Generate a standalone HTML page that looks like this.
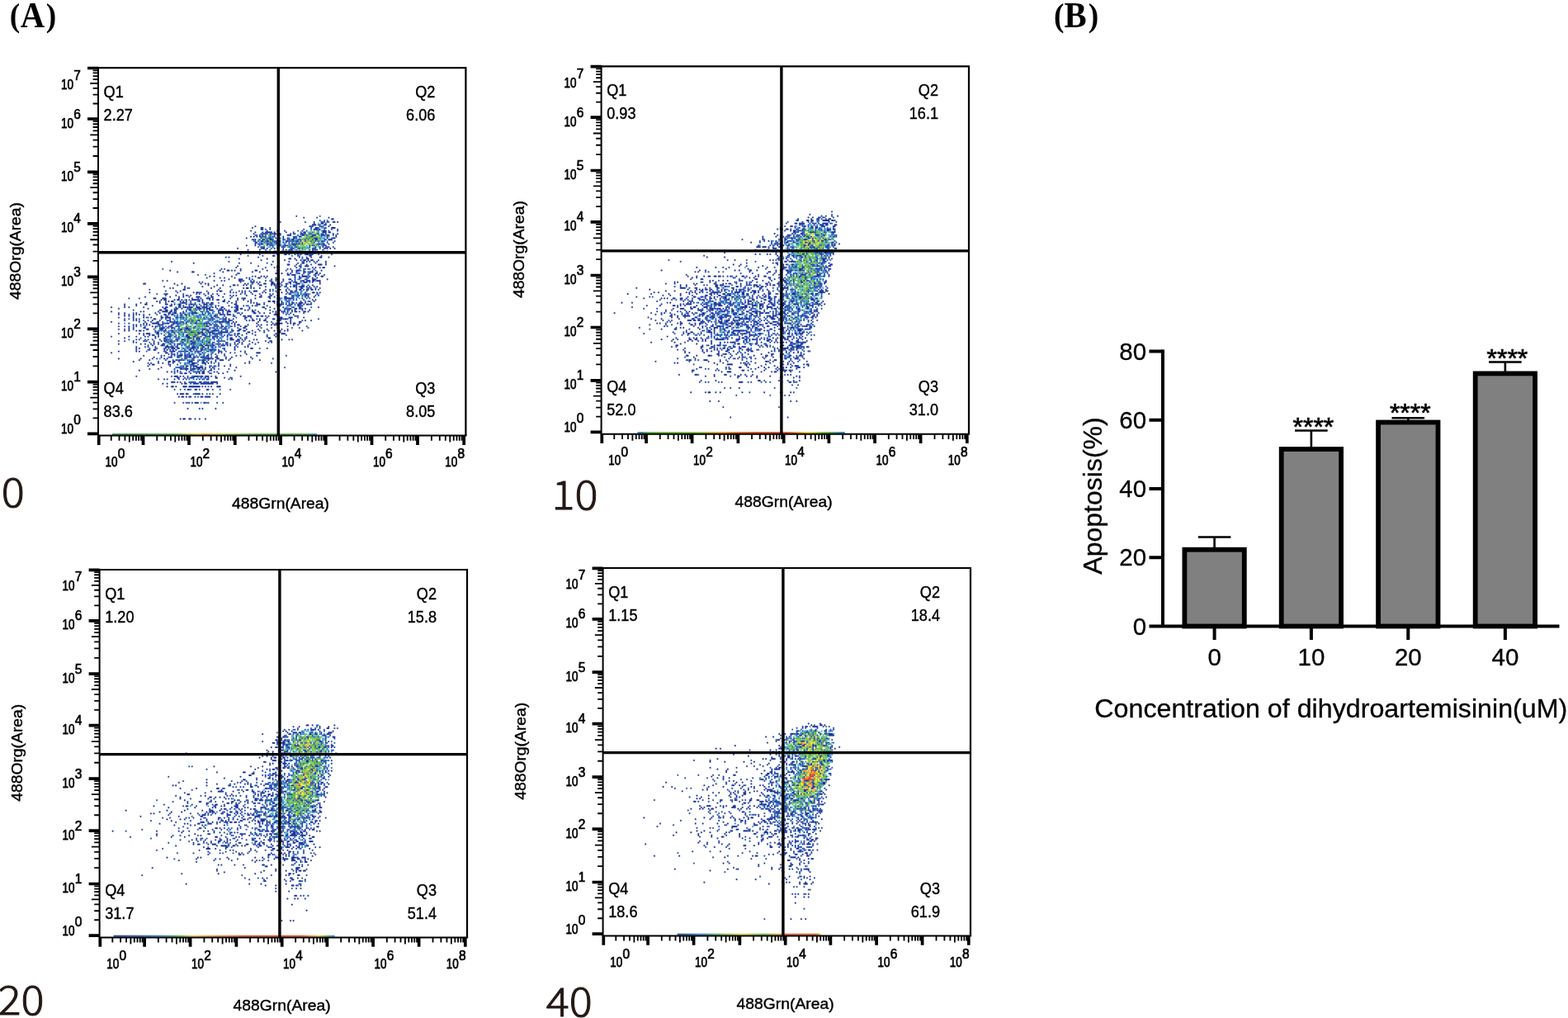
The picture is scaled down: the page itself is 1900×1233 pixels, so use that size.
<!DOCTYPE html>
<html lang="en"><head><meta charset="utf-8"><title>Figure: apoptosis flow cytometry and quantification</title>
<style>html,body{margin:0;padding:0;background:#fff}body{width:1900px;height:1233px;overflow:hidden}svg{display:block}text{white-space:pre}</style>
</head><body>
<svg width="1900" height="1233" viewBox="0 0 1900 1233">
<rect width="1900" height="1233" fill="#fff"/>
<text transform="translate(11.65 0) scale(0.925 1)" font-family='"Liberation Serif", "Times New Roman", serif' font-weight="bold" font-size="44" fill="#000"><tspan x="0" y="32" font-size="40.5">(</tspan><tspan x="14.11" y="32.9">A</tspan><tspan x="47.57" y="32" font-size="40.5">)</tspan></text>
<text transform="translate(1276.9 0) scale(0.925 1)" font-family='"Liberation Serif", "Times New Roman", serif' font-weight="bold" font-size="44" fill="#000"><tspan x="0" y="32" font-size="40.5">(</tspan><tspan x="13.73" y="32.9">B</tspan><tspan x="45.19" y="32" font-size="40.5">)</tspan></text>
<g transform="translate(0 0)">
<defs><g id="sc1"><path stroke="#1c349c" d="M0 0m135 101h0m5 1h0m9 0h0m8 0h0m2 1h1m-9 1h0m-27 1h0m17 0h0m6 0h0m5 0h0m2 0h0m2 0h0m4 0h1m2 0h0m-16 1h0m5 0h1m-7 1h2m2 0h0m4 0h1m3 0h0m-51 1h0m39 0h0m5 0h0m2 0h0m4 0h0m-52 1h0m6 0h1m33 0h0m3 0h1m6 0h0m4 0h2m-50 1h1m2 0h0m3 0h0m23 0h0m7 0h2m10 0h0m4 0h0m-59 1h0m11 0h0m7 0h0m5 0h0m12 0h0m3 0h0m11 0h2m8 0h0m-56 1h0m5 0h0m2 0h4m2 0h0m8 0h0m5 0h0m7 0h1m12 0h2m2 0h1m-52 1h0m9 0h0m3 0h0m2 0h1m3 0h0m7 0h0m2 0h0m5 0h1m2 0h0m3 0h0m6 0h0m3 0h0m2 0h0m5 0h0m3 0h0m-55 1h0m2 0h0m2 0h0m8 0h0m9 0h2m5 0h0m3 0h1m2 0h0m4 0h2m4 0h2m2 0h1m5 0h0m-58 1h0m2 0h0m2 0h0m4 0h0m2 0h0m5 0h0m7 0h0m8 0h0m3 0h1m7 0h1m10 0h0m6 0h0m-61 1h0m10 0h0m5 0h1m4 0h0m5 0h0m3 0h0m4 0h1m8 0h0m2 0h0m3 0h2m7 0h0m4 0h1m-56 1h0m2 0h0m5 0h1m2 0h0m2 0h2m7 0h0m4 0h0m2 0h1m4 0h0m4 0h0m5 0h0m2 0h1m5 0h0m3 0h2m-52 1h0m2 0h0m2 0h1m3 0h1m3 0h0m2 0h0m3 0h0m4 0h1m2 0h0m2 0h0m2 0h1m2 0h0m3 0h0m4 0h0m3 0h0m2 0h0m4 0h0m7 0h0m-54 1h1m10 0h0m2 0h0m2 0h0m4 0h0m4 0h0m9 0h0m8 0h0m6 0h0m3 0h0m4 0h0m-53 1h0m4 0h1m3 0h1m2 0h0m5 0h0m9 0h3m2 0h0m2 0h0m11 0h1m2 0h1m3 0h0m-56 1h0m6 0h0m10 0h0m6 0h1m3 0h1m6 0h0m10 0h0m2 0h0m9 0h0m-44 1h0m2 0h0m13 0h0m4 0h0m5 0h0m9 0h0m4 0h0m3 0h0m2 0h0m2 0h0m2 0h0m-62 1h0m17 0h1m2 0h0m5 0h0m3 0h0m3 0h0m11 0h0m14 0h0m3 0h0m2 0h0m2 0h0m3 0h0m-59 1h0m8 0h0m16 0h0m2 0h0m3 0h1m14 0h0m2 0h0m5 0h0m-38 1h0m5 0h0m3 0h0m2 0h0m2 0h0m9 0h3m7 0h0m8 0h0m2 0h0m-53 1h0m17 0h0m9 0h0m2 0h1m3 0h1m3 0h1m2 0h0m2 0h0m3 0h1m4 0h0m3 0h0m-58 1h0m13 0h0m12 0h0m5 0h1m2 0h0m4 0h0m2 0h0m2 0h0m3 0h2m16 0h0m-47 1h0m7 0h1m16 0h0m8 0h1m7 0h0m-65 1h0m2 0h0m20 0h0m28 0h0m5 0h0m3 0h0m6 0h1m5 0h0m-42 1h0m15 0h1m3 0h0m8 0h1m-32 1h0m16 0h0m8 0h0m3 0h0m2 0h1m2 0h0m2 0h1m-96 1h0m69 0h0m11 0h0m10 0h0m2 0h0m2 0h0m3 0h0m2 0h0m6 0h0m-90 1h0m31 0h0m8 0h0m32 0h0m3 0h1m8 0h0m-30 1h0m11 0h1m12 0h0m8 0h2m3 0h0m-60 1h0m14 0h0m13 0h0m12 0h0m3 0h1m3 0h2m18 0h0m-67 1h0m20 0h0m6 0h0m2 0h0m13 0h0m3 0h0m8 0h0m2 0h0m3 0h0m2 0h1m-70 1h0m2 0h0m11 0h0m15 0h0m17 0h0m2 0h0m10 0h0m2 0h0m4 0h0m-98 1h0m34 0h0m5 0h1m2 0h0m2 0h0m4 0h0m10 0h1m7 0h0m7 0h0m10 0h0m3 0h2m3 0h0m12 0h0m-98 1h0m10 0h1m20 0h0m20 0h0m5 0h0m22 0h0m3 0h0m5 0h1m3 0h2m3 0h0m-70 1h0m16 0h0m26 0h1m3 0h0m4 0h0m2 0h0m6 0h0m3 0h0m4 0h0m4 0h1m2 0h0m-83 1h0m26 0h0m35 0h1m2 0h2m5 0h0m4 0h0m5 0h0m2 0h0m4 0h0m-78 1h0m3 0h0m12 0h0m16 0h0m4 0h0m2 0h0m2 0h0m19 0h0m3 0h0m2 0h3m2 0h0m4 0h0m4 0h1m-79 1h0m9 0h0m3 0h0m7 0h0m8 0h0m2 0h0m6 0h1m4 0h0m7 0h0m13 0h0m3 0h1m5 0h0m3 0h0m3 0h0m-60 1h0m7 0h2m5 0h0m2 0h0m13 0h0m3 0h1m4 0h0m4 0h1m10 0h0m5 0h2m8 0h0m-112 1h0m3 0h0m32 0h0m5 0h0m2 0h0m10 0h1m2 0h0m5 0h0m2 0h0m8 0h0m4 0h0m8 0h0m6 0h0m2 0h0m5 0h1m2 0h2m2 0h1m2 0h2m-82 1h0m2 0h0m39 0h0m8 0h1m4 0h0m2 0h0m5 0h1m3 0h1m5 0h2m2 0h0m2 0h0m5 0h0m-120 1h1m20 0h0m5 0h0m13 0h0m3 0h0m2 0h0m25 0h0m2 0h0m3 0h0m4 0h0m4 0h1m4 0h2m2 0h0m6 0h0m3 0h0m4 0h2m14 0h0m-97 1h0m21 0h0m6 0h0m4 0h0m7 0h1m2 0h0m4 0h0m2 0h0m3 0h0m6 0h1m7 0h0m2 0h0m5 0h0m3 0h0m7 0h0m4 0h0m7 0h0m-101 1h0m14 0h0m12 0h0m8 0h0m11 0h0m14 0h0m10 0h0m7 0h0m3 0h0m4 0h0m3 0h0m4 0h0m3 0h2m2 0h0m2 0h0m3 0h0m2 0h0m-98 1h0m8 0h0m2 0h0m16 0h0m6 0h0m16 0h0m2 0h1m2 0h0m2 0h0m4 0h0m11 0h0m14 0h0m3 0h1m4 0h0m2 0h0m3 0h0m-113 1h0m23 0h1m23 0h0m32 0h0m3 0h0m2 0h0m4 0h1m4 0h0m2 0h0m5 0h0m2 0h1m2 0h0m2 0h1m2 0h1m2 0h0m2 0h0m-104 1h0m7 0h0m3 0h0m25 0h0m2 0h1m6 0h0m6 0h0m2 0h0m2 0h0m3 0h0m3 0h2m5 0h0m4 0h0m4 0h0m7 0h0m3 0h1m2 0h1m-100 1h0m19 0h0m11 0h0m2 0h1m2 0h0m5 0h0m15 0h0m4 0h0m4 0h0m6 0h0m8 0h0m2 0h0m8 0h0m3 0h0m4 0h0m2 0h0m5 0h0m5 0h0m5 0h1m2 0h0m2 0h0m-111 1h0m6 0h1m11 0h0m9 0h0m2 0h0m6 0h0m3 0h0m3 0h0m5 0h0m11 0h0m3 0h0m5 0h0m5 0h0m7 0h0m2 0h0m9 0h0m2 0h1m5 0h0m4 0h0m3 0h0m6 0h0m-103 1h0m7 0h0m5 0h0m2 0h0m3 0h0m10 0h0m4 0h0m5 0h0m8 0h0m2 0h0m2 0h0m7 0h0m6 0h0m4 0h0m7 0h0m4 0h0m10 0h0m3 0h0m4 0h0m2 0h1m8 0h0m-118 1h0m17 0h0m6 0h0m3 0h0m4 0h0m5 0h2m8 0h1m7 0h0m6 0h0m19 0h1m5 0h1m3 0h0m7 0h1m4 0h0m4 0h0m5 0h0m2 0h0m4 0h0m-109 1h1m5 0h2m9 0h0m9 0h0m4 0h0m2 0h0m4 0h2m2 0h0m12 0h0m5 0h0m4 0h1m7 0h0m10 0h0m5 0h0m5 0h4m8 0h0m-96 1h0m2 0h1m6 0h0m2 0h1m2 0h0m3 0h0m4 0h3m4 0h0m5 0h0m2 0h0m3 0h1m4 0h0m9 0h0m4 0h0m5 0h0m29 0h0m2 0h0m5 0h0m6 0h0m2 0h0m-108 1h0m2 0h0m4 0h0m2 0h0m2 0h1m5 0h0m2 0h0m2 0h0m3 0h0m6 0h0m2 0h0m14 0h1m3 0h0m5 0h0m8 0h0m2 0h0m12 0h1m2 0h1m2 0h0m3 0h0m4 0h0m9 0h0m3 0h0m3 0h0m3 0h0m-118 1h0m4 0h0m9 0h0m4 0h0m11 0h2m4 0h0m9 0h0m2 0h0m3 0h1m13 0h0m3 0h0m10 0h0m2 0h0m2 0h0m5 0h0m7 0h0m2 0h0m3 0h0m5 0h0m2 0h1m4 0h2m2 0h0m4 0h0m-127 1h0m8 0h0m6 0h1m13 0h1m3 0h0m2 0h0m3 0h1m4 0h0m3 0h1m2 0h0m3 0h0m3 0h2m2 0h1m16 0h1m14 0h2m3 0h0m9 0h0m2 0h1m3 0h0m2 0h0m2 0h0m4 0h2m2 0h0m2 0h1m2 0h0m-127 1h0m8 0h0m11 0h0m12 0h1m5 0h1m2 0h0m4 0h0m3 0h0m2 0h0m3 0h0m4 0h0m3 0h0m3 0h0m2 0h0m7 0h0m5 0h1m4 0h0m3 0h0m3 0h0m3 0h0m7 0h0m7 0h2m5 0h0m2 0h0m5 0h1m2 0h0m-130 1h0m9 0h0m3 0h0m10 0h0m13 0h0m2 0h1m8 0h0m4 0h1m2 0h2m3 0h2m2 0h3m2 0h0m2 0h0m2 0h0m4 0h1m9 0h1m17 0h1m10 0h0m3 0h0m7 0h0m4 0h1m12 0h0m-136 1h0m20 0h0m11 0h1m7 0h1m3 0h0m4 0h0m2 0h0m3 0h0m2 0h2m2 0h0m2 0h2m5 0h0m3 0h0m2 0h0m8 0h1m2 0h1m5 0h0m11 0h0m6 0h0m8 0h0m2 0h1m3 0h1m2 0h0m2 0h0m2 0h0m-99 1h1m3 0h1m3 0h0m2 0h1m9 0h1m4 0h0m7 0h0m2 0h2m4 0h3m2 0h0m2 0h0m5 0h1m5 0h0m2 0h0m3 0h0m12 0h0m7 0h0m3 0h0m2 0h0m3 0h0m2 0h0m5 0h0m5 0h0m-135 1h0m20 0h0m2 0h0m10 0h0m3 0h3m2 0h1m2 0h0m6 0h0m6 0h0m2 0h0m4 0h0m12 0h0m3 0h0m3 0h2m3 0h1m11 0h1m3 0h0m12 0h0m2 0h0m2 0h0m2 0h0m2 0h0m3 0h0m2 0h1m2 0h0m3 0h1m2 0h0m-129 1h0m4 0h0m8 0h0m13 0h0m3 0h0m6 0h1m3 0h1m3 0h0m2 0h0m6 0h3m8 0h0m3 0h0m4 0h0m3 0h0m3 0h0m7 0h0m3 0h0m8 0h1m3 0h0m3 0h0m4 0h0m4 0h0m5 0h0m5 0h0m9 0h0m-126 1h0m4 0h0m3 0h0m3 0h0m2 0h0m2 0h0m3 0h0m4 0h0m10 0h1m2 0h0m2 0h1m8 0h1m2 0h0m2 0h0m16 0h0m3 0h1m2 0h0m2 0h2m7 0h0m23 0h2m6 0h0m5 0h0m-115 1h0m3 0h0m3 0h0m7 0h0m12 0h0m4 0h0m7 0h0m3 0h0m3 0h0m8 0h0m9 0h0m2 0h1m19 0h1m2 0h2m4 0h1m2 0h1m2 0h0m2 0h0m6 0h0m12 0h0m2 0h0m-122 1h0m10 0h0m7 0h0m2 0h0m3 0h0m7 0h1m2 0h3m4 0h1m2 0h0m2 0h0m10 0h0m14 0h0m5 0h0m13 0h1m3 0h0m11 0h0m9 0h1m5 0h2m8 0h0m-122 1h0m3 0h0m3 0h0m2 0h0m12 0h1m4 0h0m3 0h0m3 0h0m2 0h0m9 0h0m12 0h0m4 0h0m2 0h0m5 0h0m3 0h1m2 0h0m3 0h0m8 0h0m5 0h0m5 0h0m4 0h0m5 0h1m3 0h2m2 0h1m3 0h0m19 0h0m-132 1h0m8 0h0m11 0h0m5 0h0m5 0h0m2 0h0m13 0h0m2 0h0m4 0h1m7 0h0m9 0h0m2 0h0m2 0h1m13 0h0m2 0h1m4 0h0m3 0h1m8 0h0m2 0h0m7 0h0m10 0h0m4 0h0m-136 1h0m23 0h0m4 0h0m5 0h0m8 0h1m2 0h0m5 0h0m4 0h0m6 0h0m8 0h0m5 0h0m2 0h3m2 0h2m3 0h0m2 0h0m15 0h0m6 0h0m13 0h0m3 0h0m6 0h1m-124 1h0m7 0h0m10 0h0m2 0h0m4 0h4m3 0h0m3 0h1m3 0h1m3 0h0m5 0h0m6 0h1m3 0h0m2 0h2m2 0h0m7 0h0m6 0h0m2 0h0m2 0h0m15 0h0m11 0h0m2 0h1m2 0h1m4 0h0m2 0h0m2 0h1m3 0h0m-113 1h0m2 0h0m3 0h0m4 0h0m2 0h0m6 0h1m2 0h0m6 0h0m4 0h0m20 0h0m3 0h0m2 0h0m5 0h0m9 0h0m2 0h1m6 0h0m7 0h0m2 0h0m4 0h0m3 0h0m2 0h0m2 0h1m10 0h0m3 0h0m-122 1h0m4 0h0m3 0h0m5 0h0m11 0h0m3 0h0m9 0h1m3 0h0m2 0h0m11 0h0m8 0h1m5 0h0m4 0h1m2 0h0m3 0h0m3 0h0m4 0h0m3 0h1m7 0h0m21 0h0m13 0h0m-121 1h0m3 0h0m7 0h1m7 0h0m4 0h2m3 0h0m2 0h1m4 0h0m5 0h1m4 0h0m11 0h0m3 0h0m2 0h0m3 0h0m5 0h0m6 0h0m4 0h1m11 0h0m7 0h0m4 0h0m10 0h0m5 0h0m6 0h0m-129 1h0m4 0h0m3 0h0m3 0h0m9 0h1m8 0h2m2 0h0m10 0h1m3 0h2m6 0h0m3 0h2m7 0h0m5 0h0m2 0h0m9 0h1m4 0h0m8 0h0m6 0h0m8 0h0m2 0h0m4 0h0m-111 1h0m3 0h0m5 0h0m2 0h1m2 0h0m8 0h0m6 0h1m4 0h1m5 0h0m3 0h0m3 0h0m9 0h0m3 0h1m3 0h3m3 0h0m4 0h0m3 0h1m3 0h1m3 0h1m5 0h0m5 0h0m3 0h0m3 0h0m4 0h0m4 0h0m3 0h0m2 0h0m10 0h0m-99 1h1m7 0h0m3 0h0m6 0h0m3 0h0m3 0h2m3 0h0m2 0h1m4 0h3m5 0h5m2 0h0m12 0h1m4 0h0m6 0h0m10 0h1m-110 1h0m14 0h0m3 0h0m2 0h2m5 0h1m11 0h0m3 0h0m3 0h0m8 0h0m2 0h1m2 0h1m4 0h0m2 0h1m3 0h0m2 0h0m5 0h0m4 0h0m2 0h1m5 0h0m4 0h0m16 0h0m4 0h2m-96 1h0m4 0h0m2 0h1m7 0h0m4 0h0m9 0h0m2 0h1m6 0h0m5 0h1m3 0h0m4 0h0m8 0h0m2 0h0m3 0h0m2 0h0m3 0h0m9 0h0m8 0h0m5 0h0m2 0h0m-101 1h0m5 0h0m6 0h0m2 0h0m5 0h0m2 0h0m6 0h2m3 0h0m3 0h0m5 0h2m3 0h1m4 0h0m8 0h0m3 0h0m4 0h0m3 0h0m6 0h0m2 0h0m19 0h0m6 0h0m-103 1h0m21 0h0m6 0h1m9 0h0m6 0h2m4 0h2m3 0h0m9 0h0m9 0h1m6 0h0m3 0h0m16 0h1m-91 1h0m2 0h0m4 0h0m2 0h0m3 0h0m5 0h0m3 0h0m3 0h0m5 0h1m3 0h2m6 0h0m2 0h0m2 0h0m10 0h0m3 0h0m8 0h2m3 0h1m2 0h0m2 0h0m6 0h0m2 0h0m17 0h0m5 0h0m2 0h0m-118 1h0m4 0h0m6 0h0m7 0h0m2 0h0m5 0h0m5 0h0m2 0h1m3 0h1m2 0h0m2 0h0m7 0h0m2 0h1m4 0h0m3 0h0m3 0h0m8 0h0m2 0h0m2 0h0m8 0h1m4 0h0m4 0h0m11 0h0m3 0h1m5 0h0m-97 1h0m12 0h0m3 0h0m7 0h0m2 0h0m14 0h2m5 0h0m4 0h1m2 0h0m15 0h0m3 0h0m9 0h0m4 0h0m7 0h0m2 0h0m5 0h0m-109 1h0m15 0h0m3 0h0m4 0h0m2 0h0m3 0h0m3 0h1m4 0h0m3 0h0m3 0h1m7 0h1m6 0h0m2 0h0m6 0h0m3 0h0m2 0h0m5 0h0m5 0h0m2 0h0m3 0h0m5 0h0m4 0h0m-73 1h0m3 0h0m6 0h1m3 0h0m7 0h0m3 0h0m8 0h0m5 0h1m2 0h2m3 0h1m5 0h2m2 0h0m2 0h0m4 0h0m8 0h0m-76 1h0m6 0h0m7 0h0m7 0h2m2 0h1m3 0h0m7 0h0m3 0h2m2 0h0m3 0h1m3 0h0m3 0h0m2 0h0m3 0h0m10 0h0m7 0h0m2 0h0m-76 1h0m2 0h0m12 0h0m6 0h0m4 0h2m2 0h1m3 0h0m3 0h0m2 0h2m6 0h0m4 0h0m11 0h0m7 0h0m11 0h1m10 0h0m-80 1h0m3 0h1m6 0h0m2 0h0m2 0h0m2 0h0m2 0h0m6 0h0m3 0h1m2 0h0m2 0h0m3 0h1m5 0h2m4 0h0m4 0h0m7 0h0m-79 1h0m12 0h0m2 0h0m17 0h0m5 0h2m3 0h0m3 0h0m5 0h0m3 0h0m4 0h0m5 0h0m2 0h0m5 0h1m14 0h0m3 0h0m-91 1h0m32 0h0m5 0h1m3 0h0m12 0h0m9 0h0m7 0h0m4 0h0m2 0h0m6 0h0m10 0h0m8 0h2m-62 1h0m2 0h0m2 0h0m5 0h0m2 0h0m3 0h0m2 0h0m8 0h0m5 0h0m3 0h0m6 0h0m15 0h0m-70 1h0m12 0h0m2 0h0m5 0h0m5 0h2m2 0h1m2 0h1m9 0h0m2 0h1m6 0h0m5 0h0m8 0h0m3 0h0m11 0h0m20 0h0m-90 1h0m5 0h0m6 0h1m4 0h1m5 0h0m2 0h1m2 0h1m2 0h0m2 0h3m2 0h0m2 0h0m3 0h1m6 0h0m4 0h0m13 0h0m-90 1h0m15 0h0m11 0h0m5 0h0m2 0h0m17 0h0m10 0h2m2 0h0m3 0h1m5 0h0m3 0h0m15 0h0m14 0h0m-91 1h0m7 0h0m11 0h0m5 0h0m4 0h1m2 0h0m3 0h0m4 0h0m4 0h0m2 0h1m3 0h0m5 0h0m3 0h2m4 0h0m21 0h0m-86 1h0m17 0h0m7 0h1m2 0h1m10 0h2m4 0h0m6 0h0m3 0h0m3 0h0m23 0h0m-69 1h0m2 0h0m5 0h0m3 0h0m4 0h0m3 0h0m11 0h0m2 0h2m5 0h2m2 0h0m2 0h0m5 0h0m18 0h0m3 0h0m15 0h0m-83 1h0m2 0h1m11 0h0m5 0h0m9 0h2m8 0h0m9 0h0m8 0h0m-56 1h0m15 0h0m9 0h0m2 0h1m4 0h2m3 0h0m6 0h0m3 0h0m3 0h0m4 0h0m4 0h0m-47 1h0m11 0h0m3 0h0m3 0h0m3 0h0m2 0h0m2 0h4m2 0h0m3 0h0m2 0h0m16 0h0m33 0h0m-92 1h0m6 0h0m15 0h1m2 0h2m3 0h2m2 0h1m2 0h0m2 0h0m4 0h0m2 0h0m10 0h0m-61 1h0m26 0h0m9 0h0m7 0h0m2 0h0m5 0h0m16 0h0m-46 1h0m3 0h0m2 0h0m4 0h0m6 0h0m4 0h0m2 0h1m2 0h1m3 0h0m4 0h0m9 0h0m35 0h0m-66 1h0m2 0h1m3 0h0m4 0h0m2 0h0m2 0h1m4 0h0m6 0h0m3 0h0m-59 2h0m24 0h0m2 0h2m2 0h0m2 0h0m3 0h0m4 0h3m2 0h1m2 0h2m2 0h0m3 0h0m17 0h0m-43 1h1m4 0h0m2 0h0m2 0h2m5 0h0m3 0h0m2 0h0m5 0h1m5 0h0m4 0h0m-49 1h0m4 0h0m2 0h0m5 0h0m3 0h0m3 0h0m2 0h0m7 0h0m2 0h0m3 0h0m2 0h1m14 0h0m2 0h0m-41 2h2m2 0h0m2 0h0m3 0h0m3 0h0m4 0h0m3 0h1m2 0h0m3 0h0m2 0h4m-37 1h0m3 0h0m10 0h0m2 0h1m3 0h0m2 0h3m2 0h8m3 0h0m22 0h0m-56 2h0m3 0h1m2 0h0m5 0h2m2 0h7m2 0h0m2 0h0m4 0h0m4 0h2m-31 2h0m7 0h0m2 0h1m4 0h1m2 0h0m5 0h1m3 0h0m12 0h0m-36 3h0m2 0h2m2 0h1m5 0h3m2 0h0m5 0h0m2 0h0m5 0h0m-28 2h0m2 0h1m2 0h0m2 0h1m3 0h0m4 0h1m2 0h3m5 0h0m-29 4h0m6 0h0m2 0h0m2 0h0m2 0h0m2 0h2m4 0h1m2 0h0m6 0h0m4 0h0m-24 4h0m8 0h0m2 0h0m9 0h0m-24 7h0m2 0h1m3 0h1m3 0h0m3 0h0m4 0h0"/><path stroke="#1d4fae" d="M0 0m151 101h0m3 3h0m2 0h0m-3 1h0m4 0h0m-2 1h0m-4 1h0m-7 1h1m7 0h0m-35 1h0m33 0h0m4 0h0m-9 1h0m5 0h1m3 0h0m-18 1h0m14 0h0m7 0h0m-19 1h0m8 0h0m-35 1h3m3 0h0m2 0h0m15 0h0m6 0h0m5 0h0m4 0h0m3 0h0m-45 1h0m7 0h0m3 0h0m5 0h0m2 0h0m36 0h0m-50 1h1m2 0h0m4 0h0m3 0h0m13 0h0m2 0h0m17 0h0m-38 1h0m4 0h0m6 0h0m6 0h0m5 0h0m16 0h0m8 0h0m-53 1h0m4 0h0m17 0h0m2 0h0m7 0h0m2 0h0m5 0h0m12 0h0m-49 1h0m8 0h0m6 0h0m2 0h0m8 0h0m2 0h0m2 0h0m18 0h1m-42 1h0m2 0h0m2 0h0m2 0h0m4 0h0m7 0h0m4 0h0m3 0h0m2 0h0m-28 1h1m7 0h0m4 0h0m3 0h0m3 0h0m3 0h0m6 0h0m13 0h0m3 0h0m-42 1h0m5 0h0m3 0h1m3 0h0m4 0h0m3 0h0m2 0h0m2 0h0m14 0h0m6 0h1m-45 1h0m3 0h0m7 0h0m3 0h1m2 0h0m2 0h0m5 0h0m2 0h0m22 0h0m4 0h0m-49 1h0m7 0h0m4 0h0m9 0h2m3 0h0m3 0h0m7 0h2m7 0h0m-41 1h0m3 0h0m13 0h0m5 0h0m9 0h0m3 0h0m2 0h0m-28 1h0m5 0h0m3 0h4m-10 1h0m14 0h1m6 1h2m4 0h0m-48 1h0m30 0h0m5 0h0m2 1h0m-43 1h0m43 0h0m11 1h0m-61 1h0m50 0h0m-24 1h0m40 0h0m-20 1h0m3 0h0m7 0h0m-101 3h0m93 0h0m3 0h0m4 0h0m-16 1h0m18 0h0m2 0h0m-5 1h0m-47 1h0m40 0h0m-63 1h0m74 0h0m-42 1h0m37 1h0m-8 1h0m3 0h0m5 0h0m-44 1h0m19 0h0m4 0h0m17 0h0m-41 1h0m7 0h2m2 0h0m25 0h0m5 0h0m-14 1h0m5 0h0m-8 1h0m2 0h0m10 0h1m6 0h0m3 0h0m-16 1h0m6 0h1m3 0h0m-88 1h0m13 0h0m67 0h0m22 0h0m-60 1h0m-17 1h0m68 0h0m-73 1h0m23 0h0m8 0h0m23 0h0m9 0h1m5 0h0m-93 1h0m27 0h0m66 0h0m3 0h1m-81 1h0m56 0h0m16 0h0m3 0h1m6 0h0m5 0h0m-25 1h0m10 0h0m-112 1h0m7 0h0m70 0h0m26 0h0m8 0h1m9 0h0m2 0h0m-82 1h0m6 0h1m59 0h0m2 0h0m-62 1h0m55 0h0m7 0h0m13 0h0m-87 1h0m4 0h0m6 0h0m5 0h0m4 0h0m7 0h0m6 0h0m38 0h0m2 0h0m7 0h0m-73 1h0m3 0h0m13 0h0m48 0h0m5 0h0m3 0h0m10 0h0m-72 1h0m29 0h0m6 0h0m23 0h0m8 0h0m-85 1h0m3 0h0m2 0h0m3 0h0m30 0h0m2 0h0m10 0h0m14 0h0m15 0h0m13 0h0m-93 1h0m10 0h0m21 0h0m44 0h0m2 0h0m9 0h0m-114 1h0m36 0h0m9 0h0m3 0h0m21 0h0m14 0h0m23 0h0m-77 1h0m7 0h0m11 0h0m3 0h1m44 0h0m7 0h0m-102 1h0m27 0h0m11 0h0m9 0h0m2 0h0m3 0h0m7 0h0m13 0h0m33 0h0m-89 1h0m14 0h0m2 0h1m12 0h0m2 0h1m3 0h0m6 0h0m4 0h0m7 0h0m38 0h0m-84 1h0m6 0h0m4 0h0m6 0h0m5 0h0m14 0h0m5 0h0m6 0h1m42 0h0m-101 1h0m23 0h0m13 0h0m2 0h0m2 0h0m3 0h1m3 0h0m4 0h0m9 0h0m42 0h0m-108 1h0m30 0h0m5 0h0m10 0h0m2 0h0m2 0h0m2 0h0m6 0h0m23 0h0m18 0h0m3 0h0m-105 1h0m7 0h0m3 0h0m14 0h0m4 0h0m7 0h0m19 0h0m3 0h0m5 0h0m5 0h0m10 0h0m38 0h0m-111 1h0m12 0h0m4 0h0m7 0h0m2 0h1m2 0h0m2 0h0m2 0h0m4 0h0m10 0h0m5 0h0m2 0h0m5 0h0m32 0h0m-73 1h1m7 0h1m2 0h0m2 0h0m5 0h0m12 0h0m3 0h0m10 0h0m35 0h0m-92 1h0m12 0h0m8 0h0m21 0h0m4 0h0m4 0h1m8 0h0m32 0h0m-97 1h0m8 0h0m7 0h0m3 0h0m2 0h0m2 0h0m2 0h0m6 0h0m6 0h0m3 0h0m10 0h0m6 0h0m2 0h1m9 0h0m19 0h0m-68 1h0m5 0h0m5 0h0m7 0h0m7 0h0m12 0h0m5 0h0m3 0h1m-49 1h0m14 0h0m3 0h0m4 0h0m4 0h0m11 0h0m2 0h0m3 0h0m7 0h0m5 0h0m-48 1h0m10 0h0m2 0h0m12 0h0m15 0h0m5 0h0m-48 1h0m6 0h0m2 0h0m3 0h0m2 0h0m7 0h0m10 0h0m4 0h0m9 0h0m-39 1h0m5 0h1m13 0h0m12 0h0m6 0h1m2 0h0m-42 1h0m7 0h0m2 0h0m3 0h0m13 0h0m5 0h0m10 0h0m3 0h0m2 0h0m5 0h0m37 0h0m-119 1h0m37 0h0m7 0h0m20 0h3m3 0h1m21 0h0m-72 1h0m20 0h0m5 0h0m11 0h0m13 0h1m4 0h0m18 0h0m-80 1h0m25 0h1m3 0h0m11 0h0m7 0h0m3 0h0m5 0h0m12 0h0m-56 1h0m15 0h0m10 0h0m2 0h0m7 0h0m10 0h0m5 0h0m2 0h0m2 0h0m11 0h0m-72 1h0m11 0h0m12 0h0m4 0h0m6 0h1m3 0h0m18 0h0m3 0h0m5 0h1m10 0h0m-44 1h0m5 0h0m6 0h1m8 0h0m8 0h0m3 0h0m2 0h0m3 0h0m-45 1h0m5 0h0m2 0h0m7 0h0m3 0h0m7 0h0m7 0h1m5 0h0m-48 1h0m15 0h0m4 0h0m7 0h0m2 0h0m15 0h0m18 0h0m-60 1h0m4 0h0m6 0h0m3 0h0m18 0h0m2 0h0m2 0h0m3 0h0m5 0h0m7 0h0m25 0h0m-84 1h0m8 0h0m39 0h0m6 0h1m-47 1h0m13 0h0m3 0h0m7 0h1m2 0h2m3 0h0m3 0h2m5 0h0m5 0h0m5 0h0m3 0h0m-33 1h0m5 0h0m7 0h0m2 0h0m25 0h0m-42 1h0m3 0h0m2 0h0m5 0h0m8 0h1m5 0h0m-23 1h0m2 0h0m7 0h0m4 0h0m2 0h0m-19 1h0m11 0h0m2 0h0m13 0h0m-37 1h0m20 0h0m2 0h1m5 0h0m7 0h1m4 0h0m-24 1h1m3 0h0m7 0h0m9 0h0m-18 1h0m16 0h1m-16 1h0m3 0h0m2 0h0m6 0h0m12 0h0m-31 1h0m11 0h0m9 0h0m-5 1h0m14 0h0m3 0h0m-27 1h0m2 0h1m2 0h0m21 0h0m-27 1h0m6 0h0m5 0h0m19 0h0m-22 1h0m4 0h0m12 0h0m-22 1h0m11 0h0m2 0h0m14 0h0m40 0h0m-69 1h0m4 0h0m21 0h0m-13 2h0m5 0h0m22 1h0m-29 1h0m9 0h0m-8 2h2m8 0h1m1 3h0m-19 2h0m7 0h0m20 0h0m-18 3h0m9 0h0m-6 2h0m-7 4h0m13 0h0"/><path stroke="#2e8fd4" d="M0 0m152 111h0m-8 1h0m6 0h0m-39 2h0m27 0h0m17 0h0m-37 1h0m39 0h0m-42 1h0m38 0h1m-32 1h0m9 0h0m4 0h0m-9 1h0m30 0h0m-46 1h0m4 0h0m2 0h0m7 0h1m12 0h0m14 0h0m-31 1h0m3 0h0m24 0h0m-16 1h0m20 0h0m2 0h0m-21 1h0m5 0h0m7 1h0m0 2h1m-6 13h0m-2 1h0m-1 1h0m8 0h0m0 2h0m-7 2h0m12 1h0m-9 2h0m3 3h0m2 0h0m-25 2h0m19 0h1m-5 1h0m0 1h0m10 0h0m6 0h0m-16 1h0m-59 1h0m64 0h0m-14 1h0m10 0h0m2 0h0m-78 1h0m65 0h0m3 0h0m4 0h0m-3 1h0m4 0h0m-80 1h0m23 2h0m2 1h0m51 0h0m-61 1h0m-4 2h0m15 0h1m-20 1h0m4 0h0m65 0h0m-63 1h0m5 0h0m6 0h1m-11 1h0m3 0h1m4 0h0m2 0h0m-21 1h0m4 0h0m21 0h0m-27 1h1m2 0h1m14 0h0m13 0h0m-56 1h0m26 0h0m7 0h0m4 0h0m2 0h0m4 0h0m4 0h0m2 0h0m-14 1h0m-45 1h0m41 0h0m6 0h0m3 0h1m2 0h0m9 0h0m4 0h0m3 0h0m-32 1h0m2 0h0m14 0h0m-42 1h0m39 0h1m2 0h0m17 0h0m-26 1h0m7 0h0m8 0h0m-27 1h0m4 0h0m16 0h0m5 0h0m6 0h1m6 0h0m-47 1h1m2 0h0m4 0h1m14 0h0m14 0h0m-23 1h1m24 0h0m12 0h0m-17 2h0m5 0h0m4 0h0m6 0h0m-39 1h0m7 0h1m10 0h0m14 0h0m2 0h0m-37 1h0m6 0h0m20 0h0m11 0h0m4 0h0m-39 1h0m6 0h0m17 0h0m5 0h0m7 0h0m-36 1h0m3 0h0m14 0h0m4 0h1m3 0h0m2 0h0m-29 1h0m3 0h0m7 0h0m7 0h0m11 0h0m-17 1h1m2 0h0m7 0h2m8 0h0m3 0h0m-16 1h0m3 0h0m0 1h0m15 0h0m-23 1h0m3 0h0m5 0h0m7 0h0m5 0h0m-7 1h0m3 0h0m3 1h0m-22 1h0m13 0h0m3 0h1m4 0h0m-17 1h0m3 0h0m2 0h0m4 1h0m8 0h0m-35 2h0m17 1h0m3 0h1m5 0h0m2 0h0m-9 1h0m-1 1h0m0 1h0m-4 1h1m7 0h0m7 0h0m-19 3h0m13 0h0m3 0h0m0 5h0m4 0h0m-7 1h0m5 16h0"/><path stroke="#49b9c0" d="M0 0m150 106h0m2 3h1m-8 2h0m2 0h0m-4 1h0m4 0h0m-1 1h0m-2 1h0m-28 1h0m35 0h0m3 0h1m-36 1h0m18 0h0m3 0h0m12 0h0m-43 1h0m15 0h0m10 0h0m17 0h1m-42 1h0m41 0h0m-39 1h0m7 0h0m8 0h0m6 0h0m18 0h0m-31 1h0m11 0h0m7 0h0m6 0h0m-24 1h0m5 0h0m-9 1h1m21 0h0m4 0h1m4 0h0m3 0h0m-16 1h0m7 0h1m-8 1h0m5 0h0m2 0h0m-6 1h0m7 0h0m-5 2h0m-2 26h0m0 1h0m4 0h0m1 1h0m-5 1h0m-81 5h0m13 0h0m67 1h0m-5 1h0m-58 1h0m-7 1h0m1 1h0m8 0h0m-16 1h0m4 0h0m-9 1h0m15 0h0m12 0h0m-26 1h0m5 0h0m5 0h0m9 0h1m-10 1h0m4 0h0m2 0h0m4 0h0m-14 1h0m6 0h0m9 0h0m-14 1h0m20 0h0m2 0h0m-35 1h0m8 0h0m16 0h0m2 0h0m4 0h0m-19 2h0m3 0h0m27 0h0m-21 1h0m3 0h0m19 0h0m-25 1h0m3 0h0m5 0h0m-14 1h0m9 0h0m17 0h0m-16 1h0m-15 1h0m5 0h0m-8 1h0m7 0h0m4 0h0m-5 1h1m20 0h0m-18 1h0m-8 1h0m5 0h0m3 0h1m16 0h0m-14 2h0m10 0h0m-12 1h0m8 0h2m-20 1h0m23 0h0m-16 2h0m0 1h0m3 0h0m17 0h0m3 0h0m-23 1h0m3 0h0m12 1h0m4 0h0m-12 1h0m-8 3h0m11 0h0m4 1h0m-9 4h0m0 9h0"/><path stroke="#5dbb46" d="M0 0m149 111h0m-4 1h0m4 0h0m-6 1h0m-27 1h0m2 0h0m23 0h0m2 0h0m2 0h0m5 0h1m-9 1h2m3 0h0m2 0h0m-37 1h0m29 0h0m2 0h0m2 0h1m4 0h0m-36 1h0m2 0h0m23 0h1m7 0h0m3 0h0m-37 1h0m4 0h1m19 0h0m7 0h0m2 0h1m2 0h0m-15 1h0m8 0h0m3 0h1m6 0h0m-38 1h0m26 0h0m3 0h0m4 0h0m-34 1h0m19 0h0m3 0h1m2 0h0m4 0h0m3 0h0m3 0h1m-20 1h0m8 0h0m2 0h2m-3 1h0m2 0h0m4 0h0m-7 1h0m3 0h0m-75 40h0m8 0h0m-8 1h1m6 1h0m-4 1h0m-7 1h0m12 0h0m-8 1h0m-5 1h1m4 0h1m9 0h0m-13 1h0m2 0h0m2 0h0m2 0h2m-14 1h0m7 0h0m3 0h0m-4 1h0m3 0h1m3 0h1m-13 1h0m7 0h0m-8 1h0m4 0h0m4 0h0m3 0h3m3 0h0m-32 1h0m15 0h0m5 0h1m3 0h0m7 0h0m-15 1h1m5 0h0m5 0h0m3 0h0m2 0h0m-8 1h0m4 0h0m-17 1h0m2 0h0m3 0h0m3 0h1m3 0h2m3 0h0m4 0h0m-17 1h0m5 0h1m4 0h1m7 0h0m-28 1h0m10 0h0m7 0h1m6 0h0m-19 1h0m4 0h0m7 0h3m3 0h0m-4 1h0m3 0h0m2 0h0m-5 1h0m10 0h1m-15 1h0m2 0h0m2 0h0m10 0h1m-22 1h0m3 0h0m2 0h0m2 0h0m7 0h0m-5 1h0m5 0h0m5 0h1m-25 1h0m14 0h0m13 0h1m-16 1h0m6 0h0m2 0h0m2 1h0m2 1h0m2 1h0m-3 4h0m-12 8h0m8 1h0m5 0h0"/><path stroke="#8cc63f" d="M0 0m147 113h1m-7 2h0m7 0h0m2 0h0m-37 1h0m26 0h0m3 1h0m2 0h1m-5 1h0m2 0h1m-5 1h0m3 0h0m2 0h0m-2 1h0m4 0h0m3 0h0m-9 1h1m-76 49h0m6 7h0m-5 4h0m2 0h0"/><path stroke="#f3e21c" d="M0 0m140 119h0m4 0h0"/></g></defs><g transform="translate(118.99 81.99) scale(1.78)" fill="none" stroke-linecap="round"><use href="#sc1" stroke-width="1.5" stroke-opacity="0.3"/><use href="#sc1" stroke-width="1"/></g><linearGradient id="sg1" gradientUnits="userSpaceOnUse" x1="136" y1="0" x2="384" y2="0"><stop offset="0" stop-color="#3f9a4c"/><stop offset="0.3" stop-color="#58b947"/><stop offset="0.42" stop-color="#f2d12c"/><stop offset="0.45" stop-color="#f59a23"/><stop offset="0.5" stop-color="#c4d93a"/><stop offset="0.7" stop-color="#58b947"/><stop offset="0.95" stop-color="#58b947"/><stop offset="1" stop-color="#2f9bdc"/></linearGradient><rect x="136" y="524.9" width="248" height="2" fill="url(#sg1)" opacity="0.9"/>
<path d="M119 82.2H564.4V527.6" fill="none" stroke="#000" stroke-width="2.2"/>
<path d="M119 81.1V527.6H565.5" fill="none" stroke="#000" stroke-width="2"/>
<path d="M106 525.3H119M106 462.7H119M106 398.4H119M106 335.4H119M106 270.8H119M106 208.4H119M106 144H119M106 82.5H119M119.7 527.6V539M173.5 527.6V539M229 527.6V539M284.8 527.6V539M340.1 527.6V539M394.8 527.6V539M450.5 527.6V539M506 527.6V539M562.2 527.6V539" stroke="#000" stroke-width="3.7" fill="none"/>
<path d="M112.6 506.46H119M112.6 495.43H119M112.6 487.61H119M112.6 476.59H119M112.6 472.4H119M112.6 468.77H119M112.6 465.56H119M112.6 443.34H119M112.6 432.02H119M112.6 423.99H119M112.6 412.66H119M112.6 408.36H119M112.6 404.63H119M112.6 401.34H119M112.6 379.44H119M112.6 368.34H119M112.6 360.47H119M112.6 349.38H119M112.6 345.16H119M112.6 341.51H119M112.6 338.28H119M112.6 315.95H119M112.6 304.58H119M112.6 296.51H119M112.6 285.13H119M112.6 280.81H119M112.6 277.06H119M112.6 273.76H119M112.6 252.02H119M112.6 241.03H119M112.6 233.23H119M112.6 222.24H119M112.6 218.07H119M112.6 214.45H119M112.6 211.26H119M112.6 189.01H119M112.6 177.67H119M112.6 169.63H119M112.6 158.29H119M112.6 153.98H119M112.6 150.24H119M112.6 146.95H119M112.6 125.49H119M112.6 114.66H119M112.6 106.97H119M112.6 96.14H119M112.6 92.03H119M112.6 88.46H119M112.6 85.31H119M134.71 527.6V533.8M144.48 527.6V533.8M151.41 527.6V533.8M161.19 527.6V533.8M164.9 527.6V533.8M168.12 527.6V533.8M170.96 527.6V533.8M190.21 527.6V533.8M199.98 527.6V533.8M206.91 527.6V533.8M216.69 527.6V533.8M220.4 527.6V533.8M223.62 527.6V533.8M226.46 527.6V533.8M245.8 527.6V533.8M255.62 527.6V533.8M262.59 527.6V533.8M272.42 527.6V533.8M276.16 527.6V533.8M279.39 527.6V533.8M282.25 527.6V533.8M301.45 527.6V533.8M311.18 527.6V533.8M318.09 527.6V533.8M327.83 527.6V533.8M331.53 527.6V533.8M334.74 527.6V533.8M337.57 527.6V533.8M356.57 527.6V533.8M366.2 527.6V533.8M373.03 527.6V533.8M382.66 527.6V533.8M386.33 527.6V533.8M389.5 527.6V533.8M392.3 527.6V533.8M411.57 527.6V533.8M421.38 527.6V533.8M428.33 527.6V533.8M438.14 527.6V533.8M441.87 527.6V533.8M445.1 527.6V533.8M447.95 527.6V533.8M467.21 527.6V533.8M476.98 527.6V533.8M483.91 527.6V533.8M493.69 527.6V533.8M497.4 527.6V533.8M500.62 527.6V533.8M503.46 527.6V533.8M522.92 527.6V533.8M532.81 527.6V533.8M539.84 527.6V533.8M549.73 527.6V533.8M553.49 527.6V533.8M556.75 527.6V533.8M559.63 527.6V533.8M109.3 481.54H119M109.3 417.76H119M109.3 354.36H119M109.3 290.25H119M109.3 227.18H119M109.3 163.39H119M109.3 101.01H119M156.79 527.6V535.6M212.29 527.6V535.6M268 527.6V535.6M323.45 527.6V535.6M378.33 527.6V535.6M433.73 527.6V535.6M489.29 527.6V535.6M545.28 527.6V535.6" stroke="#000" stroke-width="1.8" fill="none"/>
<path d="M337.3 82.2V527.6M119 305.8H564.4" stroke="#000" stroke-width="3.4" fill="none"/>
<g font-family='"Liberation Sans", Arial, Helvetica, sans-serif' fill="#000" stroke="#000" stroke-width="0.4" stroke-linejoin="round">
<text x="74" y="525.2" font-size="16.4" textLength="15" lengthAdjust="spacingAndGlyphs" stroke-width="0.75">10</text>
<text x="89.2" y="514.2" font-size="17.4" textLength="8.6" lengthAdjust="spacingAndGlyphs" stroke-width="0.7">0</text>
<text x="74" y="473.3" font-size="16.4" textLength="15" lengthAdjust="spacingAndGlyphs" stroke-width="0.75">10</text>
<text x="89.2" y="462.3" font-size="17.4" textLength="8.6" lengthAdjust="spacingAndGlyphs" stroke-width="0.7">1</text>
<text x="74" y="409" font-size="16.4" textLength="15" lengthAdjust="spacingAndGlyphs" stroke-width="0.75">10</text>
<text x="89.2" y="398" font-size="17.4" textLength="8.6" lengthAdjust="spacingAndGlyphs" stroke-width="0.7">2</text>
<text x="74" y="346" font-size="16.4" textLength="15" lengthAdjust="spacingAndGlyphs" stroke-width="0.75">10</text>
<text x="89.2" y="335" font-size="17.4" textLength="8.6" lengthAdjust="spacingAndGlyphs" stroke-width="0.7">3</text>
<text x="74" y="281.4" font-size="16.4" textLength="15" lengthAdjust="spacingAndGlyphs" stroke-width="0.75">10</text>
<text x="89.2" y="270.4" font-size="17.4" textLength="8.6" lengthAdjust="spacingAndGlyphs" stroke-width="0.7">4</text>
<text x="74" y="219" font-size="16.4" textLength="15" lengthAdjust="spacingAndGlyphs" stroke-width="0.75">10</text>
<text x="89.2" y="208" font-size="17.4" textLength="8.6" lengthAdjust="spacingAndGlyphs" stroke-width="0.7">5</text>
<text x="74" y="154.6" font-size="16.4" textLength="15" lengthAdjust="spacingAndGlyphs" stroke-width="0.75">10</text>
<text x="89.2" y="143.6" font-size="17.4" textLength="8.6" lengthAdjust="spacingAndGlyphs" stroke-width="0.7">6</text>
<text x="74" y="107.6" font-size="16.4" textLength="15" lengthAdjust="spacingAndGlyphs" stroke-width="0.75">10</text>
<text x="89.2" y="96.6" font-size="17.4" textLength="8.6" lengthAdjust="spacingAndGlyphs" stroke-width="0.7">7</text>
<text x="127.6" y="565.3" font-size="16.4" textLength="15" lengthAdjust="spacingAndGlyphs" stroke-width="0.75">10</text>
<text x="142.8" y="554.8" font-size="17.4" textLength="8.6" lengthAdjust="spacingAndGlyphs" stroke-width="0.7">0</text>
<text x="230.4" y="565.3" font-size="16.4" textLength="15" lengthAdjust="spacingAndGlyphs" stroke-width="0.75">10</text>
<text x="245.6" y="554.8" font-size="17.4" textLength="8.6" lengthAdjust="spacingAndGlyphs" stroke-width="0.7">2</text>
<text x="341.5" y="565.3" font-size="16.4" textLength="15" lengthAdjust="spacingAndGlyphs" stroke-width="0.75">10</text>
<text x="356.7" y="554.8" font-size="17.4" textLength="8.6" lengthAdjust="spacingAndGlyphs" stroke-width="0.7">4</text>
<text x="451.9" y="565.3" font-size="16.4" textLength="15" lengthAdjust="spacingAndGlyphs" stroke-width="0.75">10</text>
<text x="467.1" y="554.8" font-size="17.4" textLength="8.6" lengthAdjust="spacingAndGlyphs" stroke-width="0.7">6</text>
<text x="539.2" y="565.3" font-size="16.4" textLength="15" lengthAdjust="spacingAndGlyphs" stroke-width="0.75">10</text>
<text x="554.4" y="554.8" font-size="17.4" textLength="8.6" lengthAdjust="spacingAndGlyphs" stroke-width="0.7">8</text>
<text x="125.6" y="118" font-size="19.5" text-anchor="start" textLength="24.19" lengthAdjust="spacingAndGlyphs">Q1</text>
<text x="125.6" y="146" font-size="19.5" text-anchor="start" textLength="35.29" lengthAdjust="spacingAndGlyphs">2.27</text>
<text x="527.4" y="118" font-size="19.5" text-anchor="end" textLength="24.19" lengthAdjust="spacingAndGlyphs">Q2</text>
<text x="527.4" y="146" font-size="19.5" text-anchor="end" textLength="35.29" lengthAdjust="spacingAndGlyphs">6.06</text>
<text x="125.6" y="476.8" font-size="19.5" text-anchor="start" textLength="24.19" lengthAdjust="spacingAndGlyphs">Q4</text>
<text x="125.6" y="504.8" font-size="19.5" text-anchor="start" textLength="35.29" lengthAdjust="spacingAndGlyphs">83.6</text>
<text x="527.4" y="476.8" font-size="19.5" text-anchor="end" textLength="24.19" lengthAdjust="spacingAndGlyphs">Q3</text>
<text x="527.4" y="504.8" font-size="19.5" text-anchor="end" textLength="35.29" lengthAdjust="spacingAndGlyphs">8.05</text>
<text x="340" y="615.8" font-size="18.4" text-anchor="middle" textLength="118" lengthAdjust="spacingAndGlyphs">488Grn(Area)</text>
<text transform="translate(25.2 304) rotate(-90)" font-size="18.4" text-anchor="middle" textLength="118" lengthAdjust="spacingAndGlyphs">488Org(Area)</text>
</g>
</g>
<text transform="translate(1.8 614.2) scale(1.09 1)" font-family='"Noto Sans CJK SC", "Liberation Sans", sans-serif' font-weight="300" font-size="48" fill="#231815" stroke="#231815" stroke-width="0.9">0</text>
<g transform="translate(609.6 -1.9)">
<defs><g id="sc2"><path stroke="#1c349c" d="M0 0m157 99h0m-15 2h0m15 0h0m-7 1h0m7 0h0m4 0h0m-20 1h0m3 0h0m4 0h0m3 0h0m7 0h0m-24 1h0m9 0h0m4 0h1m5 0h0m2 0h1m-16 1h1m2 0h1m4 0h0m3 0h4m2 0h1m-31 1h0m10 0h0m4 0h0m2 0h0m12 0h0m5 0h0m-28 1h1m2 0h3m6 0h0m2 0h0m2 0h0m3 0h3m2 0h0m-21 1h0m2 0h0m8 0h0m4 0h2m2 0h1m5 0h1m-35 1h0m4 0h1m2 0h0m6 0h1m2 0h0m2 0h0m4 0h0m3 0h2m6 0h1m-37 1h0m10 0h0m3 0h0m8 0h1m2 0h1m11 0h0m-38 1h0m3 0h0m3 0h1m2 0h0m4 0h0m4 0h1m8 0h0m4 0h0m4 0h2m2 0h1m-34 1h0m4 0h0m2 0h1m2 0h0m3 0h0m13 0h0m4 0h1m-24 1h1m2 0h0m4 0h0m4 0h3m7 0h0m5 0h2m-41 1h0m12 0h0m2 0h0m4 0h1m13 0h0m8 0h0m-38 1h0m2 0h0m5 0h1m3 0h0m6 0h0m9 0h2m3 0h1m8 0h0m-50 1h0m9 0h0m3 0h0m2 0h0m2 0h0m2 0h0m6 0h0m2 0h0m2 0h0m2 0h1m2 0h0m7 0h0m6 0h0m4 0h0m-50 1h0m13 0h0m2 0h0m2 0h0m2 0h1m5 0h0m6 0h1m9 0h0m-41 1h0m11 0h0m4 0h1m4 0h0m3 0h0m2 0h0m3 0h2m4 0h0m8 0h1m2 0h0m-44 1h0m3 0h0m5 0h0m4 0h0m4 0h0m4 0h0m3 0h0m11 0h0m3 0h0m2 0h1m8 0h0m-57 1h0m6 0h0m8 0h0m4 0h0m3 0h0m3 0h1m4 0h0m5 0h0m3 0h1m2 0h0m3 0h0m8 0h0m4 0h1m-42 1h0m2 0h1m2 0h0m12 0h1m7 0h1m15 0h0m2 0h0m3 0h0m-55 1h0m13 0h0m2 0h2m14 0h1m2 0h0m2 0h0m6 0h0m5 0h1m4 0h0m-53 1h2m2 0h2m5 0h0m4 0h2m4 0h0m2 0h0m9 0h0m6 0h1m3 0h0m5 0h1m4 0h0m-41 1h2m4 0h0m4 0h0m3 0h0m11 0h0m2 0h0m2 0h0m6 0h0m8 0h1m-55 1h0m8 0h0m10 0h0m4 0h0m2 0h0m4 0h0m16 0h0m3 0h0m3 0h0m-80 1h0m36 0h0m2 0h0m4 0h0m3 0h0m4 0h1m5 0h1m3 0h0m6 0h1m3 0h2m4 0h0m2 0h0m5 0h1m-74 1h0m35 0h0m3 0h0m8 0h0m17 0h0m2 0h0m3 0h2m3 0h0m-52 1h0m3 0h0m5 0h0m2 0h0m4 0h0m9 0h0m9 0h1m2 0h0m9 0h1m6 0h0m2 0h0m-88 1h0m50 0h0m2 0h0m8 0h1m2 0h3m3 0h0m11 0h0m2 0h0m4 0h0m-84 1h0m12 0h0m37 0h0m6 0h0m4 0h0m5 0h1m2 0h0m16 0h0m-35 1h1m5 0h0m3 0h0m13 0h0m5 0h0m3 0h3m4 0h0m-111 1h0m40 0h0m5 0h0m8 0h0m16 0h0m2 0h0m4 0h0m6 0h0m3 0h0m6 0h0m2 0h0m4 0h0m9 0h1m-98 1h0m71 0h1m3 0h3m8 0h0m3 0h0m4 0h0m-48 1h0m18 0h0m2 0h1m22 0h0m6 0h0m2 0h1m4 0h0m-65 1h0m5 0h0m25 0h0m4 0h0m2 0h0m4 0h1m2 0h0m10 0h0m4 0h0m3 0h0m6 0h1m-63 1h0m5 0h0m11 0h0m14 0h0m6 0h0m2 0h0m5 0h0m7 0h0m3 0h1m3 0h0m2 0h0m2 0h1m-91 1h0m13 0h0m5 0h0m24 0h0m6 0h0m5 0h0m6 0h1m3 0h0m3 0h0m6 0h1m12 0h0m3 0h0m-68 1h0m15 0h0m23 0h1m11 0h2m6 0h0m3 0h3m3 0h0m3 0h1m-115 1h0m26 0h0m4 0h0m20 0h0m3 0h0m7 0h1m4 0h0m13 0h0m3 0h1m3 0h1m2 0h1m3 0h0m2 0h1m2 0h0m7 0h0m5 0h0m3 0h0m-89 1h0m2 0h0m5 0h0m2 0h0m7 0h0m21 0h0m13 0h1m4 0h0m4 0h0m4 0h2m12 0h0m2 0h0m3 0h0m2 0h0m5 0h0m-58 1h0m8 0h0m10 0h0m5 0h0m9 0h0m4 0h0m6 0h0m2 0h0m8 0h0m2 0h0m-91 1h0m49 0h0m10 0h0m4 0h0m5 0h0m3 0h0m2 0h0m5 0h3m3 0h0m5 0h2m3 0h0m3 0h0m-96 1h0m6 0h0m5 0h0m3 0h1m3 0h1m2 0h1m2 0h0m3 0h0m2 0h0m4 0h0m4 0h1m2 0h0m6 0h0m2 0h0m4 0h1m17 0h0m4 0h0m2 0h1m9 0h3m7 0h0m-93 1h0m3 0h0m25 0h0m8 0h0m3 0h0m3 0h0m10 0h1m6 0h0m7 0h0m7 0h0m4 0h1m3 0h1m-83 1h0m7 0h1m25 0h0m11 0h1m12 0h0m6 0h0m15 0h0m8 0h0m-73 1h0m2 0h0m7 0h0m3 0h0m8 0h0m2 0h0m7 0h0m7 0h0m6 0h0m6 0h0m2 0h1m4 0h0m2 0h0m5 0h0m2 0h0m9 0h0m6 0h0m-103 1h0m2 0h0m16 0h0m6 0h0m4 0h0m14 0h0m7 0h0m3 0h0m4 0h0m8 0h0m7 0h0m4 0h1m5 0h0m5 0h1m5 0h0m3 0h0m3 0h0m4 0h1m-109 1h0m6 0h0m13 0h0m2 0h0m12 0h1m5 0h0m2 0h0m2 0h1m4 0h0m3 0h0m4 0h0m2 0h0m11 0h1m2 0h0m5 0h1m7 0h0m10 0h0m5 0h0m2 0h1m3 0h1m2 0h0m-98 1h0m4 0h0m6 0h0m6 0h0m8 0h1m2 0h2m12 0h0m4 0h0m2 0h0m3 0h2m2 0h0m5 0h0m2 0h0m2 0h1m3 0h0m8 0h0m4 0h0m16 0h0m-99 1h0m4 0h0m4 0h0m20 0h1m5 0h1m2 0h0m5 0h1m11 0h0m2 0h1m2 0h1m2 0h0m9 0h0m2 0h0m2 0h0m2 0h0m5 0h0m3 0h0m2 0h0m12 0h0m-125 1h0m30 0h3m3 0h0m4 0h1m6 0h0m3 0h0m5 0h1m3 0h0m6 0h1m8 0h0m2 0h0m8 0h1m8 0h0m7 0h3m17 0h0m2 0h0m3 0h0m5 0h0m-121 1h0m26 0h0m6 0h0m2 0h0m2 0h0m2 0h1m3 0h0m7 0h0m2 0h0m6 0h0m5 0h0m2 0h0m3 0h0m8 0h0m5 0h0m7 0h0m3 0h1m5 0h1m11 0h0m9 0h0m3 0h0m-109 1h0m6 0h0m11 0h0m3 0h0m4 0h1m5 0h0m2 0h0m4 0h0m2 0h0m2 0h0m3 0h0m2 0h0m5 0h1m3 0h0m2 0h0m3 0h2m2 0h0m3 0h0m4 0h0m12 0h0m6 0h0m8 0h0m2 0h0m5 0h0m2 0h2m2 0h1m-118 1h0m3 0h0m19 0h0m2 0h0m2 0h0m2 0h0m3 0h0m5 0h0m4 0h3m2 0h0m4 0h0m4 0h0m2 0h3m2 0h1m5 0h0m2 0h1m2 0h0m7 0h0m8 0h0m10 0h0m2 0h0m15 0h2m-133 1h0m16 0h0m12 0h0m8 0h0m6 0h0m5 0h0m9 0h1m2 0h0m2 0h0m4 0h1m12 0h1m7 0h0m7 0h0m3 0h1m5 0h0m4 0h0m6 0h2m11 0h1m2 0h1m8 0h0m-113 1h0m5 0h0m7 0h0m8 0h0m9 0h1m3 0h0m5 0h1m4 0h0m2 0h1m6 0h0m3 0h0m3 0h0m3 0h0m7 0h0m2 0h0m2 0h0m10 0h0m2 0h0m8 0h0m6 0h0m4 0h0m2 0h0m-122 1h0m9 0h0m26 0h0m4 0h1m4 0h1m2 0h0m3 0h0m3 0h0m5 0h0m2 0h1m4 0h1m2 0h1m4 0h1m8 0h0m2 0h0m3 0h1m2 0h1m3 0h1m3 0h0m2 0h0m3 0h0m5 0h1m2 0h2m2 0h0m11 0h0m-121 1h0m12 0h0m2 0h0m2 0h0m4 0h1m4 0h1m3 0h0m8 0h1m4 0h0m3 0h1m2 0h0m4 0h0m3 0h1m6 0h0m3 0h0m3 0h0m6 0h0m3 0h0m3 0h0m5 0h1m3 0h0m4 0h0m5 0h0m3 0h1m4 0h1m2 0h0m3 0h0m2 0h1m2 0h1m-99 1h0m3 0h0m3 0h0m3 0h0m2 0h0m8 0h0m2 0h1m2 0h0m2 0h0m7 0h0m3 0h0m11 0h0m5 0h0m3 0h1m7 0h1m9 0h0m3 0h0m7 0h0m2 0h0m4 0h0m6 0h2m-107 1h0m18 0h0m4 0h0m2 0h0m12 0h0m8 0h0m3 0h0m3 0h0m7 0h0m5 0h2m7 0h0m5 0h1m3 0h0m3 0h0m8 0h2m2 0h0m3 0h0m5 0h0m4 0h0m6 0h0m-137 1h0m7 0h0m26 0h0m12 0h0m2 0h0m2 0h0m3 0h0m6 0h0m5 0h1m3 0h0m2 0h0m3 0h0m2 0h0m3 0h0m5 0h0m2 0h0m2 0h0m3 0h0m4 0h0m4 0h0m4 0h1m2 0h0m2 0h0m4 0h0m4 0h0m2 0h0m6 0h0m8 0h0m2 0h1m3 0h0m-109 1h0m13 0h0m2 0h0m2 0h3m7 0h0m2 0h0m2 0h0m3 0h0m2 0h4m3 0h0m3 0h1m6 0h0m3 0h0m3 0h1m2 0h0m2 0h0m3 0h2m4 0h0m2 0h1m4 0h0m2 0h2m6 0h3m5 0h0m6 0h0m2 0h2m3 0h0m-121 1h0m9 0h0m9 0h1m2 0h0m2 0h0m3 0h0m8 0h0m7 0h0m3 0h0m3 0h0m2 0h2m6 0h0m10 0h1m4 0h2m3 0h1m8 0h1m5 0h1m2 0h0m12 0h0m5 0h1m-123 1h0m31 0h0m9 0h0m2 0h1m6 0h2m3 0h0m12 0h0m5 0h0m3 0h4m2 0h0m2 0h0m5 0h0m2 0h0m3 0h3m6 0h1m4 0h0m2 0h0m4 0h0m4 0h0m3 0h1m3 0h0m-115 1h0m9 0h0m11 0h0m5 0h2m5 0h1m4 0h0m6 0h0m2 0h2m3 0h2m2 0h0m2 0h0m2 0h0m2 0h0m4 0h1m2 0h0m2 0h0m6 0h0m4 0h1m4 0h0m3 0h0m2 0h1m8 0h0m3 0h0m4 0h1m5 0h1m6 0h0m3 0h0m-106 1h0m13 0h0m9 0h3m6 0h1m5 0h0m8 0h1m7 0h0m5 0h0m9 0h0m8 0h0m6 0h1m8 0h1m8 0h0m3 0h1m-109 1h0m6 0h0m8 0h0m6 0h0m2 0h0m8 0h0m4 0h0m6 0h0m2 0h0m2 0h2m3 0h0m2 0h1m3 0h0m3 0h0m3 0h1m3 0h3m2 0h0m3 0h0m6 0h0m2 0h0m6 0h0m4 0h0m11 0h0m2 0h1m2 0h0m2 0h0m-138 1h0m25 0h0m7 0h0m2 0h0m4 0h0m12 0h0m3 0h0m3 0h0m4 0h1m5 0h1m2 0h0m13 0h1m5 0h0m5 0h0m3 0h1m2 0h2m2 0h2m3 0h0m2 0h0m3 0h0m2 0h1m2 0h0m3 0h0m2 0h0m2 0h0m5 0h0m2 0h0m3 0h0m4 0h0m-111 1h0m4 0h0m7 0h0m2 0h0m7 0h0m6 0h0m4 0h0m2 0h1m7 0h0m3 0h0m3 0h0m2 0h0m5 0h1m3 0h1m4 0h0m3 0h1m3 0h0m2 0h0m9 0h0m2 0h0m2 0h2m3 0h0m8 0h0m3 0h0m8 0h0m2 0h0m-100 1h1m4 0h0m4 0h4m7 0h0m2 0h0m3 0h1m3 0h0m6 0h0m2 0h3m14 0h0m3 0h0m2 0h0m8 0h1m2 0h2m4 0h0m5 0h0m8 0h1m2 0h0m5 0h1m2 0h0m-115 1h0m16 0h0m4 0h0m5 0h0m7 0h1m9 0h3m3 0h3m2 0h0m3 0h0m3 0h1m7 0h0m6 0h0m10 0h2m3 0h0m4 0h1m5 0h0m2 0h1m3 0h0m3 0h2m2 0h1m2 0h0m-112 1h0m7 0h0m12 0h0m9 0h1m4 0h0m4 0h0m5 0h0m5 0h1m5 0h0m7 0h2m2 0h3m7 0h0m4 0h0m4 0h2m3 0h0m3 0h0m2 0h0m2 0h0m3 0h0m7 0h0m-101 1h0m5 0h0m6 0h0m11 0h2m2 0h1m2 0h1m2 0h0m3 0h0m6 0h0m2 0h0m2 0h0m3 0h2m3 0h1m3 0h0m3 0h0m4 0h0m2 0h0m4 0h0m2 0h0m2 0h0m2 0h0m8 0h0m3 0h0m2 0h0m3 0h0m4 0h0m3 0h0m2 0h0m3 0h0m2 0h0m4 0h0m-102 1h0m2 0h0m7 0h0m14 0h2m3 0h0m2 0h0m5 0h2m3 0h1m3 0h0m2 0h0m6 0h0m2 0h1m2 0h0m2 0h2m2 0h0m6 0h0m3 0h2m4 0h0m9 0h0m9 0h0m3 0h0m-106 1h0m2 0h0m4 0h0m8 0h0m2 0h1m5 0h0m4 0h0m3 0h1m3 0h0m7 0h0m3 0h2m5 0h2m2 0h2m4 0h0m6 0h0m2 0h1m5 0h1m2 0h1m4 0h1m4 0h0m2 0h2m5 0h0m9 0h0m-110 1h0m11 0h0m4 0h0m6 0h0m7 0h1m2 0h0m3 0h0m5 0h0m4 0h0m9 0h1m3 0h0m3 0h2m2 0h0m6 0h0m2 0h0m2 0h0m2 0h1m9 0h1m2 0h1m8 0h0m3 0h1m2 0h0m4 0h1m-98 1h0m2 0h0m18 0h0m6 0h0m6 0h1m3 0h2m2 0h0m4 0h1m7 0h0m4 0h1m3 0h1m9 0h1m9 0h0m4 0h0m3 0h0m2 0h0m2 0h0m3 0h0m2 0h1m2 0h0m3 0h0m-119 1h0m25 0h0m3 0h0m2 0h0m10 0h0m3 0h0m5 0h0m3 0h2m6 0h1m4 0h0m2 0h0m8 0h1m2 0h0m2 0h1m5 0h0m7 0h0m5 0h1m5 0h2m2 0h0m9 0h1m-102 1h0m9 0h1m9 0h0m7 0h0m5 0h0m3 0h0m2 0h0m6 0h1m16 0h0m2 0h0m3 0h0m3 0h1m6 0h1m5 0h0m2 0h1m3 0h0m2 0h0m2 0h0m3 0h3m2 0h0m3 0h0m-84 1h0m11 0h0m4 0h1m3 0h0m7 0h0m3 0h0m3 0h7m5 0h0m3 0h0m3 0h0m3 0h0m2 0h0m5 0h0m6 0h0m2 0h0m2 0h0m4 0h0m2 0h2m-87 1h0m9 0h0m3 0h1m11 0h2m2 0h0m6 0h0m3 0h1m2 0h1m4 0h0m5 0h2m13 0h0m10 0h0m4 0h0m7 0h0m2 0h1m2 0h0m2 0h0m-113 1h0m21 0h0m6 0h0m3 0h1m3 0h0m5 0h0m7 0h0m9 0h0m6 0h1m2 0h0m2 0h0m2 0h1m3 0h0m4 0h0m2 0h2m5 0h0m4 0h0m2 0h0m4 0h0m3 0h1m2 0h0m2 0h1m2 0h2m4 0h0m-82 1h0m6 0h0m5 0h0m9 0h1m4 0h0m7 0h0m2 0h0m3 0h0m5 0h2m11 0h0m2 0h0m3 0h0m11 0h0m3 0h0m3 0h0m7 0h0m2 0h0m-100 1h0m28 0h0m2 0h0m2 0h0m4 0h0m6 0h0m7 0h0m4 0h1m2 0h0m3 0h0m3 0h0m16 0h1m3 0h2m6 0h0m2 0h0m-86 1h0m9 0h0m3 0h0m2 0h0m3 0h0m4 0h0m5 0h0m6 0h0m2 0h1m3 0h0m5 0h0m2 0h1m2 0h0m7 0h0m3 0h0m4 0h0m4 0h0m3 0h0m2 0h0m2 0h1m2 0h0m4 0h0m5 0h0m3 0h0m-98 1h0m8 0h0m3 0h0m8 0h1m3 0h1m4 0h0m2 0h0m7 0h5m9 0h2m4 0h1m2 0h0m2 0h1m2 0h0m2 0h0m6 0h1m4 0h0m6 0h0m2 0h0m3 0h0m4 0h0m3 0h0m6 0h0m-95 1h0m11 0h0m3 0h0m4 0h0m3 0h0m2 0h0m4 0h0m18 0h0m4 0h0m2 0h0m2 0h0m5 0h0m7 0h1m2 0h0m3 0h0m9 0h0m5 0h1m6 0h0m-106 1h0m16 0h0m7 0h0m18 0h0m6 0h0m3 0h0m2 0h0m3 0h2m6 0h0m2 0h0m7 0h0m3 0h0m11 0h0m2 0h2m2 0h0m3 0h1m3 0h2m2 0h2m-85 1h0m11 0h0m10 0h0m6 0h0m10 0h0m2 0h1m4 0h0m7 0h1m6 0h0m19 0h1m4 0h1m-86 1h1m17 0h0m3 0h0m5 0h0m2 0h2m3 0h0m6 0h0m12 0h0m5 0h0m2 0h0m3 0h1m10 0h1m4 0h2m3 0h3m-88 1h0m3 0h0m17 0h1m6 0h1m8 0h0m3 0h0m3 0h1m3 0h0m2 0h2m10 0h0m5 0h0m4 0h0m5 0h1m4 0h0m3 0h1m2 0h2m5 0h1m-84 1h0m11 0h0m6 0h0m3 0h0m2 0h0m2 0h0m2 0h1m2 0h0m3 0h0m5 0h1m5 0h0m18 0h0m2 0h0m4 0h3m2 0h1m3 0h1m2 0h0m-84 1h0m17 0h0m3 0h0m5 0h0m2 0h0m3 0h0m4 0h1m9 0h0m3 0h2m6 0h0m11 0h0m3 0h0m2 0h0m2 0h0m3 0h0m2 0h0m3 0h0m-76 1h0m12 0h0m3 0h0m3 0h0m5 0h0m5 0h1m4 0h0m4 0h0m6 0h0m2 0h1m13 0h0m5 0h0m5 0h0m3 0h0m12 0h0m-84 1h0m3 0h0m10 0h0m10 0h0m7 0h0m6 0h0m5 0h0m16 0h0m12 0h0m5 0h0m3 0h0m2 0h0m-57 1h1m4 0h1m3 0h0m4 0h0m4 0h0m4 0h0m9 0h0m7 0h1m7 0h0m12 0h0m2 0h0m-80 1h1m6 0h0m8 0h1m6 0h0m2 0h0m7 0h0m7 0h0m8 0h0m8 0h1m3 0h0m6 0h0m3 0h0m3 0h1m6 0h1m-79 1h0m6 0h0m21 0h0m4 0h0m6 0h0m3 0h0m5 0h0m8 0h0m2 0h0m5 0h0m10 0h1m9 0h0m-85 1h0m12 0h0m23 0h0m4 0h0m2 0h0m6 0h0m3 0h0m3 0h0m6 0h0m14 0h1m3 0h0m3 0h2m4 0h0m-78 1h1m5 0h0m4 0h2m9 0h0m4 0h0m11 0h0m19 0h0m3 0h1m10 0h0m6 0h0m-98 1h0m23 0h0m13 0h0m8 0h0m5 0h0m13 0h0m3 0h0m10 0h1m4 0h0m7 0h0m4 0h0m6 0h0m6 0h0m-90 1h0m2 0h0m25 0h0m18 0h0m2 0h0m3 0h0m5 0h0m10 0h0m7 0h0m5 0h0m4 0h0m-52 1h0m7 0h3m9 0h1m2 0h0m11 0h0m12 0h0m3 0h0m2 0h0m9 0h0m2 0h1m-42 1h0m10 0h0m9 0h0m12 0h0m2 0h2m7 0h0m-73 1h0m17 0h0m2 0h0m7 0h1m5 0h0m7 0h0m4 0h0m3 0h0m6 0h0m4 0h0m2 0h0m3 0h0m5 0h1m3 0h0m-73 1h0m6 0h0m2 0h0m6 0h0m6 0h0m17 0h0m3 0h0m7 0h0m7 0h0m2 0h0m3 0h0m9 0h0m-71 1h1m15 0h0m2 0h0m16 0h1m3 0h0m11 0h0m9 0h0m2 0h4m2 0h1m-67 1h0m20 0h0m4 0h2m15 0h0m6 0h0m7 0h0m2 0h1m6 0h0m10 0h0m-82 2h0m11 0h1m19 0h1m10 0h0m3 0h0m5 0h0m22 0h0m2 0h0m2 0h0m-58 1h0m6 0h0m16 0h1m5 0h0m3 0h0m4 0h0m9 0h0m8 0h0m10 0h0m-40 1h0m13 0h0m16 0h0m9 0h0m4 0h0m-67 2h0m10 0h0m29 0h1m13 0h0m14 0h0m-68 1h0m4 0h0m2 0h0m7 0h0m2 0h0m12 0h2m4 0h0m2 0h0m7 0h0m3 0h0m3 0h0m8 0h0m5 0h1m2 0h0m2 0h0m-3 2h0m4 0h0m-50 2h0m4 0h0m6 0h0m-33 3h0m10 0h0m2 0h1m4 0h0m3 0h0m15 0h0m15 0h0m11 0h1m6 0h0m-37 2h0m31 0h0m2 0h0m3 0h0m-54 4h0m6 0h0m49 0h0m4 0h0m-50 4h0m38 0h0m-33 7h0m39 0h0"/><path stroke="#1d4fae" d="M0 0m153 102h0m-4 1h0m3 0h0m-2 1h0m-17 1h1m13 0h0m12 0h0m-33 2h0m16 0h0m3 0h0m12 0h0m-21 1h0m5 0h0m-4 1h0m7 0h0m2 0h0m-8 1h0m11 0h0m5 0h0m-32 1h0m12 0h0m5 0h0m9 0h1m-14 1h1m2 0h0m3 0h0m5 0h0m6 0h0m7 0h0m-26 1h0m4 0h0m9 0h0m7 0h0m-15 1h0m8 0h0m11 0h0m-28 1h0m4 0h2m3 0h1m18 0h0m2 0h0m-32 1h0m4 0h0m2 0h0m25 0h1m-37 1h0m9 0h1m12 0h0m2 0h0m3 0h0m-53 1h0m15 0h0m23 0h0m22 0h0m-48 1h0m8 0h0m9 0h0m3 0h1m4 0h0m11 0h0m9 0h0m-34 1h0m3 0h0m3 0h0m7 0h0m28 0h0m-40 1h0m2 0h0m6 0h0m27 0h0m-40 1h0m2 0h0m10 0h1m16 0h0m6 0h0m3 0h0m4 0h1m-44 1h0m16 0h1m11 0h1m12 0h0m-41 1h0m17 0h0m5 0h0m10 0h1m7 0h1m-44 1h0m9 0h0m8 0h0m19 0h0m10 0h0m-31 1h0m6 0h0m4 0h0m19 0h0m-21 1h0m6 0h0m6 0h0m2 0h0m2 0h0m5 0h1m2 0h0m-27 1h0m15 0h0m5 0h0m2 0h0m-26 1h1m26 0h0m-28 1h0m7 0h0m9 0h0m4 0h1m3 0h0m3 0h0m-29 1h0m9 0h0m3 0h0m19 0h0m-36 1h0m16 0h0m8 0h0m3 0h1m7 0h0m2 0h0m-51 1h0m23 0h0m8 0h0m9 0h0m6 0h2m-4 1h0m3 0h0m-25 1h0m17 0h1m-17 1h0m5 0h0m8 0h0m4 0h0m-58 1h0m39 0h0m6 0h1m9 0h0m7 0h0m3 0h0m2 0h0m-42 1h0m17 0h0m21 0h0m-22 1h0m4 0h0m5 0h0m10 0h1m4 0h0m3 0h0m-72 1h0m64 0h0m4 0h0m3 0h0m-32 1h0m10 0h1m7 0h0m2 0h0m8 0h0m2 0h0m2 0h0m-21 1h0m-44 1h0m33 0h0m9 0h0m8 0h0m10 0h0m2 0h1m-61 1h0m32 0h0m2 0h0m-10 1h0m7 0h0m4 0h0m5 0h0m12 0h0m2 0h0m4 0h0m2 0h0m-71 1h0m15 0h0m32 0h0m13 0h1m-72 1h0m22 0h0m10 0h0m27 0h0m21 0h0m-23 1h1m21 0h0m-76 1h0m17 0h0m11 0h0m2 0h0m24 0h0m5 0h0m3 0h0m8 0h0m3 0h0m3 0h0m2 0h0m-64 1h0m9 0h0m3 0h0m44 0h0m3 0h3m2 0h0m3 0h0m-56 1h0m5 0h0m18 0h0m3 0h0m10 0h0m9 0h1m4 0h0m-73 1h0m5 0h0m6 0h0m7 0h0m2 0h0m2 0h0m5 0h0m26 0h0m4 0h0m6 0h0m8 0h0m3 0h0m-56 1h0m5 0h0m20 0h0m4 0h0m9 0h0m11 0h0m5 0h0m-77 1h0m6 0h0m5 0h0m35 0h0m11 0h0m5 0h0m10 0h0m7 0h0m4 0h0m-66 1h2m2 0h0m3 0h0m6 0h1m19 0h0m3 0h0m4 0h0m2 0h0m9 0h0m2 0h0m11 0h0m-64 1h0m5 0h0m8 0h0m8 0h0m18 0h0m2 0h0m5 0h0m18 0h0m-115 1h0m44 0h0m4 0h0m13 0h0m5 0h0m2 0h0m23 0h0m4 0h0m13 0h0m-81 1h0m21 0h0m4 0h0m14 0h0m9 0h0m6 0h0m-76 1h0m15 0h0m7 0h0m6 0h0m10 0h0m7 0h2m4 0h0m2 0h0m22 0h1m2 0h0m11 0h0m-68 1h0m9 0h0m3 0h0m2 0h1m7 0h0m9 0h0m6 0h0m8 0h0m19 0h0m13 0h0m9 0h1m-103 1h0m24 0h0m2 0h0m2 0h0m7 0h0m5 0h0m2 0h0m3 0h0m15 0h0m20 0h0m8 0h0m7 0h0m-69 1h0m18 0h1m3 0h0m3 0h0m6 0h0m16 0h0m10 0h0m8 0h0m4 0h2m2 0h0m2 0h0m-77 1h0m4 0h0m4 0h0m9 0h0m3 0h0m2 0h0m3 0h0m12 0h0m4 0h0m3 0h0m14 0h1m6 0h0m6 0h0m2 0h0m6 0h0m2 0h0m-76 1h0m3 0h0m8 0h1m5 0h0m29 0h0m5 0h1m2 0h0m18 0h0m-77 1h0m8 0h1m17 0h0m7 0h1m2 0h0m16 0h0m3 0h0m4 0h0m5 0h0m10 0h0m-95 1h0m25 0h1m5 0h0m3 0h0m2 0h2m7 0h0m8 0h0m5 0h0m21 0h1m2 0h0m7 0h0m8 0h0m-91 1h0m20 0h0m7 0h0m5 0h0m21 0h0m8 0h0m7 0h0m2 0h0m4 0h0m6 0h1m4 0h0m7 0h0m-91 1h0m3 0h0m6 0h0m15 0h1m6 0h0m4 0h0m6 0h0m5 0h0m20 0h0m10 0h0m9 0h0m3 0h0m-88 1h0m4 0h0m9 0h0m6 0h0m2 0h0m3 0h0m5 0h0m2 0h0m6 0h0m4 0h0m29 0h0m5 0h1m7 0h0m4 0h0m-67 1h0m2 0h0m4 0h0m7 0h0m10 0h0m4 0h0m3 0h0m3 0h0m5 0h0m12 0h0m2 0h0m7 0h0m4 0h0m2 0h0m-69 1h1m21 0h1m2 0h0m2 0h0m3 0h0m6 0h0m4 0h0m2 0h0m-47 1h0m6 0h0m6 0h0m12 0h0m7 0h0m7 0h0m30 0h0m10 0h0m-98 1h0m27 0h1m18 0h1m11 0h0m31 0h0m-57 1h0m6 0h0m9 0h0m3 0h0m24 0h0m5 0h0m5 0h0m3 0h0m2 0h0m-66 1h0m15 0h1m2 0h0m8 0h1m30 0h0m5 0h0m-53 1h0m5 0h0m14 0h2m6 0h0m5 0h0m7 0h0m6 0h0m19 0h0m2 0h0m-73 1h0m11 0h0m11 0h0m14 0h0m3 0h0m10 0h0m15 0h0m3 0h0m5 0h0m-71 1h0m9 0h0m2 0h0m10 0h0m6 0h0m26 0h0m9 0h0m-101 1h0m48 0h0m8 0h0m17 0h1m15 0h0m18 0h1m-71 1h0m11 0h0m17 0h1m8 0h0m7 0h0m-58 1h0m12 0h0m4 0h0m53 0h0m7 0h0m-66 1h0m11 0h0m2 0h0m7 0h0m3 0h0m7 0h0m3 0h0m18 0h0m-62 1h0m9 0h0m3 0h0m8 0h0m3 0h0m3 0h1m3 0h1m2 0h1m3 0h0m12 0h2m2 0h0m13 0h0m19 0h0m-55 1h0m29 0h1m16 0h0m-58 1h0m6 0h0m5 0h0m16 0h0m11 0h0m22 0h0m2 0h0m-49 1h0m19 0h0m6 0h0m2 0h0m13 0h0m-34 1h0m-4 1h0m27 0h0m3 0h0m18 0h0m-35 1h1m9 0h0m18 0h1m-57 1h0m10 0h0m2 0h0m30 0h0m-38 1h0m11 0h0m22 0h0m5 0h0m17 0h0m4 0h2m-63 1h0m13 0h0m14 0h0m29 0h0m4 0h0m3 0h0m-82 1h0m46 0h0m4 0h0m18 0h0m5 0h0m2 0h0m6 0h0m-19 1h0m16 0h0m4 0h0m4 0h0m-47 1h0m33 0h0m-45 1h0m-8 1h0m58 0h0m4 0h0m-41 1h0m2 0h0m3 0h0m21 0h0m3 0h0m6 0h0m2 0h1m-44 1h0m6 0h0m27 0h0m-65 1h1m5 0h0m50 1h0m16 0h0m-47 1h0m15 0h0m-35 1h0m59 1h0m-55 1h0m66 0h0m-46 1h1m42 1h0m-1 1h0m-63 2h0m11 0h0m14 0h0m-3 1h0m47 0h0m-24 3h0m16 0h0m4 0h0m1 1h0m-14 4h0m15 0h0m-32 3h0m30 0h0m-16 2h0"/><path stroke="#2e8fd4" d="M0 0m144 106h0m3 0h1m-10 2h0m4 0h0m5 0h0m-14 1h0m1 1h0m8 0h0m10 0h0m-10 1h1m9 0h1m-20 1h0m16 0h0m7 0h0m0 1h0m-6 2h0m5 0h0m3 0h0m-26 1h0m3 0h0m12 0h1m-22 1h0m2 0h0m9 0h0m18 0h0m2 0h1m-10 1h0m-31 1h0m4 0h0m9 0h0m24 0h0m-29 2h0m5 0h0m19 0h0m3 0h0m-44 1h0m10 0h0m8 0h0m30 1h0m-30 1h0m2 0h0m16 0h0m-14 1h0m11 0h0m13 0h0m-21 1h0m4 0h0m-10 1h0m18 0h0m-16 1h0m25 0h1m-23 1h0m14 0h1m6 0h0m-29 1h0m4 0h0m4 0h0m3 0h0m16 0h0m-16 1h0m13 0h0m1 1h0m-3 1h0m-6 1h0m-6 1h0m3 0h0m14 0h0m-5 1h0m3 0h0m-51 1h0m31 0h1m-5 1h0m3 0h0m2 0h0m2 0h0m12 0h0m-10 1h0m7 0h0m2 0h0m3 0h0m3 0h0m2 0h0m-13 1h0m14 0h0m-24 1h1m6 0h1m-6 1h0m-3 1h0m17 0h0m6 0h0m-5 1h1m2 0h0m-20 1h0m8 0h0m8 0h0m-18 1h0m8 0h0m8 0h0m9 0h0m-5 1h0m-17 1h0m2 0h1m-8 1h0m-42 1h0m54 0h0m-6 1h0m15 0h0m6 0h0m-65 1h0m24 0h0m22 0h0m14 0h0m-67 1h0m57 0h0m2 0h0m7 0h0m-15 1h0m3 0h0m11 0h0m-53 1h0m36 0h0m6 0h1m6 0h0m8 0h0m-52 1h0m33 0h0m2 0h0m4 0h0m12 0h0m-77 1h0m24 0h1m39 0h0m11 0h0m-56 1h0m3 0h0m10 0h0m22 0h0m4 0h0m12 0h0m2 0h0m8 0h0m-58 1h0m6 0h0m32 0h0m2 0h0m3 0h0m4 0h0m-58 1h0m45 0h0m11 0h0m2 0h1m-75 1h0m17 0h0m11 0h2m39 0h0m9 0h0m-37 1h0m32 0h0m-64 1h0m18 0h1m43 0h1m-6 1h0m3 0h0m-17 1h0m5 0h0m3 0h0m4 0h0m10 0h0m3 0h0m-50 1h0m2 0h1m10 0h0m31 0h0m6 0h0m-22 1h0m3 0h0m9 0h1m5 0h0m3 0h0m-70 1h0m10 0h0m6 0h0m2 0h0m44 0h0m5 0h0m-56 1h0m38 0h0m19 0h0m-73 1h0m13 0h0m12 0h0m2 0h0m31 0h0m11 0h0m-51 1h0m18 0h0m24 0h0m8 0h0m-59 1h0m27 0h0m20 0h0m3 0h0m7 0h0m8 0h0m-56 1h0m-7 1h0m49 0h0m8 0h0m1 1h0m-35 1h0m29 0h0m3 0h0m-46 1h0m10 0h0m26 0h0m-33 1h0m38 0h0m5 0h0m-50 1h0m-10 1h0m13 0h0m21 0h0m24 0h0m8 0h0m-57 1h0m3 0h0m9 0h0m10 0h1m29 0h0m10 0h0m-61 1h0m28 0h0m15 0h0m9 0h0m-44 1h0m22 0h0m-37 2h0m7 0h0m2 1h0m16 2h0m3 1h0m31 0h0m-40 4h0m28 3h0m5 0h1m-2 1h0m0 1h0"/><path stroke="#49b9c0" d="M0 0m143 108h0m-2 2h0m7 0h0m2 0h0m6 0h0m-11 2h0m6 0h0m2 0h0m-5 1h1m6 0h0m-24 1h0m18 0h0m2 0h0m5 1h0m-11 1h0m6 0h0m4 0h0m-19 1h0m7 0h0m-11 1h0m3 1h0m-2 1h1m18 0h0m2 0h0m2 0h0m-27 1h0m6 0h0m19 0h0m-24 1h1m2 0h0m2 0h0m-3 1h1m19 0h0m-15 1h0m16 0h0m-19 1h0m2 0h0m2 0h0m0 1h0m5 0h0m-12 1h1m19 0h0m-21 1h0m2 0h1m4 1h0m5 0h0m-2 1h0m4 1h0m5 0h0m-8 2h0m-9 1h2m2 0h0m-4 1h0m10 0h0m4 0h0m3 0h0m-14 1h0m8 0h0m3 1h1m-14 1h0m5 0h0m-7 1h0m1 1h0m2 0h0m0 1h0m17 0h0m-10 1h0m-14 2h0m4 0h0m5 0h0m5 0h1m7 0h0m-15 1h0m12 0h0m4 0h0m-22 1h0m5 0h0m16 0h0m-9 1h0m3 0h0m4 0h0m-12 1h0m4 0h0m-1 1h0m3 0h0m2 0h0m-14 1h0m6 1h0m2 0h0m-1 1h0m2 0h0m5 0h0m-14 1h0m0 1h0m6 0h0m8 0h0m-54 1h0m36 0h0m11 0h0m5 0h0m-49 1h1m52 0h0m-14 1h0m11 0h0m-10 1h1m16 0h0m-60 1h0m45 0h0m12 0h0m2 0h0m-64 1h0m36 0h0m8 0h0m4 0h0m-58 1h0m10 0h0m8 0h0m46 0h0m-62 1h0m53 0h0m3 1h0m7 0h0m-45 1h0m41 0h0m-43 1h0m34 0h0m-33 3h0m4 1h0m2 1h0m30 0h0m3 0h0m-2 2h0m5 0h1m-31 1h0m22 0h0m-43 3h0m59 0h0m-10 1h0m-39 1h0m39 1h0m-51 2h0m41 1h0m5 1h0m6 0h0m-36 4h0"/><path stroke="#5dbb46" d="M0 0m141 111h0m3 0h0m-5 1h1m2 0h2m3 0h1m-7 1h0m6 0h0m4 0h0m-11 1h0m3 0h0m2 0h0m2 0h1m4 0h1m-13 1h2m7 0h0m4 0h0m-14 1h0m3 0h0m7 0h0m3 0h0m5 0h0m-23 1h0m5 0h1m5 0h0m3 0h0m5 0h0m-17 1h1m4 0h0m8 0h0m5 0h0m3 0h1m-22 1h1m2 0h0m2 0h0m6 0h0m5 0h0m-22 1h0m5 0h0m2 0h0m7 0h0m3 0h0m3 0h1m4 0h0m-29 1h0m10 0h2m8 0h0m4 0h1m7 0h0m-24 1h0m2 0h1m5 0h0m6 0h0m3 0h1m-16 1h1m3 0h0m7 0h0m2 0h0m2 0h0m-18 1h0m2 0h0m3 0h2m2 0h0m6 0h2m-18 1h0m3 0h0m2 0h0m8 0h1m2 0h0m3 0h0m-22 1h0m6 0h0m4 0h0m3 0h0m-9 1h0m4 0h2m2 0h3m-10 1h2m5 0h0m2 0h2m2 0h1m-10 1h0m3 0h0m3 0h0m4 0h0m-7 1h0m2 0h2m4 0h0m3 0h0m-14 1h2m3 0h0m2 0h1m-12 1h0m5 0h1m5 0h0m5 0h0m-17 1h2m2 0h0m2 0h0m5 0h0m5 0h0m-14 1h0m3 0h1m2 0h0m2 0h1m2 0h1m-18 1h0m6 0h0m4 0h0m-8 1h0m5 0h0m2 0h2m2 0h0m8 0h0m-16 1h1m5 0h1m2 0h0m8 0h0m-20 1h0m3 0h0m5 0h0m2 0h1m3 0h0m-5 1h0m2 0h0m2 0h0m-9 1h0m2 0h0m5 0h0m3 0h0m-4 1h0m3 0h2m2 0h0m-14 1h0m9 0h0m-13 1h0m4 0h0m3 0h1m2 0h3m-14 1h1m2 0h2m3 0h1m-11 1h0m3 0h0m2 0h0m3 0h0m2 0h0m3 0h0m-10 1h0m2 0h0m3 0h0m2 0h0m2 0h0m4 0h2m3 0h0m-19 1h0m5 0h1m4 0h0m5 0h0m-14 1h0m3 0h1m2 0h0m4 0h1m6 0h0m-19 1h0m2 0h0m6 0h1m2 0h1m4 0h0m2 0h1m-14 1h1m6 0h0m4 0h0m-12 1h0m4 0h0m3 0h2m-6 1h0m5 0h0m2 0h0m-8 1h0m3 0h0m2 0h0m4 0h1m-8 1h0m2 0h0m2 0h0m-5 1h0m3 0h0m4 0h0m-58 1h0m46 0h0m3 0h0m3 0h1m2 0h0m2 0h0m7 0h0m-10 1h0m2 0h1m-48 1h0m33 0h0m8 0h0m3 0h0m2 0h0m-11 1h0m8 0h0m2 0h0m2 0h1m6 0h0m-43 1h0m2 1h0m29 0h0m4 0h0m2 0h0m-11 2h0m-24 1h0m33 0h0m-1 2h0m-7 1h0m-2 4h0m4 1h0m-5 1h0m2 0h0m4 0h0m-42 1h0m-13 1h0m53 0h0m-41 2h0m37 1h0m-46 2h0m51 9h0m-10 5h0"/><path stroke="#8cc63f" d="M0 0m139 114h0m3 0h0m4 2h0m1 1h0m5 0h0m2 0h0m-8 1h1m3 0h1m-13 1h0m4 0h1m0 1h0m3 0h0m3 0h0m-6 1h2m3 0h0m5 0h0m-13 1h0m6 0h1m-13 1h0m5 0h0m7 0h0m4 0h0m-11 2h1m3 0h1m-9 2h1m3 1h0m1 1h0m-2 1h0m3 1h0m0 1h0m-3 1h0m7 1h0m-9 1h0m4 0h1m-5 2h0m3 0h0m5 0h0m-8 3h0m4 0h0m4 0h0m-6 1h0m6 1h0m-6 3h0m0 2h0m3 0h0m-6 2h0m3 1h0m3 0h0m-3 1h0m-4 1h0m5 0h0m0 2h0"/><path stroke="#f3e21c" d="M0 0m144 114h0m0 1h0m0 1h0m-1 2h0m2 0h0m-5 1h0m6 0h0m3 0h0m-11 1h0m10 0h0m-8 1h0m7 0h0m-6 2h0m7 3h0"/><path stroke="#f7941d" d="M0 0m141 120h0m-2 1h0"/></g></defs><g transform="translate(118.99 81.99) scale(1.78)" fill="none" stroke-linecap="round"><use href="#sc2" stroke-width="1.5" stroke-opacity="0.3"/><use href="#sc2" stroke-width="1"/></g><linearGradient id="sg2" gradientUnits="userSpaceOnUse" x1="163" y1="0" x2="414" y2="0"><stop offset="0" stop-color="#2277cc"/><stop offset="0.05" stop-color="#58b947"/><stop offset="0.3" stop-color="#8cc63f"/><stop offset="0.4" stop-color="#f59a23"/><stop offset="0.55" stop-color="#e8501f"/><stop offset="0.72" stop-color="#e8501f"/><stop offset="0.82" stop-color="#f2d12c"/><stop offset="0.92" stop-color="#58b947"/><stop offset="1" stop-color="#2277cc"/></linearGradient><rect x="163" y="524.9" width="251" height="2" fill="url(#sg2)" opacity="0.9"/>
<path d="M119 82.2H564.4V527.6" fill="none" stroke="#000" stroke-width="2.2"/>
<path d="M119 81.1V527.6H565.5" fill="none" stroke="#000" stroke-width="2"/>
<path d="M106 525.3H119M106 462.7H119M106 398.4H119M106 335.4H119M106 270.8H119M106 208.4H119M106 144H119M106 82.5H119M119.7 527.6V539M173.5 527.6V539M229 527.6V539M284.8 527.6V539M340.1 527.6V539M394.8 527.6V539M450.5 527.6V539M506 527.6V539M562.2 527.6V539" stroke="#000" stroke-width="3.7" fill="none"/>
<path d="M112.6 506.46H119M112.6 495.43H119M112.6 487.61H119M112.6 476.59H119M112.6 472.4H119M112.6 468.77H119M112.6 465.56H119M112.6 443.34H119M112.6 432.02H119M112.6 423.99H119M112.6 412.66H119M112.6 408.36H119M112.6 404.63H119M112.6 401.34H119M112.6 379.44H119M112.6 368.34H119M112.6 360.47H119M112.6 349.38H119M112.6 345.16H119M112.6 341.51H119M112.6 338.28H119M112.6 315.95H119M112.6 304.58H119M112.6 296.51H119M112.6 285.13H119M112.6 280.81H119M112.6 277.06H119M112.6 273.76H119M112.6 252.02H119M112.6 241.03H119M112.6 233.23H119M112.6 222.24H119M112.6 218.07H119M112.6 214.45H119M112.6 211.26H119M112.6 189.01H119M112.6 177.67H119M112.6 169.63H119M112.6 158.29H119M112.6 153.98H119M112.6 150.24H119M112.6 146.95H119M112.6 125.49H119M112.6 114.66H119M112.6 106.97H119M112.6 96.14H119M112.6 92.03H119M112.6 88.46H119M112.6 85.31H119M134.71 527.6V533.8M144.48 527.6V533.8M151.41 527.6V533.8M161.19 527.6V533.8M164.9 527.6V533.8M168.12 527.6V533.8M170.96 527.6V533.8M190.21 527.6V533.8M199.98 527.6V533.8M206.91 527.6V533.8M216.69 527.6V533.8M220.4 527.6V533.8M223.62 527.6V533.8M226.46 527.6V533.8M245.8 527.6V533.8M255.62 527.6V533.8M262.59 527.6V533.8M272.42 527.6V533.8M276.16 527.6V533.8M279.39 527.6V533.8M282.25 527.6V533.8M301.45 527.6V533.8M311.18 527.6V533.8M318.09 527.6V533.8M327.83 527.6V533.8M331.53 527.6V533.8M334.74 527.6V533.8M337.57 527.6V533.8M356.57 527.6V533.8M366.2 527.6V533.8M373.03 527.6V533.8M382.66 527.6V533.8M386.33 527.6V533.8M389.5 527.6V533.8M392.3 527.6V533.8M411.57 527.6V533.8M421.38 527.6V533.8M428.33 527.6V533.8M438.14 527.6V533.8M441.87 527.6V533.8M445.1 527.6V533.8M447.95 527.6V533.8M467.21 527.6V533.8M476.98 527.6V533.8M483.91 527.6V533.8M493.69 527.6V533.8M497.4 527.6V533.8M500.62 527.6V533.8M503.46 527.6V533.8M522.92 527.6V533.8M532.81 527.6V533.8M539.84 527.6V533.8M549.73 527.6V533.8M553.49 527.6V533.8M556.75 527.6V533.8M559.63 527.6V533.8M109.3 481.54H119M109.3 417.76H119M109.3 354.36H119M109.3 290.25H119M109.3 227.18H119M109.3 163.39H119M109.3 101.01H119M156.79 527.6V535.6M212.29 527.6V535.6M268 527.6V535.6M323.45 527.6V535.6M378.33 527.6V535.6M433.73 527.6V535.6M489.29 527.6V535.6M545.28 527.6V535.6" stroke="#000" stroke-width="1.8" fill="none"/>
<path d="M337.3 82.2V527.6M119 305.8H564.4" stroke="#000" stroke-width="3.4" fill="none"/>
<g font-family='"Liberation Sans", Arial, Helvetica, sans-serif' fill="#000" stroke="#000" stroke-width="0.4" stroke-linejoin="round">
<text x="74" y="525.2" font-size="16.4" textLength="15" lengthAdjust="spacingAndGlyphs" stroke-width="0.75">10</text>
<text x="89.2" y="514.2" font-size="17.4" textLength="8.6" lengthAdjust="spacingAndGlyphs" stroke-width="0.7">0</text>
<text x="74" y="473.3" font-size="16.4" textLength="15" lengthAdjust="spacingAndGlyphs" stroke-width="0.75">10</text>
<text x="89.2" y="462.3" font-size="17.4" textLength="8.6" lengthAdjust="spacingAndGlyphs" stroke-width="0.7">1</text>
<text x="74" y="409" font-size="16.4" textLength="15" lengthAdjust="spacingAndGlyphs" stroke-width="0.75">10</text>
<text x="89.2" y="398" font-size="17.4" textLength="8.6" lengthAdjust="spacingAndGlyphs" stroke-width="0.7">2</text>
<text x="74" y="346" font-size="16.4" textLength="15" lengthAdjust="spacingAndGlyphs" stroke-width="0.75">10</text>
<text x="89.2" y="335" font-size="17.4" textLength="8.6" lengthAdjust="spacingAndGlyphs" stroke-width="0.7">3</text>
<text x="74" y="281.4" font-size="16.4" textLength="15" lengthAdjust="spacingAndGlyphs" stroke-width="0.75">10</text>
<text x="89.2" y="270.4" font-size="17.4" textLength="8.6" lengthAdjust="spacingAndGlyphs" stroke-width="0.7">4</text>
<text x="74" y="219" font-size="16.4" textLength="15" lengthAdjust="spacingAndGlyphs" stroke-width="0.75">10</text>
<text x="89.2" y="208" font-size="17.4" textLength="8.6" lengthAdjust="spacingAndGlyphs" stroke-width="0.7">5</text>
<text x="74" y="154.6" font-size="16.4" textLength="15" lengthAdjust="spacingAndGlyphs" stroke-width="0.75">10</text>
<text x="89.2" y="143.6" font-size="17.4" textLength="8.6" lengthAdjust="spacingAndGlyphs" stroke-width="0.7">6</text>
<text x="74" y="107.6" font-size="16.4" textLength="15" lengthAdjust="spacingAndGlyphs" stroke-width="0.75">10</text>
<text x="89.2" y="96.6" font-size="17.4" textLength="8.6" lengthAdjust="spacingAndGlyphs" stroke-width="0.7">7</text>
<text x="127.6" y="565.3" font-size="16.4" textLength="15" lengthAdjust="spacingAndGlyphs" stroke-width="0.75">10</text>
<text x="142.8" y="554.8" font-size="17.4" textLength="8.6" lengthAdjust="spacingAndGlyphs" stroke-width="0.7">0</text>
<text x="230.4" y="565.3" font-size="16.4" textLength="15" lengthAdjust="spacingAndGlyphs" stroke-width="0.75">10</text>
<text x="245.6" y="554.8" font-size="17.4" textLength="8.6" lengthAdjust="spacingAndGlyphs" stroke-width="0.7">2</text>
<text x="341.5" y="565.3" font-size="16.4" textLength="15" lengthAdjust="spacingAndGlyphs" stroke-width="0.75">10</text>
<text x="356.7" y="554.8" font-size="17.4" textLength="8.6" lengthAdjust="spacingAndGlyphs" stroke-width="0.7">4</text>
<text x="451.9" y="565.3" font-size="16.4" textLength="15" lengthAdjust="spacingAndGlyphs" stroke-width="0.75">10</text>
<text x="467.1" y="554.8" font-size="17.4" textLength="8.6" lengthAdjust="spacingAndGlyphs" stroke-width="0.7">6</text>
<text x="539.2" y="565.3" font-size="16.4" textLength="15" lengthAdjust="spacingAndGlyphs" stroke-width="0.75">10</text>
<text x="554.4" y="554.8" font-size="17.4" textLength="8.6" lengthAdjust="spacingAndGlyphs" stroke-width="0.7">8</text>
<text x="125.6" y="118" font-size="19.5" text-anchor="start" textLength="24.19" lengthAdjust="spacingAndGlyphs">Q1</text>
<text x="125.6" y="146" font-size="19.5" text-anchor="start" textLength="35.29" lengthAdjust="spacingAndGlyphs">0.93</text>
<text x="527.4" y="118" font-size="19.5" text-anchor="end" textLength="24.19" lengthAdjust="spacingAndGlyphs">Q2</text>
<text x="527.4" y="146" font-size="19.5" text-anchor="end" textLength="35.29" lengthAdjust="spacingAndGlyphs">16.1</text>
<text x="125.6" y="476.8" font-size="19.5" text-anchor="start" textLength="24.19" lengthAdjust="spacingAndGlyphs">Q4</text>
<text x="125.6" y="504.8" font-size="19.5" text-anchor="start" textLength="35.29" lengthAdjust="spacingAndGlyphs">52.0</text>
<text x="527.4" y="476.8" font-size="19.5" text-anchor="end" textLength="24.19" lengthAdjust="spacingAndGlyphs">Q3</text>
<text x="527.4" y="504.8" font-size="19.5" text-anchor="end" textLength="35.29" lengthAdjust="spacingAndGlyphs">31.0</text>
<text x="340" y="615.8" font-size="18.4" text-anchor="middle" textLength="118" lengthAdjust="spacingAndGlyphs">488Grn(Area)</text>
<text transform="translate(25.2 304) rotate(-90)" font-size="18.4" text-anchor="middle" textLength="118" lengthAdjust="spacingAndGlyphs">488Org(Area)</text>
</g>
</g>
<text transform="translate(668.6 617.4) scale(1.09 1)" font-family='"Noto Sans CJK SC", "Liberation Sans", sans-serif' font-weight="300" font-size="48" fill="#231815" stroke="#231815" stroke-width="0.9">10</text>
<g transform="translate(1.6 607.8)">
<defs><g id="sc3"><path stroke="#1c349c" d="M0 0m141 106h1m3 0h0m3 0h0m12 0h0m-28 1h0m18 0h0m6 0h0m-21 1h0m12 0h0m3 0h0m5 0h1m4 0h0m2 0h0m-36 1h0m3 0h0m4 0h0m2 0h0m5 0h0m4 0h2m3 0h0m4 0h0m-28 1h0m2 0h0m4 0h0m19 0h0m3 0h0m6 0h0m-31 1h0m4 0h2m2 0h1m7 0h0m3 0h0m4 0h0m5 0h2m-47 1h0m18 0h1m5 0h0m8 0h1m3 0h1m3 0h0m4 0h1m-29 1h0m7 0h0m11 0h0m-24 1h1m3 0h1m2 0h0m6 0h0m7 0h1m4 0h0m3 0h0m5 0h0m5 0h1m-38 1h0m2 0h0m8 0h0m6 0h0m2 0h0m2 0h0m12 0h0m6 0h0m-40 1h1m3 0h0m2 0h1m2 0h0m5 0h0m2 0h1m11 0h0m-37 1h0m10 0h0m4 0h1m2 0h1m3 0h0m18 0h1m5 0h0m-38 1h1m2 0h5m3 0h0m9 0h0m2 0h0m4 0h0m2 0h0m5 0h0m-30 1h0m4 0h1m4 0h0m3 0h0m13 0h0m5 0h0m-26 1h0m8 0h3m7 0h0m4 0h0m3 0h0m4 0h0m2 0h0m2 0h1m-42 1h0m3 0h1m3 0h1m3 0h1m11 0h0m2 0h0m2 0h0m5 0h1m3 0h1m4 0h0m-35 1h0m12 0h0m8 0h0m5 0h0m4 0h0m-38 1h0m8 0h0m2 0h1m3 0h0m11 0h1m11 0h0m8 0h0m-44 1h0m3 0h0m4 0h0m4 0h2m8 0h0m4 0h1m3 0h0m6 0h1m3 0h0m2 0h0m-97 1h0m55 0h0m4 0h0m6 0h2m3 0h1m18 0h1m5 0h0m7 0h0m-42 1h0m2 0h1m4 0h0m2 0h0m11 0h0m6 0h0m13 0h0m-47 1h0m3 0h0m4 0h0m6 0h0m6 0h1m6 0h0m8 0h0m5 0h0m6 0h0m-47 1h0m8 0h0m2 0h1m3 0h0m2 0h1m2 0h0m4 0h0m4 0h0m5 0h0m5 0h0m3 0h0m4 0h0m4 0h0m-40 1h0m7 0h0m2 0h0m8 0h0m3 0h1m2 0h0m7 0h0m-29 1h2m2 0h0m5 0h1m2 0h1m5 0h0m5 0h1m9 0h1m2 0h0m4 0h0m-46 1h1m10 0h0m3 0h0m10 0h0m5 0h1m6 0h0m-32 1h0m2 0h0m7 0h2m2 0h0m4 0h0m6 0h0m13 0h0m6 0h0m-42 1h0m10 0h0m2 0h0m5 0h0m2 0h0m2 0h0m7 0h0m4 0h0m3 0h0m-73 1h0m25 0h0m8 0h0m15 0h1m4 0h0m3 0h1m6 0h0m4 0h0m2 0h2m5 0h0m-46 1h0m12 0h1m4 0h1m2 0h1m8 0h1m2 0h0m6 0h0m7 0h0m2 0h0m-82 1h0m33 0h0m8 0h0m2 0h0m2 0h1m2 0h0m12 0h0m5 0h0m6 0h1m3 0h0m-37 1h0m13 0h0m7 0h0m3 0h2m7 0h0m2 0h0m3 0h0m2 0h0m4 0h0m2 0h0m2 0h0m-78 1h0m18 0h1m6 0h0m29 0h0m2 0h0m2 0h0m6 0h0m3 0h0m7 0h0m-50 1h1m13 0h1m7 0h0m8 0h0m13 0h0m9 0h0m-54 1h1m10 0h0m2 0h0m3 0h0m2 0h0m4 0h0m7 0h0m8 0h0m10 0h0m2 0h0m6 0h0m-110 1h0m49 0h0m20 0h0m6 0h0m2 0h1m3 0h0m6 0h0m10 0h0m7 0h0m2 0h0m3 0h0m-71 1h0m22 0h0m8 0h1m2 0h0m4 0h0m2 0h0m2 0h0m9 0h0m11 0h0m3 0h0m3 0h1m-80 1h0m25 0h1m8 0h0m11 0h0m2 0h0m8 0h1m3 0h0m3 0h1m2 0h2m7 0h0m7 0h0m-97 1h0m33 0h0m7 0h0m3 0h0m11 0h0m10 0h0m4 0h0m2 0h1m6 0h0m3 0h0m8 0h0m5 0h0m-96 1h0m19 0h0m21 0h0m2 0h0m5 0h0m6 0h0m9 0h0m2 0h0m5 0h0m4 0h0m2 0h0m4 0h2m5 0h0m4 0h0m2 0h0m3 0h0m2 0h1m-72 1h0m12 0h0m7 0h0m2 0h0m2 0h0m10 0h2m3 0h0m3 0h0m7 0h0m17 0h0m2 0h0m2 0h0m2 0h0m2 0h0m3 0h0m-106 1h0m2 0h0m21 0h0m15 0h1m14 0h0m4 0h0m5 0h0m4 0h1m11 0h0m3 0h1m4 0h0m11 0h0m-56 1h0m2 0h0m3 0h0m2 0h0m5 0h1m4 0h0m9 0h0m3 0h0m3 0h1m2 0h0m12 0h1m4 0h0m4 0h0m2 0h1m4 0h1m-100 1h0m11 0h0m14 0h1m3 0h0m29 0h1m2 0h0m9 0h0m8 0h0m4 0h1m8 0h0m2 0h0m5 0h0m-90 1h0m20 0h0m12 0h0m2 0h0m3 0h1m3 0h0m13 0h0m2 0h0m4 0h1m8 0h1m2 0h0m6 0h1m5 0h0m5 0h0m-76 1h0m5 0h3m7 0h0m7 0h0m6 0h1m3 0h0m3 0h0m2 0h0m8 0h0m5 0h1m13 0h0m4 0h0m4 0h1m4 0h0m-95 1h0m14 0h0m14 0h0m9 0h0m10 0h0m5 0h2m6 0h0m4 0h2m9 0h0m4 0h0m4 0h0m4 0h0m3 0h0m5 0h0m2 0h0m-95 1h1m25 0h0m4 0h0m16 0h0m2 0h0m2 0h0m5 0h1m5 0h0m7 0h0m2 0h1m11 0h0m6 0h1m2 0h0m2 0h0m-101 1h0m20 0h0m15 0h0m2 0h0m2 0h0m2 0h0m3 0h0m4 0h0m5 0h0m3 0h0m2 0h0m2 0h1m2 0h0m2 0h1m3 0h1m14 0h0m4 0h0m8 0h0m3 0h0m2 0h0m-98 1h0m20 0h1m3 0h0m3 0h0m3 0h0m15 0h0m5 0h0m9 0h0m7 0h0m5 0h0m5 0h0m5 0h0m7 0h0m11 0h0m-99 1h0m7 0h0m12 0h0m4 0h0m8 0h0m2 0h0m2 0h0m16 0h1m3 0h0m7 0h0m3 0h0m2 0h0m2 0h0m4 0h0m2 0h0m3 0h0m2 0h1m8 0h0m-86 1h0m18 0h0m16 0h0m3 0h0m6 0h0m5 0h1m2 0h2m8 0h0m5 0h0m8 0h0m2 0h0m3 0h1m3 0h0m7 0h1m-99 1h0m10 0h0m8 0h1m7 0h0m3 0h0m5 0h0m6 0h1m5 0h0m3 0h0m2 0h0m3 0h0m9 0h0m5 0h0m6 0h0m4 0h0m7 0h0m10 0h1m7 0h0m-93 1h0m13 0h1m13 0h1m2 0h0m3 0h0m2 0h0m6 0h0m4 0h1m3 0h0m4 0h0m3 0h0m2 0h1m3 0h0m14 0h0m6 0h0m2 0h0m5 0h0m-105 1h0m19 0h0m10 0h0m6 0h1m5 0h0m8 0h1m20 0h0m2 0h0m4 0h1m2 0h1m8 0h0m2 0h0m7 0h0m7 0h0m2 0h0m-113 1h0m20 0h0m2 0h1m6 0h0m12 0h1m4 0h0m2 0h0m7 0h2m4 0h0m8 0h0m12 0h2m5 0h0m6 0h1m7 0h1m2 0h0m2 0h3m3 0h0m-103 1h0m18 0h0m12 0h0m2 0h0m14 0h1m5 0h0m2 0h0m9 0h1m7 0h0m4 0h0m2 0h1m10 0h0m10 0h0m5 0h1m-91 1h0m15 0h0m8 0h0m2 0h1m3 0h0m3 0h0m3 0h0m2 0h0m6 0h0m2 0h1m7 0h0m2 0h0m2 0h1m3 0h0m3 0h0m6 0h0m6 0h0m11 0h0m-129 1h0m28 0h0m12 0h0m12 0h0m5 0h2m5 0h0m14 0h0m11 0h0m9 0h0m4 0h0m5 0h0m2 0h1m3 0h0m3 0h0m5 0h0m2 0h0m4 0h2m3 0h0m-109 1h0m8 0h0m7 0h0m17 0h0m2 0h0m2 0h1m7 0h0m4 0h1m3 0h1m3 0h0m9 0h0m4 0h0m11 0h0m8 0h1m3 0h0m4 0h0m4 0h0m5 0h0m4 0h1m-116 1h0m2 0h0m11 0h0m14 0h0m5 0h0m5 0h0m2 0h0m5 0h0m4 0h1m3 0h0m5 0h0m2 0h0m2 0h0m3 0h0m2 0h0m4 0h0m2 0h0m5 0h1m7 0h0m2 0h0m2 0h0m2 0h0m3 0h0m7 0h0m3 0h0m10 0h0m-102 1h0m23 0h2m2 0h0m2 0h0m11 0h2m4 0h0m4 0h0m4 0h1m2 0h1m3 0h1m3 0h0m8 0h1m4 0h0m3 0h1m3 0h1m4 0h0m5 0h0m3 0h0m-117 1h0m26 0h0m15 0h1m17 0h0m8 0h0m3 0h0m8 0h3m6 0h2m2 0h2m3 0h2m3 0h1m2 0h0m3 0h0m3 0h0m3 0h0m4 0h1m4 0h0m-107 1h0m5 0h0m11 0h0m2 0h0m3 0h0m8 0h0m9 0h1m3 0h0m3 0h0m3 0h0m6 0h0m6 0h0m3 0h0m13 0h0m3 0h0m2 0h0m2 0h1m2 0h1m6 0h0m7 0h0m3 0h0m3 0h0m5 0h0m-108 1h0m9 0h0m3 0h0m11 0h0m4 0h0m8 0h0m7 0h0m3 0h0m3 0h0m4 0h1m2 0h0m4 0h0m5 0h3m10 0h0m10 0h0m2 0h1m9 0h0m-110 1h0m14 0h0m13 0h0m11 0h0m10 0h1m2 0h0m10 0h1m7 0h0m2 0h0m2 0h0m2 0h2m2 0h0m11 0h0m2 0h0m2 0h0m12 0h0m6 0h1m2 0h0m-98 1h0m17 0h2m6 0h0m3 0h0m2 0h0m4 0h1m2 0h1m2 0h1m9 0h0m6 0h1m2 0h0m3 0h0m5 0h1m4 0h0m2 0h0m2 0h1m3 0h0m6 0h0m6 0h1m2 0h0m-106 1h0m17 0h0m2 0h0m7 0h1m6 0h2m4 0h0m29 0h0m2 0h0m3 0h0m4 0h0m7 0h0m4 0h1m2 0h0m2 0h0m4 0h0m5 0h0m3 0h0m3 0h0m-98 1h0m11 0h0m3 0h0m5 0h0m2 0h0m13 0h0m10 0h0m5 0h0m14 0h0m3 0h0m5 0h0m13 0h0m3 0h0m-42 1h0m13 0h1m4 0h0m3 0h1m3 0h0m3 0h1m5 0h6m2 0h0m3 0h0m7 0h1m-95 1h0m6 0h0m8 0h1m3 0h0m7 0h1m2 0h0m3 0h0m9 0h0m10 0h0m3 0h0m7 0h0m4 0h0m3 0h0m4 0h0m5 0h0m3 0h0m8 0h0m3 0h0m2 0h0m-117 1h0m48 0h0m6 0h0m4 0h0m2 0h0m5 0h0m14 0h1m3 0h0m2 0h0m4 0h0m4 0h0m3 0h0m4 0h0m4 0h0m7 0h0m3 0h0m2 0h1m-137 1h0m30 0h0m15 0h0m3 0h0m4 0h0m10 0h0m3 0h0m4 0h0m35 0h2m2 0h2m3 0h0m3 0h0m3 0h0m2 0h2m2 0h0m3 0h0m2 0h1m8 0h0m2 0h0m-94 1h0m22 0h0m4 0h0m8 0h0m2 0h0m2 0h0m9 0h0m3 0h0m12 0h0m6 0h0m6 0h0m2 0h1m2 0h0m2 0h1m-99 1h0m26 0h0m9 0h1m14 0h0m7 0h1m2 0h0m5 0h0m5 0h0m5 0h0m2 0h1m2 0h2m7 0h0m3 0h2m2 0h0m3 0h0m3 0h0m-102 1h0m16 0h0m6 0h0m6 0h0m2 0h0m14 0h0m7 0h0m7 0h0m5 0h0m6 0h0m6 0h0m3 0h0m5 0h0m2 0h1m2 0h1m2 0h4m3 0h3m3 0h0m-122 1h0m28 0h0m9 0h0m21 0h1m6 0h0m7 0h0m2 0h0m18 0h0m7 0h1m17 0h0m7 0h1m-111 1h0m31 0h0m4 0h0m17 0h0m5 0h0m5 0h0m7 0h0m2 0h0m3 0h0m7 0h0m3 0h0m3 0h0m6 0h0m2 0h0m2 0h0m4 0h0m3 0h0m4 0h1m-89 1h0m8 0h0m3 0h0m3 0h0m3 0h0m7 0h0m3 0h1m4 0h0m2 0h0m5 0h0m6 0h0m4 0h1m7 0h0m3 0h2m5 0h0m2 0h0m2 0h0m4 0h0m4 0h0m-73 1h0m6 0h0m4 0h0m5 0h0m5 0h1m3 0h0m2 0h0m19 0h1m9 0h0m5 0h0m2 0h2m3 0h1m3 0h0m2 0h1m5 0h0m3 0h2m-98 1h0m17 0h0m7 0h0m5 0h0m5 0h0m5 0h0m9 0h1m10 0h0m3 0h0m2 0h1m13 0h0m3 0h0m4 0h1m3 0h2m2 0h0m-76 1h0m3 0h1m6 0h0m3 0h2m9 0h0m5 0h0m7 0h1m4 0h0m3 0h1m3 0h0m5 0h0m8 0h0m3 0h0m2 0h0m7 0h2m7 0h0m-94 1h0m28 0h0m3 0h3m2 0h0m3 0h1m2 0h0m3 0h0m2 0h0m8 0h0m2 0h1m8 0h0m3 0h0m5 0h0m2 0h0m6 0h0m2 0h0m5 0h1m-71 1h0m15 0h1m21 0h0m7 0h0m2 0h0m7 0h0m3 0h2m3 0h0m3 0h1m11 0h0m3 0h0m-77 1h2m4 0h0m7 0h0m17 0h0m15 0h1m4 0h0m8 0h0m3 0h0m9 0h0m-104 1h0m29 0h0m14 0h0m7 0h0m2 0h0m12 0h0m3 0h0m7 0h0m4 0h0m4 0h1m3 0h0m3 0h0m17 0h0m-71 1h0m12 0h0m7 0h0m9 0h0m27 0h1m2 0h0m7 0h0m-86 1h0m11 0h0m11 0h0m7 0h0m13 0h0m2 0h0m4 0h0m16 0h0m6 0h1m2 0h0m3 0h0m3 0h0m3 0h0m4 0h0m5 0h0m-70 1h0m21 0h1m2 0h0m17 0h1m2 0h0m4 0h0m3 0h0m2 0h0m2 0h0m18 0h0m-32 1h0m12 0h0m2 0h0m3 0h0m13 0h0m-99 1h0m21 0h0m2 0h0m18 0h0m19 0h0m5 0h0m9 0h3m2 0h0m6 0h2m2 0h0m3 0h2m-74 1h0m13 0h0m3 0h0m6 0h0m6 0h0m25 0h0m3 0h1m2 0h3m3 0h1m3 0h1m4 0h0m2 0h0m-88 1h0m24 0h0m12 0h0m14 0h0m3 0h0m4 0h0m4 0h0m11 0h0m5 0h2m7 0h0m4 0h0m-78 1h0m40 0h0m28 0h0m3 0h0m3 0h1m-18 1h0m10 0h0m-52 1h0m2 0h0m9 0h0m6 0h0m13 0h1m5 0h0m8 0h0m6 0h0m5 0h0m2 0h0m4 0h0m-29 1h1m24 0h0m-102 1h0m63 0h0m35 0h2m-56 1h0m40 0h0m11 0h0m3 0h1m-55 1h0m32 0h0m8 0h0m7 0h0m7 0h0m2 0h1m2 0h1m-55 1h0m25 0h0m24 0h0m-53 1h0m25 0h0m23 0h1m2 0h0m-103 1h0m68 0h0m20 0h0m10 0h0m2 0h0m6 0h1m5 0h0m-42 2h0m12 0h0m3 0h0m16 0h1m4 0h0m3 0h0m-36 1h0m10 0h0m19 0h1m8 0h0m-28 1h1m14 0h0m9 0h1m-78 2h0m43 0h0m8 0h0m17 0h0m9 0h0m-23 1h0m7 0h0m11 0h1m2 0h0m3 0h0m-17 2h0m14 0h0m3 0h0m-17 2h0m9 0h0m4 3h1m3 0h0m2 0h0m3 0h0m-14 2h0m5 0h0m2 0h0m5 0h0m-9 4h0m10 4h0m-17 7h0m6 0h0m2 0h0"/><path stroke="#1d4fae" d="M0 0m136 107h0m12 0h0m-4 1h0m-12 1h0m10 0h0m5 0h0m-9 1h0m-17 1h0m18 0h0m6 0h0m-13 1h0m5 0h0m16 0h0m4 0h0m-31 1h0m26 0h2m3 0h0m-30 1h0m10 0h0m19 0h0m-22 1h0m-6 1h0m3 0h0m18 0h1m4 0h0m-32 1h0m13 0h0m12 0h0m7 0h0m4 0h0m-21 1h0m4 0h0m11 0h0m2 0h1m5 0h0m-33 1h2m6 0h0m14 0h0m9 0h0m-36 1h0m5 0h1m11 0h0m16 0h0m-18 1h0m10 0h0m9 0h0m4 0h0m-31 1h0m2 0h0m24 0h0m-13 1h0m16 0h0m-26 1h0m16 0h0m-12 1h0m10 0h0m-26 1h0m13 0h0m16 0h0m5 0h0m3 0h0m-32 1h0m15 0h0m4 0h0m10 0h0m-16 1h1m3 0h0m2 0h1m5 0h0m5 0h0m-22 1h0m3 0h0m7 0h0m2 0h0m-19 1h0m8 0h1m10 0h0m3 0h0m5 0h0m3 0h0m-34 1h0m2 0h0m10 0h0m17 0h0m2 0h1m-32 1h0m12 0h0m3 0h0m17 0h0m-20 1h0m13 0h0m3 0h0m6 0h0m-95 1h0m2 0h0m59 0h1m6 0h0m7 0h0m17 0h0m-21 1h0m3 0h0m23 0h0m-26 1h0m5 0h0m16 0h0m2 0h0m-39 1h0m36 0h0m-39 1h0m7 0h0m12 0h0m18 0h0m2 0h0m-36 1h0m4 0h0m9 0h0m3 0h0m7 0h0m3 0h0m4 0h0m-35 1h0m6 0h0m4 0h0m8 0h0m23 0h0m-39 1h0m7 0h0m20 1h1m3 0h0m-18 1h0m4 0h0m16 0h0m5 0h0m-22 1h0m12 0h0m-20 1h0m3 0h0m2 0h0m4 0h0m15 0h0m10 0h0m-66 1h0m21 0h0m9 0h1m4 0h0m20 0h0m-38 1h0m13 0h2m2 0h0m3 0h0m3 0h0m12 0h0m3 0h0m2 0h0m3 0h0m4 0h0m-37 1h0m9 0h0m2 0h0m6 0h0m9 0h0m-57 1h0m30 0h0m2 0h1m3 0h0m3 0h0m5 0h0m20 0h1m-56 1h0m26 0h0m11 0h0m19 0h0m-35 1h0m8 0h2m9 0h0m11 0h0m-39 1h0m19 0h0m4 0h0m-11 1h0m2 0h0m6 0h0m3 0h0m16 0h0m5 0h0m2 0h0m-83 1h0m68 0h0m7 0h0m-33 1h0m9 0h0m4 0h0m15 0h0m-31 1h0m11 0h0m10 0h0m8 0h0m-98 1h0m55 0h0m6 0h0m13 0h4m3 0h0m20 0h0m7 0h0m-72 1h0m42 0h0m21 0h0m3 0h2m-35 1h0m17 0h0m15 0h0m3 0h0m7 0h0m-73 1h0m22 0h0m12 0h0m15 0h0m-14 1h0m2 0h0m-24 1h0m22 0h1m13 0h1m3 0h0m7 0h0m-27 1h0m4 0h0m11 0h0m3 0h1m4 0h0m9 0h0m-55 1h0m12 0h0m7 0h0m11 0h2m16 0h0m3 0h0m4 0h0m-66 1h0m8 0h0m23 0h2m2 0h0m2 0h0m2 0h0m10 0h0m20 0h0m-68 1h0m26 0h0m28 0h0m6 0h0m5 0h0m-74 1h0m42 0h0m3 0h0m3 0h0m2 0h0m26 0h0m-81 1h0m29 0h0m22 0h0m19 0h0m9 0h0m5 0h0m-76 1h0m31 0h0m23 0h0m13 0h4m-59 1h0m43 0h0m3 0h0m10 0h0m4 0h0m-55 1h0m32 0h3m7 0h0m2 0h1m6 0h0m-65 1h0m11 0h0m10 0h0m20 0h1m11 0h0m12 0h1m-53 1h0m19 0h0m10 0h0m6 0h0m4 0h1m6 0h0m4 0h0m-38 1h0m10 0h0m4 0h0m2 0h0m3 0h0m7 0h0m4 0h0m2 0h0m2 0h0m8 0h0m-84 1h0m14 0h0m30 0h0m25 0h0m3 0h0m-41 1h0m2 0h0m6 0h0m10 0h0m16 0h0m2 0h0m11 0h2m5 0h0m-75 1h0m33 0h0m6 0h0m5 0h0m8 0h1m8 0h0m8 0h0m2 0h0m-120 1h0m91 0h2m13 0h0m9 0h0m-48 1h0m4 0h0m33 0h0m12 0h0m7 0h0m-54 1h0m11 0h0m8 0h1m3 0h0m26 0h0m-86 1h0m41 0h0m16 0h0m3 0h0m2 0h0m4 1h0m2 0h1m3 0h1m6 0h0m4 0h0m-64 1h0m4 0h0m9 0h0m9 0h0m14 0h0m12 0h0m6 0h0m3 0h0m1 1h0m4 0h0m2 0h0m5 0h0m2 0h0m-47 1h0m17 0h0m9 0h0m-46 1h0m14 0h0m2 0h0m34 0h0m16 0h0m-33 1h0m16 0h0m7 0h0m7 0h0m-49 1h0m27 0h0m8 0h0m8 0h0m10 0h0m-66 1h0m16 0h0m26 0h0m22 0h0m-95 1h0m81 0h0m13 0h0m-19 1h0m21 0h0m-32 1h0m28 0h0m-51 1h0m7 0h0m55 0h0m-27 1h0m14 0h0m-11 1h0m-7 1h0m19 0h0m-83 1h0m61 0h0m-3 1h0m28 0h0m-14 1h0m9 2h0m9 3h0m-9 1h0m-76 2h0m67 1h0m-15 2h0m18 1h0m4 1h0m8 0h0m2 0h0m-3 2h0m-2 1h0m-4 2h0"/><path stroke="#2e8fd4" d="M0 0m149 106h0m-10 4h0m2 0h0m3 0h1m-7 1h0m5 0h0m7 0h0m-16 1h0m4 0h1m7 0h0m4 0h0m-18 2h0m13 0h0m2 0h0m5 1h0m-20 1h0m20 0h0m0 1h0m-22 1h0m24 1h0m-27 2h0m12 0h0m-14 1h0m2 0h1m6 1h0m18 0h0m4 0h0m-33 1h0m10 0h0m25 0h0m-14 1h0m3 0h0m-18 1h0m-2 1h0m7 0h1m11 0h0m-12 1h0m14 0h0m6 0h0m-22 1h0m10 0h0m10 0h0m-23 1h0m26 0h0m1 4h0m-25 1h0m5 0h0m14 0h0m4 0h0m-24 1h0m19 0h0m-19 1h0m21 0h0m-16 1h0m20 0h0m-3 1h0m-36 1h0m6 0h0m4 0h0m4 0h0m15 0h0m-13 1h0m10 0h0m5 0h0m3 0h0m-16 1h0m-12 1h0m34 0h0m-32 1h0m6 0h1m-16 1h0m10 0h0m-8 1h0m8 0h1m24 0h0m-31 2h0m10 0h0m-10 1h0m9 0h0m17 0h0m2 0h0m-35 1h0m16 0h0m-19 1h0m19 1h0m2 0h0m16 0h0m5 0h0m-4 1h0m-21 1h0m19 0h0m4 0h0m-20 1h0m20 0h0m-58 1h0m23 0h0m11 1h0m-11 1h0m11 0h0m3 1h1m-12 1h0m-55 1h0m12 0h0m49 0h1m-7 1h0m11 0h0m3 0h0m13 0h0m-25 1h0m20 0h0m-46 1h0m17 0h0m20 0h0m-50 1h0m67 0h1m-31 1h0m26 0h0m-36 1h0m23 0h0m10 0h0m-22 1h0m4 0h0m9 0h0m6 0h0m2 0h0m4 0h0m-34 1h0m25 0h0m-16 1h1m15 0h0m1 1h0m2 0h0m-16 1h1m-3 1h0m2 0h0m2 0h1m4 0h0m13 0h0m-54 1h0m57 0h0m-27 2h0m9 0h0m6 1h0m-44 1h0m38 1h0m-23 1h0m24 0h0m7 0h0m-29 1h0m16 0h0m6 1h1m8 0h0m-17 2h0m18 0h0m2 1h0m-55 1h0m20 0h0m37 1h0m-16 2h0m15 0h0m-4 1h0m-4 4h0m2 0h0m-14 1h0m18 4h0"/><path stroke="#49b9c0" d="M0 0m142 110h0m6 1h0m-8 1h0m5 0h0m-14 1h1m5 0h0m5 0h0m5 0h1m-17 1h0m19 0h0m5 0h0m-2 1h0m-12 1h0m-14 1h0m18 0h0m-10 1h0m15 0h0m3 1h0m-24 1h0m20 0h0m-19 1h1m20 0h0m-21 1h0m9 0h0m5 0h0m-14 1h0m24 0h1m-25 1h0m4 0h0m12 0h0m3 0h0m-12 1h0m18 0h0m-23 1h0m14 0h0m6 0h0m-22 3h0m23 0h0m-14 1h0m0 1h0m11 0h0m2 0h0m-17 1h0m-4 1h0m23 0h0m-5 2h0m1 1h0m-18 1h0m7 1h0m14 1h0m-17 1h0m10 0h0m2 1h0m-17 2h0m-12 1h0m27 0h0m3 0h0m-22 2h0m16 0h0m-15 2h0m3 0h0m-2 2h1m19 0h0m-17 1h0m18 3h0m-25 1h0m5 0h0m14 0h0m-23 1h0m0 1h1m9 0h0m-15 1h0m3 0h0m4 0h0m3 0h0m21 0h0m-26 1h0m3 0h0m3 0h0m-5 1h0m8 0h0m8 0h0m-11 1h0m9 0h1m-16 1h0m11 0h0m8 0h0m6 0h0m2 0h0m-17 1h0m6 0h0m-22 1h0m22 0h0m6 0h0m-25 1h0m13 0h0m12 0h0m-29 1h0m4 0h0m3 0h0m4 0h0m-8 1h0m-4 1h0m10 0h0m3 3h0m14 0h0m4 0h0m-10 1h0m3 0h0m-64 2h0m63 0h0m1 1h0m-6 1h0m3 0h0m-11 2h0m4 1h1m-8 2h0m6 1h0m-4 4h0m16 2h0"/><path stroke="#5dbb46" d="M0 0m141 112h0m-6 1h1m4 0h0m3 0h0m6 0h0m-13 1h0m2 0h1m4 0h1m4 0h0m3 0h0m-20 1h0m2 0h0m3 0h1m2 0h0m5 0h0m3 0h3m-17 1h0m2 0h0m4 0h1m3 0h0m3 0h0m7 0h0m-20 1h0m3 0h0m4 0h0m3 0h1m5 0h0m-17 1h0m2 0h0m9 0h0m4 0h0m-16 1h0m6 0h0m3 0h0m5 0h0m2 0h1m2 0h0m-19 1h1m9 0h0m3 0h2m2 0h0m3 0h2m-21 1h2m2 0h0m10 0h0m6 0h0m3 0h0m-23 1h0m2 0h0m2 0h0m10 0h1m2 0h1m3 0h0m-27 1h1m4 0h0m4 0h2m4 0h0m2 0h0m2 0h0m4 0h1m3 0h0m-16 1h1m4 0h0m11 0h0m-25 1h0m4 0h0m2 0h1m4 0h2m2 0h0m9 0h0m-18 1h0m4 0h0m2 0h0m2 0h1m4 0h1m2 0h1m-19 1h1m5 0h1m2 0h1m1 1h0m-2 1h0m7 0h0m2 0h1m-13 1h0m2 0h0m3 0h1m2 0h1m-10 1h0m3 0h0m3 0h0m2 0h2m2 0h0m-13 1h0m2 0h0m2 0h2m2 0h0m2 0h5m-15 1h0m2 0h1m4 0h0m6 0h0m-12 1h1m2 0h0m2 0h2m2 0h0m4 0h0m2 0h0m-10 1h0m3 0h0m3 0h0m3 0h0m-20 1h0m4 0h0m4 0h1m12 0h0m-14 1h0m11 0h0m-16 1h0m4 0h0m4 0h1m3 0h0m3 0h0m-13 1h0m5 0h1m3 0h0m6 0h1m-19 1h1m2 0h0m2 0h1m4 0h0m5 0h0m-16 1h0m2 0h0m10 0h0m2 0h1m3 0h0m-17 1h1m10 0h0m2 0h0m2 0h0m-14 1h0m12 0h0m3 0h1m-13 1h0m4 0h0m8 0h0m-17 1h0m8 0h0m9 0h0m-19 1h0m3 0h1m-3 1h0m4 0h0m9 0h0m2 0h0m-15 1h0m2 0h0m2 0h0m6 0h0m6 0h0m2 0h0m-18 1h1m3 0h2m4 0h0m3 0h1m-5 1h1m3 0h0m3 0h0m-16 1h0m5 0h0m3 0h0m9 0h0m-20 1h0m5 0h0m15 0h0m-15 1h1m2 0h1m5 0h0m2 0h1m-16 1h5m2 0h0m4 0h0m4 0h0m3 0h1m-19 1h0m4 0h1m2 0h0m5 0h0m2 0h0m3 0h0m2 0h1m-22 1h0m5 0h1m6 0h0m4 0h0m7 0h0m-22 1h3m3 0h0m2 0h1m3 0h0m3 0h4m-17 1h0m2 0h3m2 0h1m3 0h0m4 0h0m-14 1h2m2 0h0m4 0h1m-12 1h0m2 0h0m4 0h0m2 0h2m2 0h1m2 0h1m3 0h0m-20 1h0m2 0h2m3 0h2m6 0h0m2 0h0m-10 1h1m2 0h0m3 0h0m2 0h0m2 0h0m-9 1h1m3 0h0m2 0h1m-17 1h0m5 0h0m3 0h0m4 0h0m4 0h0m-20 1h0m7 0h0m5 0h0m2 0h1m3 0h0m2 0h0m4 0h0m-11 1h0m2 0h0m3 0h0m-4 1h2m2 0h0m-24 2h0m6 0h0m15 0h0m2 0h0m-7 1h2m8 0h0m-24 1h0m15 1h0m2 0h0m3 0h0m-2 2h0m-11 1h0m12 2h0m-14 2h0"/><path stroke="#8cc63f" d="M0 0m144 113h0m2 0h0m-6 1h0m1 1h0m4 0h1m-4 1h0m3 0h0m2 0h0m-10 1h2m2 0h0m5 0h0m2 0h0m-15 1h0m6 0h0m3 0h0m6 0h1m-17 1h0m6 0h1m5 0h0m8 0h0m-14 1h0m0 1h0m3 0h0m4 0h0m3 0h0m-15 1h0m4 0h1m2 0h1m4 0h0m-13 1h0m14 0h1m-4 1h0m2 0h0m2 0h0m5 0h0m-19 1h0m9 0h0m3 0h0m-10 1h0m9 0h0m5 3h0m-11 2h0m6 0h0m1 1h0m-4 1h0m4 0h1m-7 2h0m2 0h0m2 0h1m3 0h0m-11 1h0m5 0h0m2 0h0m3 0h1m-8 1h3m2 0h0m2 0h1m-4 1h0m2 1h0m3 0h0m-7 1h0m2 0h1m-9 1h3m-2 1h0m2 0h1m3 0h0m-5 1h0m6 0h1m-12 1h1m2 0h0m3 0h0m5 0h1m-12 1h0m5 0h1m3 0h0m-7 1h1m4 0h2m5 0h0m-13 1h0m4 0h0m5 0h0m-6 1h1m4 0h0m4 0h0m-3 1h0m-8 1h0m3 0h0m8 0h0m-12 1h0m3 0h0m3 0h0m3 0h1m-8 1h0m4 0h1m2 0h2m-10 1h0m3 0h0m3 0h0m-2 1h0m3 0h0m-4 1h1m1 1h1m-10 2h0m9 0h0m-4 1h0m2 0h0m1 3h0m-6 1h0m4 2h0"/><path stroke="#f3e21c" d="M0 0m143 115h0m-1 2h0m-8 2h0m2 0h0m5 0h0m2 0h0m-6 1h0m5 0h0m0 2h0m0 14h0m-4 3h0m2 1h0m-1 1h0m2 0h0m1 2h0m-3 1h0m3 0h0m-6 1h0m7 0h0m-6 1h1m4 0h0m-4 1h0m2 0h0m1 2h0m-4 2h0m-3 1h0m2 0h0m2 0h0m0 1h1m-5 2h0m7 0h0m-7 11h0"/><path stroke="#f7941d" d="M0 0m142 119h0m-2 1h0m0 18h0m3 1h0m-6 3h0m-2 5h0m0 1h0m6 3h0m-7 5h0"/><path stroke="#e8401c" d="M0 0m140 141h0m2 4h0m-6 1h0m0 4h0"/></g></defs><g transform="translate(118.99 81.99) scale(1.78)" fill="none" stroke-linecap="round"><use href="#sc3" stroke-width="1.5" stroke-opacity="0.3"/><use href="#sc3" stroke-width="1"/></g><linearGradient id="sg3" gradientUnits="userSpaceOnUse" x1="136" y1="0" x2="404" y2="0"><stop offset="0" stop-color="#1c2f9c"/><stop offset="0.2" stop-color="#2277cc"/><stop offset="0.3" stop-color="#58b947"/><stop offset="0.36" stop-color="#f2d12c"/><stop offset="0.45" stop-color="#f59a23"/><stop offset="0.6" stop-color="#e8501f"/><stop offset="0.85" stop-color="#e8501f"/><stop offset="0.93" stop-color="#f2d12c"/><stop offset="0.97" stop-color="#58b947"/><stop offset="1" stop-color="#2277cc"/></linearGradient><rect x="136" y="524.9" width="268" height="2" fill="url(#sg3)" opacity="0.9"/>
<path d="M119 82.2H564.4V527.6" fill="none" stroke="#000" stroke-width="2.2"/>
<path d="M119 81.1V527.6H565.5" fill="none" stroke="#000" stroke-width="2"/>
<path d="M106 525.3H119M106 462.7H119M106 398.4H119M106 335.4H119M106 270.8H119M106 208.4H119M106 144H119M106 82.5H119M119.7 527.6V539M173.5 527.6V539M229 527.6V539M284.8 527.6V539M340.1 527.6V539M394.8 527.6V539M450.5 527.6V539M506 527.6V539M562.2 527.6V539" stroke="#000" stroke-width="3.7" fill="none"/>
<path d="M112.6 506.46H119M112.6 495.43H119M112.6 487.61H119M112.6 476.59H119M112.6 472.4H119M112.6 468.77H119M112.6 465.56H119M112.6 443.34H119M112.6 432.02H119M112.6 423.99H119M112.6 412.66H119M112.6 408.36H119M112.6 404.63H119M112.6 401.34H119M112.6 379.44H119M112.6 368.34H119M112.6 360.47H119M112.6 349.38H119M112.6 345.16H119M112.6 341.51H119M112.6 338.28H119M112.6 315.95H119M112.6 304.58H119M112.6 296.51H119M112.6 285.13H119M112.6 280.81H119M112.6 277.06H119M112.6 273.76H119M112.6 252.02H119M112.6 241.03H119M112.6 233.23H119M112.6 222.24H119M112.6 218.07H119M112.6 214.45H119M112.6 211.26H119M112.6 189.01H119M112.6 177.67H119M112.6 169.63H119M112.6 158.29H119M112.6 153.98H119M112.6 150.24H119M112.6 146.95H119M112.6 125.49H119M112.6 114.66H119M112.6 106.97H119M112.6 96.14H119M112.6 92.03H119M112.6 88.46H119M112.6 85.31H119M134.71 527.6V533.8M144.48 527.6V533.8M151.41 527.6V533.8M161.19 527.6V533.8M164.9 527.6V533.8M168.12 527.6V533.8M170.96 527.6V533.8M190.21 527.6V533.8M199.98 527.6V533.8M206.91 527.6V533.8M216.69 527.6V533.8M220.4 527.6V533.8M223.62 527.6V533.8M226.46 527.6V533.8M245.8 527.6V533.8M255.62 527.6V533.8M262.59 527.6V533.8M272.42 527.6V533.8M276.16 527.6V533.8M279.39 527.6V533.8M282.25 527.6V533.8M301.45 527.6V533.8M311.18 527.6V533.8M318.09 527.6V533.8M327.83 527.6V533.8M331.53 527.6V533.8M334.74 527.6V533.8M337.57 527.6V533.8M356.57 527.6V533.8M366.2 527.6V533.8M373.03 527.6V533.8M382.66 527.6V533.8M386.33 527.6V533.8M389.5 527.6V533.8M392.3 527.6V533.8M411.57 527.6V533.8M421.38 527.6V533.8M428.33 527.6V533.8M438.14 527.6V533.8M441.87 527.6V533.8M445.1 527.6V533.8M447.95 527.6V533.8M467.21 527.6V533.8M476.98 527.6V533.8M483.91 527.6V533.8M493.69 527.6V533.8M497.4 527.6V533.8M500.62 527.6V533.8M503.46 527.6V533.8M522.92 527.6V533.8M532.81 527.6V533.8M539.84 527.6V533.8M549.73 527.6V533.8M553.49 527.6V533.8M556.75 527.6V533.8M559.63 527.6V533.8M109.3 481.54H119M109.3 417.76H119M109.3 354.36H119M109.3 290.25H119M109.3 227.18H119M109.3 163.39H119M109.3 101.01H119M156.79 527.6V535.6M212.29 527.6V535.6M268 527.6V535.6M323.45 527.6V535.6M378.33 527.6V535.6M433.73 527.6V535.6M489.29 527.6V535.6M545.28 527.6V535.6" stroke="#000" stroke-width="1.8" fill="none"/>
<path d="M337.3 82.2V527.6M119 305.8H564.4" stroke="#000" stroke-width="3.4" fill="none"/>
<g font-family='"Liberation Sans", Arial, Helvetica, sans-serif' fill="#000" stroke="#000" stroke-width="0.4" stroke-linejoin="round">
<text x="74" y="525.2" font-size="16.4" textLength="15" lengthAdjust="spacingAndGlyphs" stroke-width="0.75">10</text>
<text x="89.2" y="514.2" font-size="17.4" textLength="8.6" lengthAdjust="spacingAndGlyphs" stroke-width="0.7">0</text>
<text x="74" y="473.3" font-size="16.4" textLength="15" lengthAdjust="spacingAndGlyphs" stroke-width="0.75">10</text>
<text x="89.2" y="462.3" font-size="17.4" textLength="8.6" lengthAdjust="spacingAndGlyphs" stroke-width="0.7">1</text>
<text x="74" y="409" font-size="16.4" textLength="15" lengthAdjust="spacingAndGlyphs" stroke-width="0.75">10</text>
<text x="89.2" y="398" font-size="17.4" textLength="8.6" lengthAdjust="spacingAndGlyphs" stroke-width="0.7">2</text>
<text x="74" y="346" font-size="16.4" textLength="15" lengthAdjust="spacingAndGlyphs" stroke-width="0.75">10</text>
<text x="89.2" y="335" font-size="17.4" textLength="8.6" lengthAdjust="spacingAndGlyphs" stroke-width="0.7">3</text>
<text x="74" y="281.4" font-size="16.4" textLength="15" lengthAdjust="spacingAndGlyphs" stroke-width="0.75">10</text>
<text x="89.2" y="270.4" font-size="17.4" textLength="8.6" lengthAdjust="spacingAndGlyphs" stroke-width="0.7">4</text>
<text x="74" y="219" font-size="16.4" textLength="15" lengthAdjust="spacingAndGlyphs" stroke-width="0.75">10</text>
<text x="89.2" y="208" font-size="17.4" textLength="8.6" lengthAdjust="spacingAndGlyphs" stroke-width="0.7">5</text>
<text x="74" y="154.6" font-size="16.4" textLength="15" lengthAdjust="spacingAndGlyphs" stroke-width="0.75">10</text>
<text x="89.2" y="143.6" font-size="17.4" textLength="8.6" lengthAdjust="spacingAndGlyphs" stroke-width="0.7">6</text>
<text x="74" y="107.6" font-size="16.4" textLength="15" lengthAdjust="spacingAndGlyphs" stroke-width="0.75">10</text>
<text x="89.2" y="96.6" font-size="17.4" textLength="8.6" lengthAdjust="spacingAndGlyphs" stroke-width="0.7">7</text>
<text x="127.6" y="565.3" font-size="16.4" textLength="15" lengthAdjust="spacingAndGlyphs" stroke-width="0.75">10</text>
<text x="142.8" y="554.8" font-size="17.4" textLength="8.6" lengthAdjust="spacingAndGlyphs" stroke-width="0.7">0</text>
<text x="230.4" y="565.3" font-size="16.4" textLength="15" lengthAdjust="spacingAndGlyphs" stroke-width="0.75">10</text>
<text x="245.6" y="554.8" font-size="17.4" textLength="8.6" lengthAdjust="spacingAndGlyphs" stroke-width="0.7">2</text>
<text x="341.5" y="565.3" font-size="16.4" textLength="15" lengthAdjust="spacingAndGlyphs" stroke-width="0.75">10</text>
<text x="356.7" y="554.8" font-size="17.4" textLength="8.6" lengthAdjust="spacingAndGlyphs" stroke-width="0.7">4</text>
<text x="451.9" y="565.3" font-size="16.4" textLength="15" lengthAdjust="spacingAndGlyphs" stroke-width="0.75">10</text>
<text x="467.1" y="554.8" font-size="17.4" textLength="8.6" lengthAdjust="spacingAndGlyphs" stroke-width="0.7">6</text>
<text x="539.2" y="565.3" font-size="16.4" textLength="15" lengthAdjust="spacingAndGlyphs" stroke-width="0.75">10</text>
<text x="554.4" y="554.8" font-size="17.4" textLength="8.6" lengthAdjust="spacingAndGlyphs" stroke-width="0.7">8</text>
<text x="125.6" y="118" font-size="19.5" text-anchor="start" textLength="24.19" lengthAdjust="spacingAndGlyphs">Q1</text>
<text x="125.6" y="146" font-size="19.5" text-anchor="start" textLength="35.29" lengthAdjust="spacingAndGlyphs">1.20</text>
<text x="527.4" y="118" font-size="19.5" text-anchor="end" textLength="24.19" lengthAdjust="spacingAndGlyphs">Q2</text>
<text x="527.4" y="146" font-size="19.5" text-anchor="end" textLength="35.29" lengthAdjust="spacingAndGlyphs">15.8</text>
<text x="125.6" y="476.8" font-size="19.5" text-anchor="start" textLength="24.19" lengthAdjust="spacingAndGlyphs">Q4</text>
<text x="125.6" y="504.8" font-size="19.5" text-anchor="start" textLength="35.29" lengthAdjust="spacingAndGlyphs">31.7</text>
<text x="527.4" y="476.8" font-size="19.5" text-anchor="end" textLength="24.19" lengthAdjust="spacingAndGlyphs">Q3</text>
<text x="527.4" y="504.8" font-size="19.5" text-anchor="end" textLength="35.29" lengthAdjust="spacingAndGlyphs">51.4</text>
<text x="340" y="615.8" font-size="18.4" text-anchor="middle" textLength="118" lengthAdjust="spacingAndGlyphs">488Grn(Area)</text>
<text transform="translate(25.2 304) rotate(-90)" font-size="18.4" text-anchor="middle" textLength="118" lengthAdjust="spacingAndGlyphs">488Org(Area)</text>
</g>
</g>
<text transform="translate(-2.4 1229) scale(1.09 1)" font-family='"Noto Sans CJK SC", "Liberation Sans", sans-serif' font-weight="300" font-size="48" fill="#231815" stroke="#231815" stroke-width="0.9">20</text>
<g transform="translate(611.6 605.8)">
<defs><g id="sc4"><path stroke="#1c349c" d="M0 0m140 106h0m8 0h0m-6 1h0m6 0h1m2 0h0m-15 1h0m2 0h1m4 0h3m4 0h0m4 0h0m-22 1h0m4 0h0m2 0h0m8 0h0m11 0h0m-12 1h0m7 0h0m5 0h0m-25 1h1m6 0h0m3 0h0m2 0h1m6 0h1m3 0h0m-17 1h0m9 0h0m-23 1h0m4 0h2m2 0h1m3 0h0m4 0h0m8 0h0m4 0h0m2 0h2m-35 1h0m2 0h0m5 0h0m6 0h1m3 0h0m3 0h0m2 0h0m3 0h0m8 0h3m-46 1h0m5 0h0m7 0h0m4 0h0m11 0h0m4 0h0m2 0h0m-23 1h0m4 0h0m3 0h0m2 0h0m7 0h0m7 0h0m3 0h0m5 0h1m-34 1h1m5 0h0m5 0h0m11 0h0m3 0h0m2 0h0m5 0h0m5 0h0m-38 1h0m9 0h0m3 0h1m4 0h2m10 0h1m2 0h0m-38 1h0m13 0h0m2 0h0m3 0h0m9 0h0m10 0h0m3 0h1m-30 1h0m7 0h0m3 0h2m2 0h0m6 0h0m4 0h0m-57 1h0m30 0h0m3 0h0m8 0h0m5 0h1m6 0h2m5 0h1m5 0h0m-32 1h0m8 0h0m2 0h1m6 0h0m2 0h0m2 0h0m10 0h0m6 0h0m-84 1h0m3 0h0m40 0h2m4 0h0m6 0h0m7 0h0m4 0h0m12 0h0m3 0h0m-44 1h0m4 0h0m4 0h0m5 0h0m3 0h0m2 0h1m4 0h0m6 0h0m6 0h0m2 0h0m5 0h0m-40 1h0m4 0h0m7 0h0m3 0h0m7 0h1m8 0h0m4 0h0m2 0h3m-34 1h1m3 0h0m2 0h2m4 0h0m10 0h1m7 0h0m3 0h1m4 0h0m-70 1h0m25 0h0m4 0h0m11 0h0m12 0h0m6 0h0m6 0h0m-54 1h0m21 0h0m4 0h0m2 0h1m4 0h1m6 0h0m10 0h1m4 0h1m-39 1h0m6 0h0m5 0h1m2 0h0m5 0h0m4 0h0m8 0h0m2 0h0m7 0h0m-77 1h0m31 0h0m2 0h0m4 0h2m4 0h0m4 0h0m4 0h0m2 0h0m2 0h0m2 0h0m2 0h0m6 0h2m-83 1h0m11 0h0m41 0h0m36 0h1m2 0h3m-83 1h0m10 0h0m13 0h0m7 0h0m18 0h0m2 0h1m5 0h1m6 0h0m7 0h0m5 0h0m3 0h0m2 0h0m-52 1h0m12 0h0m9 0h1m2 0h0m9 0h0m2 0h0m6 0h0m6 0h1m-42 1h0m5 0h0m8 0h0m7 0h0m2 0h2m5 0h0m5 0h1m4 0h0m3 0h1m-52 1h0m5 0h0m6 0h0m13 0h0m9 0h0m5 0h3m4 0h0m5 0h0m6 0h0m-81 1h0m18 0h0m27 0h0m2 0h1m7 0h0m2 0h0m9 0h0m6 0h0m3 0h0m4 0h0m-74 1h0m7 0h0m20 0h0m10 0h0m2 0h3m3 0h0m13 0h1m6 0h0m3 0h0m7 0h0m-69 1h0m26 0h0m5 0h0m14 0h0m5 0h1m7 0h0m3 0h0m2 0h0m5 0h0m-68 1h0m7 0h0m23 0h1m13 0h2m3 0h0m2 0h0m2 0h0m10 0h0m-39 1h0m4 0h1m2 0h0m2 0h0m2 0h0m6 0h0m5 0h0m18 0h0m-83 1h0m10 0h0m4 0h0m10 0h1m21 0h1m7 0h0m2 0h0m3 0h0m3 0h0m11 0h0m3 0h0m3 0h0m6 0h0m-76 1h0m8 0h0m28 0h0m3 0h0m4 0h2m2 0h0m10 0h0m6 0h0m6 0h0m9 0h0m-96 1h0m15 0h0m7 0h0m4 0h0m4 0h0m16 0h0m15 0h0m5 0h0m2 0h1m3 0h0m3 0h0m2 0h0m4 0h0m-62 1h0m7 0h0m12 0h0m4 0h0m10 0h1m2 0h0m4 0h0m19 0h0m14 0h0m3 0h3m-68 1h0m3 0h0m12 0h0m13 0h0m4 0h0m4 0h1m3 0h0m2 0h0m4 0h0m2 0h0m4 0h2m3 0h0m-100 1h0m41 0h0m7 0h0m4 0h0m19 0h0m2 0h0m2 0h0m4 0h4m3 0h0m4 0h0m10 0h0m4 0h0m3 0h1m-74 1h0m7 0h0m17 0h0m14 0h0m8 0h0m15 0h0m5 0h1m6 0h1m-82 1h0m6 0h0m13 0h1m4 0h0m3 0h0m11 0h0m2 0h0m6 0h0m5 0h0m7 0h0m3 0h0m2 0h1m4 0h0m2 0h0m4 0h0m11 0h0m-113 1h0m6 0h0m25 0h0m10 0h0m13 0h0m6 0h0m2 0h0m7 0h0m3 0h0m10 0h0m4 0h0m16 0h1m-95 1h0m22 0h0m17 0h0m6 0h0m5 0h0m4 0h0m8 0h0m5 0h0m9 0h0m3 0h0m4 0h0m10 0h1m8 0h0m-83 1h0m3 0h0m14 0h0m11 0h0m3 0h0m11 0h0m2 0h3m8 0h0m6 0h0m8 0h2m13 0h0m-98 1h0m36 0h0m2 0h0m5 0h0m6 0h0m2 0h0m7 0h0m2 0h3m2 0h0m3 0h2m6 0h0m3 0h0m4 0h1m10 0h1m-74 1h0m4 0h0m8 0h0m2 0h0m3 0h0m4 0h1m3 0h0m8 0h0m9 0h2m10 0h1m3 0h0m6 0h0m11 0h0m-63 1h0m3 0h0m6 0h1m12 0h0m13 0h0m4 0h0m7 0h0m2 0h0m2 0h0m9 0h0m2 0h1m2 0h0m-87 1h0m8 0h0m5 0h0m9 0h0m5 0h0m4 0h0m12 0h0m3 0h0m2 0h1m3 0h1m4 0h0m6 0h0m2 0h0m3 0h0m11 0h0m3 0h0m-87 1h0m8 0h0m20 0h0m4 0h0m2 0h0m18 0h0m6 0h0m5 0h2m3 0h0m3 0h0m7 0h0m4 0h2m6 0h0m3 0h0m-88 1h0m2 0h0m6 0h0m18 0h0m11 0h0m15 0h0m9 0h1m2 0h1m6 0h1m8 0h0m3 0h0m-112 1h0m33 0h0m7 0h0m5 0h1m7 0h0m2 0h1m4 0h0m2 0h0m3 0h1m4 0h1m5 0h0m2 0h0m3 0h0m6 0h0m2 0h0m6 0h3m4 0h0m7 0h0m2 0h1m-85 1h1m2 0h0m7 0h0m8 0h0m8 0h0m5 0h0m7 0h0m7 0h2m3 0h0m2 0h1m2 0h2m5 0h0m3 0h0m3 0h0m11 0h1m2 0h0m3 0h0m2 0h0m-71 1h0m18 0h1m2 0h0m9 0h0m8 0h0m3 0h2m3 0h0m4 0h0m7 0h0m3 0h1m5 0h0m3 0h0m-52 1h0m12 0h4m2 0h0m8 0h0m15 0h0m11 0h0m2 0h1m-84 1h0m5 0h2m7 0h0m4 0h0m5 0h1m10 0h0m3 0h0m3 0h0m4 0h0m2 0h1m4 0h0m2 0h0m3 0h0m2 0h0m9 0h0m6 0h0m5 0h0m-77 1h0m2 0h0m8 0h0m5 0h0m6 0h2m5 0h0m4 0h0m6 0h0m5 0h0m4 0h0m3 0h0m5 0h0m3 0h0m3 0h0m7 0h0m2 0h0m-77 1h0m6 0h0m2 0h0m4 0h0m2 0h1m17 0h0m2 0h0m4 0h0m2 0h0m8 0h0m3 0h1m3 0h0m4 0h0m3 0h0m5 0h0m9 0h0m4 0h0m3 0h1m2 0h0m2 0h0m-75 1h0m40 0h1m6 0h0m2 0h0m2 0h0m3 0h0m8 0h0m6 0h0m3 0h0m2 0h0m2 0h1m-77 1h0m5 0h0m4 0h0m5 0h0m9 0h1m4 0h0m14 0h0m2 0h0m2 0h2m4 0h0m5 0h1m5 0h0m6 0h1m5 0h1m-89 1h0m14 0h0m10 0h0m4 0h0m10 0h0m13 0h0m7 0h0m4 0h0m5 0h0m2 0h1m2 0h0m5 0h0m2 0h2m6 0h0m-49 1h0m5 0h0m2 0h0m2 0h0m13 0h0m9 0h1m4 0h0m2 0h0m3 0h1m4 0h0m2 0h0m-70 1h0m4 0h0m3 0h0m6 0h0m10 0h0m8 0h0m4 0h0m7 0h0m8 0h0m2 0h0m8 0h1m5 0h0m6 0h0m-119 1h0m41 0h0m5 0h0m6 0h0m2 0h0m5 0h0m2 0h0m7 0h0m3 0h0m2 0h1m13 0h2m3 0h0m12 0h0m9 0h2m-80 1h0m10 0h0m17 0h0m3 0h0m6 0h0m9 0h0m4 0h3m2 0h0m5 0h0m2 0h0m2 0h0m3 0h0m4 0h0m2 0h0m3 0h0m4 0h0m7 0h0m-96 1h0m26 0h0m11 0h0m4 0h1m2 0h0m12 0h1m3 0h0m5 0h0m4 0h0m2 0h0m4 0h0m6 0h0m3 0h0m2 0h0m4 0h0m-61 1h0m15 0h0m9 0h0m4 0h1m3 0h0m3 0h0m2 0h0m2 0h0m12 0h0m6 0h0m3 0h3m-106 1h0m24 0h0m5 0h0m10 0h0m7 0h0m18 0h0m4 0h0m5 0h0m2 0h0m6 0h0m2 0h1m2 0h0m4 0h0m3 0h0m4 0h0m2 0h0m2 0h0m5 0h0m2 0h0m-99 1h0m36 0h0m8 0h0m11 0h2m12 0h0m2 0h0m2 0h0m3 0h0m10 0h0m4 0h0m2 0h1m-104 1h0m42 0h0m9 0h3m18 0h0m4 0h0m6 0h1m6 0h0m9 0h0m6 0h0m3 0h0m-80 1h0m9 0h0m2 0h0m13 0h0m10 0h0m9 0h0m14 0h0m3 0h1m4 0h0m8 0h0m3 0h0m5 0h0m2 0h0m2 0h0m-58 1h1m8 0h0m9 0h0m3 0h0m7 0h0m2 0h0m3 0h0m9 0h2m3 0h0m2 0h1m2 0h2m-81 1h0m5 0h0m9 0h0m9 0h1m8 0h2m2 0h0m2 0h0m9 0h0m6 0h1m2 0h0m4 0h1m3 0h0m3 0h0m2 0h1m14 0h0m-98 1h0m10 0h0m7 0h0m6 0h0m11 0h0m2 0h0m19 0h0m5 0h2m2 0h0m8 0h0m2 0h0m4 0h0m9 0h0m2 0h0m4 0h0m-78 1h0m18 0h0m10 0h0m10 0h1m8 0h0m5 0h1m5 0h0m8 0h0m9 0h1m4 0h0m-97 1h0m17 0h0m9 0h0m10 0h0m9 0h0m23 0h0m7 0h0m5 0h0m6 0h0m2 0h1m3 0h0m-74 1h0m8 0h0m7 0h1m11 0h0m4 0h0m8 0h0m3 0h0m5 0h2m4 0h0m7 0h0m3 0h0m3 0h1m5 0h0m-60 1h0m17 0h0m5 0h0m9 0h0m3 0h0m10 0h2m13 0h0m4 0h0m4 0h1m-38 1h1m11 0h0m2 0h0m9 0h0m8 0h1m2 0h1m2 0h0m-79 1h0m13 0h0m21 0h0m8 0h0m14 0h0m7 0h0m2 0h2m4 0h0m4 0h1m2 0h0m-79 1h0m6 0h0m8 0h0m27 0h0m11 0h0m3 0h0m8 0h0m3 0h0m6 0h0m3 0h0m-111 1h0m42 0h0m10 0h0m5 0h0m20 0h0m6 0h0m7 0h2m2 0h0m3 0h0m10 0h0m3 0h2m2 0h0m-74 1h0m16 0h0m11 0h1m6 0h0m11 0h0m7 0h0m8 0h0m2 0h0m2 0h0m10 0h0m-67 1h0m8 0h0m30 0h1m5 0h0m4 0h0m2 0h0m5 0h0m2 0h0m2 0h0m4 0h0m3 0h0m-56 1h0m11 0h0m26 0h0m5 0h0m4 0h1m4 0h0m-13 1h0m4 0h0m9 0h0m3 0h1m2 0h0m3 0h0m-85 1h0m19 0h0m20 0h0m20 0h0m10 0h0m3 0h2m-40 1h0m10 0h0m14 0h0m5 0h1m5 0h0m8 0h1m3 0h0m-29 1h0m3 0h0m5 0h0m10 0h1m4 0h0m3 0h0m2 0h0m-106 1h0m17 0h0m33 0h0m7 0h0m10 0h0m2 0h1m17 0h0m5 0h0m12 0h1m-65 1h0m8 0h0m45 0h3m2 0h0m-32 1h0m33 0h0m6 0h0m2 0h1m-17 1h1m7 0h0m3 0h0m-52 1h0m-3 1h0m4 0h0m24 0h0m18 0h0m6 0h0m3 0h0m3 0h0m-34 1h0m15 0h0m7 0h1m5 0h0m-28 1h0m21 0h1m10 0h0m-49 1h0m26 0h0m6 0h0m11 0h0m-83 1h0m36 0h0m7 0h0m23 0h0m5 0h0m7 0h0m6 0h0m5 0h2m-67 1h0m49 0h0m13 0h0m5 0h0m-17 1h0m9 0h0m2 0h0m7 0h0m-7 1h0m-27 2h0m20 0h0m10 0h0m4 0h0m-17 1h0m9 0h0m4 0h0m2 0h0m5 0h0m-53 1h0m13 0h0m21 0h0m16 0h0m-72 2h0m56 0h0m2 0h0m7 0h0m4 0h0m5 0h0m-30 1h0m10 0h0m11 0h0m3 0h2m3 0h0m-12 2h0m2 0h0m5 0h0m4 2h0m-12 3h0m2 0h0m2 0h0m4 0h0m3 0h0m-9 2h0m6 0h0m3 0h0m-9 4h0m-3 11h0m7 0h0m3 0h0"/><path stroke="#1d4fae" d="M0 0m144 107h0m8 1h0m-23 2h0m6 0h0m7 0h0m13 0h0m-19 1h0m20 0h0m-24 1h0m7 0h1m3 0h0m9 0h0m-32 1h0m11 0h0m4 0h0m8 0h0m8 0h0m2 0h0m-21 1h0m-7 1h0m8 0h0m-7 1h0m10 0h0m5 0h0m5 0h0m3 0h0m-31 1h0m5 0h1m5 0h0m19 0h0m-26 1h0m6 0h0m4 0h0m7 0h0m7 1h0m8 0h0m3 0h0m-19 1h0m11 0h0m3 0h0m-30 1h0m30 0h0m-31 1h0m8 0h0m4 0h0m23 0h0m-33 1h0m-23 1h0m23 0h0m16 0h0m4 1h0m-24 1h0m7 0h0m5 0h1m2 0h0m11 0h0m2 0h0m-27 1h0m14 0h0m20 0h0m-32 1h0m11 0h0m-5 2h0m6 0h0m2 0h0m18 0h0m-53 1h0m24 0h0m9 0h0m13 0h0m-15 1h0m3 0h0m11 0h0m3 0h0m7 0h0m-28 1h1m10 0h1m-15 1h0m3 0h0m6 0h1m5 0h0m-21 1h0m-5 1h0m11 0h0m6 0h0m2 0h0m13 0h0m7 0h0m3 0h0m-28 1h0m3 0h0m2 0h0m5 0h1m6 0h0m10 0h0m-11 1h0m5 0h0m4 0h0m-36 1h0m9 0h1m24 0h0m-33 1h0m5 0h0m9 0h0m2 0h0m3 0h0m17 0h1m-104 1h0m65 0h0m15 0h0m3 0h0m21 0h0m-48 2h0m4 0h0m2 0h0m23 0h0m5 0h0m-34 1h0m13 0h0m5 0h0m8 0h0m10 0h0m6 0h0m-73 1h0m34 0h0m27 0h0m12 0h0m3 0h0m-37 1h0m19 0h0m8 0h0m-52 1h0m23 0h0m11 0h0m6 0h0m7 0h0m11 0h1m-52 1h0m21 0h0m5 0h0m6 0h0m9 0h0m9 0h0m-27 1h1m3 0h0m12 0h0m4 0h0m6 0h0m2 0h0m-91 1h0m3 0h0m61 0h0m25 0h0m-21 1h0m-39 1h0m40 0h0m16 0h0m3 0h0m-25 1h0m21 0h0m-22 1h0m6 0h0m3 0h0m2 0h1m14 0h0m2 0h0m-23 1h1m-13 1h0m27 0h0m7 0h0m-26 1h0m2 0h0m2 0h0m9 0h0m7 0h0m8 0h0m2 0h0m-63 1h0m31 0h0m10 0h0m13 0h0m-30 1h0m9 0h0m11 0h0m3 0h0m3 0h0m-24 1h1m4 0h0m9 0h0m15 0h1m8 0h0m-35 1h0m6 0h1m2 0h0m2 0h0m12 0h0m7 0h0m2 0h0m-66 1h0m33 0h0m3 0h0m7 0h0m18 0h0m2 0h0m2 0h0m-40 1h0m17 0h0m2 0h0m5 0h0m7 0h0m2 0h0m3 0h0m-34 1h0m4 0h0m3 0h0m5 0h0m3 0h1m7 0h3m2 0h1m7 0h0m-87 1h0m35 0h0m24 0h0m8 0h0m5 0h0m10 0h0m3 0h0m4 0h0m-30 1h0m6 0h0m2 0h0m6 0h0m7 0h0m11 0h0m-70 1h0m39 0h2m28 0h0m-70 1h0m22 0h0m3 0h0m12 0h0m2 0h0m9 0h0m4 0h0m4 0h0m-19 1h0m3 0h1m7 0h0m3 0h0m10 0h0m6 0h0m-66 1h0m35 0h0m5 0h0m3 0h0m11 0h0m3 0h0m4 0h0m5 0h0m-8 1h0m-5 1h0m-38 1h0m14 0h0m8 0h0m13 0h0m6 0h1m10 0h0m-49 1h0m18 0h0m11 0h0m11 0h0m-54 1h0m39 0h0m-10 1h0m18 0h0m0 1h0m2 0h1m3 0h0m2 0h1m-60 1h0m20 0h0m8 0h0m15 0h1m4 0h0m4 0h0m8 0h0m-40 1h0m22 0h0m9 0h0m9 0h0m5 0h0m-24 1h0m5 0h0m9 0h0m-19 1h0m-7 1h1m20 0h0m4 0h0m2 0h0m-4 1h0m6 0h0m5 0h0m-3 1h0m-42 1h0m30 1h0m-13 1h0m13 0h0m8 0h0m-7 1h0m9 0h0m9 0h0m-20 1h0m-56 1h0m64 0h0m6 0h1m-5 1h0m-2 1h1m3 0h0m-65 1h0m63 0h0m-85 1h0m73 1h0m-14 1h0m25 0h0m-24 2h0m21 0h0m3 2h0m5 0h0m-78 1h0m29 4h0m38 0h0m6 0h0m2 0h0m-54 2h0m51 3h1m0 2h0m-13 2h0m18 5h0m-2 3h0m-1 10h0m-27 7h0"/><path stroke="#2e8fd4" d="M0 0m141 108h0m-7 3h0m7 0h0m13 0h0m-19 1h0m2 0h0m20 1h0m-29 2h0m4 0h0m-5 1h0m26 1h0m-29 2h0m7 0h0m17 0h0m8 0h0m-31 1h0m29 0h1m-21 1h0m-11 1h0m2 0h0m28 0h0m-28 1h0m4 1h0m-15 1h0m20 0h0m-10 1h0m2 1h0m5 0h0m5 0h0m20 0h0m-27 1h0m26 0h0m-18 1h0m1 3h0m-1 1h0m-7 2h0m5 0h0m-10 2h0m29 0h0m-28 1h0m6 0h0m1 2h0m-18 2h0m15 2h0m-11 1h0m30 1h0m-30 1h0m31 1h0m-32 1h0m4 1h0m0 1h0m2 0h0m3 0h1m20 0h0m-1 1h0m-26 1h0m26 0h1m-27 1h0m1 1h0m6 0h0m13 0h0m-27 1h0m11 0h0m-34 1h0m22 0h0m4 0h0m17 0h0m11 0h1m-29 1h0m8 0h0m11 0h0m4 0h0m-24 1h0m19 0h0m-17 2h2m14 0h0m-25 1h0m14 0h0m8 0h0m11 0h0m-30 1h0m33 0h0m-15 1h0m1 1h0m5 0h0m2 0h0m7 0h0m-2 1h0m-11 1h0m3 0h0m6 1h0m-21 1h0m3 0h0m7 0h0m10 0h0m-17 1h0m14 0h0m7 0h0m-5 1h0m-19 1h0m21 1h0m-51 1h0m28 1h0m-16 1h0m34 0h0m0 3h0m-13 1h0m-13 1h0m28 1h0m-3 4h0m-1 2h0m8 5h0m-3 10h0"/><path stroke="#49b9c0" d="M0 0m141 110h0m-4 1h1m2 0h0m6 0h0m3 0h0m-7 1h0m9 0h0m3 0h0m-23 2h0m14 0h0m5 0h0m-20 1h0m9 0h0m10 0h0m2 0h0m-16 2h0m2 0h0m15 0h0m2 0h0m-14 1h0m9 0h0m-20 1h0m-3 2h0m6 0h0m-5 1h0m4 0h0m17 0h0m-24 1h0m3 0h0m4 0h0m21 0h0m2 0h0m-29 1h0m6 0h0m4 0h0m-6 1h0m15 0h0m-14 1h0m-5 1h0m5 0h0m5 0h0m10 0h0m10 0h0m-12 1h0m-8 1h0m18 0h0m-15 1h0m2 0h0m11 0h0m-19 1h0m22 1h1m-22 2h0m0 1h0m19 0h0m-23 1h0m3 0h0m20 3h0m-1 1h0m-19 1h1m19 0h0m-32 1h0m10 0h0m6 0h0m14 1h0m-19 1h0m19 0h0m-30 1h0m9 0h0m2 0h0m2 0h0m15 1h0m-23 1h0m22 0h0m-22 1h0m0 1h0m3 0h0m21 0h0m-13 2h0m-15 1h0m10 0h0m3 0h0m-19 2h0m12 0h0m2 0h0m-9 2h0m15 0h0m-12 1h0m4 0h0m5 0h0m5 0h0m-3 1h0m4 1h0m2 0h0m-9 1h0m5 0h0m-10 1h0m3 0h0m6 1h0m3 0h0m-9 1h0m3 0h0m-4 3h0m-27 2h0m30 1h0m11 0h0m-15 2h0m-6 3h0"/><path stroke="#5dbb46" d="M0 0m143 111h0m-7 1h0m5 0h0m3 0h1m3 0h0m-14 1h0m3 0h1m3 0h1m2 0h1m4 0h0m-12 1h0m2 0h0m3 0h0m6 0h0m4 0h1m-19 1h0m7 0h0m5 0h1m3 0h0m2 0h0m-21 1h4m7 0h1m7 0h1m3 0h0m-28 1h0m2 0h0m4 0h0m2 0h0m2 0h0m2 0h0m7 0h0m2 0h0m2 0h1m-25 1h0m9 0h0m9 0h1m2 0h0m5 0h1m-19 1h0m7 0h0m5 0h0m2 0h0m-21 1h0m2 0h0m4 0h0m13 0h1m2 0h0m5 0h0m-26 1h2m4 0h0m6 0h0m9 0h1m4 0h0m-27 1h0m4 0h0m6 0h0m3 0h1m9 0h0m3 0h0m2 0h0m-26 1h2m5 0h0m2 0h0m8 0h4m4 0h0m-25 1h0m10 0h0m6 0h1m3 0h0m2 0h0m2 0h1m2 0h0m-29 1h0m7 0h0m2 0h0m5 0h1m7 0h0m3 0h0m-16 1h2m2 0h1m6 0h0m6 0h0m-25 1h0m10 0h1m2 0h0m3 0h0m7 0h2m-17 1h2m3 0h2m3 0h1m5 0h1m-12 1h1m2 0h1m6 0h0m-11 1h0m3 0h0m6 0h0m2 0h0m2 0h0m-17 1h0m5 0h0m8 0h1m3 0h0m-8 1h1m7 0h0m-20 1h0m3 0h0m15 0h0m2 0h2m-17 1h0m2 0h0m8 0h0m6 0h0m-3 1h1m2 0h0m-19 2h0m16 0h1m-15 1h0m-2 1h0m5 0h0m-4 1h1m-1 1h0m16 0h0m-18 1h0m2 0h0m10 0h0m3 0h0m2 0h1m2 0h0m-33 1h0m9 0h1m4 0h0m15 0h0m2 0h1m-25 2h0m8 0h0m11 0h0m-16 1h0m2 0h0m9 0h0m5 0h0m6 0h0m-26 1h0m3 0h0m2 0h0m2 0h0m-2 1h0m17 0h1m-23 1h0m5 0h0m14 0h0m-16 1h0m2 0h0m16 0h1m-29 1h0m11 0h0m3 0h0m2 0h0m10 0h0m-17 1h0m4 0h0m3 0h0m11 0h0m-22 1h0m8 0h0m4 0h0m7 0h0m3 0h0m-14 1h0m6 0h0m4 0h0m-12 1h1m2 0h1m3 0h1m4 0h0m2 0h0m3 0h0m-21 1h0m6 0h2m2 0h0m2 0h0m6 0h1m-7 1h0m-9 1h0m6 0h0m-6 1h0m3 0h1m3 0h0m7 0h0m-18 1h0m4 0h1m2 0h1m7 0h1m-10 1h0m4 0h0m3 0h0m2 0h0m-14 1h0m4 0h0m2 0h0m2 0h0m2 0h0m4 0h0m-7 1h1m-8 1h0m5 0h0m-3 1h0m6 0h0m3 0h0m2 0h0m4 2h0m-22 3h0m24 5h0"/><path stroke="#8cc63f" d="M0 0m140 114h0m4 0h0m-8 1h0m7 0h0m-5 1h1m6 0h0m-12 1h0m6 0h1m3 0h0m-10 1h0m5 0h0m4 0h0m3 0h0m-13 1h0m9 0h0m9 0h0m-19 1h0m9 0h0m4 0h0m6 0h0m-15 1h0m5 0h0m2 0h0m4 0h1m-19 1h0m9 0h0m5 0h0m9 0h0m-18 1h1m2 0h0m2 0h0m2 0h0m2 0h0m-1 1h1m4 0h1m7 0h0m-15 1h0m3 0h0m5 0h0m-5 1h0m7 0h1m-11 1h0m3 0h0m2 0h0m4 0h1m-10 1h0m8 0h0m3 0h0m-5 1h0m6 0h1m-5 1h0m-6 1h2m2 0h0m-5 1h1m6 0h0m3 0h0m-9 1h0m3 0h0m-1 1h2m3 0h0m3 0h0m-11 1h0m5 0h0m-7 1h0m5 0h0m7 0h1m-4 1h0m-7 1h0m11 0h0m-13 1h0m7 0h0m3 0h0m2 0h0m-12 1h1m10 0h1m-14 1h0m10 0h2m-14 1h0m4 0h0m8 0h0m-11 1h0m7 0h0m4 0h0m0 1h0m-5 1h0m3 0h0m4 0h0m2 0h0m-19 1h0m4 0h0m3 0h2m4 0h0m-10 1h0m11 0h1m-12 1h1m10 0h1m-14 1h1m2 0h0m2 0h1m3 0h0m6 0h0m-17 1h0m3 0h3m-2 1h0m6 0h0m2 0h0m4 0h0m-10 1h0m3 0h2m3 0h0m-9 1h0m2 0h1m4 0h0m2 0h0m-5 1h2m3 0h0m-9 1h1m3 0h1m3 3h0m-9 2h0"/><path stroke="#f3e21c" d="M0 0m145 115h0m3 1h0m-6 1h0m-1 1h0m-7 1h0m3 0h1m4 0h2m-5 1h0m3 0h0m-4 1h0m9 1h0m3 0h0m-6 1h0m-4 1h0m9 1h0m-3 2h0m1 2h0m2 0h0m-8 1h0m5 0h0m3 0h0m-3 1h0m-7 1h0m4 1h0m2 0h1m-5 2h1m5 0h0m2 0h0m-9 1h1m-1 1h0m4 0h0m-5 1h0m2 0h0m5 0h0m2 0h0m2 0h0m-9 1h0m2 0h0m3 0h0m3 0h0m-9 1h0m7 0h0m-10 1h0m2 0h1m5 0h0m4 0h0m-5 1h0m5 0h0m-6 1h0m2 0h0m3 0h0m-3 1h0m2 0h0m-11 1h0m9 0h0m2 0h0m-2 1h0m-10 1h1m3 0h0m-3 1h0m5 0h0m-7 1h0m4 1h0m3 1h0m2 0h0m-9 2h0"/><path stroke="#f7941d" d="M0 0m140 116h0m-5 3h1m0 1h0m5 0h0m0 1h0m-3 1h0m6 13h0m2 0h0m-2 1h0m3 0h0m2 0h0m-8 1h1m6 0h0m-11 1h1m2 1h0m2 1h0m2 0h2m-7 2h1m-2 1h1m8 0h0m-11 1h0m6 1h0m-6 1h0m4 1h0m2 0h0m-2 1h0m2 0h0m2 0h0m-5 1h0m3 0h0m-5 1h0m2 0h1m4 0h0m0 1h0m-1 1h0"/><path stroke="#e8401c" d="M0 0m142 136h0m1 2h0m-1 1h0m2 0h0m-3 1h0m2 0h0m-1 1h1m-2 1h1m5 0h0m-7 1h0m4 0h0m-7 1h5m2 0h0m-7 2h0m4 1h0"/></g></defs><g transform="translate(118.99 81.99) scale(1.78)" fill="none" stroke-linecap="round"><use href="#sc4" stroke-width="1.5" stroke-opacity="0.3"/><use href="#sc4" stroke-width="1"/></g><linearGradient id="sg4" gradientUnits="userSpaceOnUse" x1="209" y1="0" x2="383" y2="0"><stop offset="0" stop-color="#1c2f9c"/><stop offset="0.15" stop-color="#2277cc"/><stop offset="0.3" stop-color="#58b947"/><stop offset="0.45" stop-color="#f2d12c"/><stop offset="0.6" stop-color="#58b947"/><stop offset="0.72" stop-color="#f59a23"/><stop offset="0.75" stop-color="#e8501f"/><stop offset="0.97" stop-color="#e8501f"/><stop offset="1" stop-color="#f2d12c"/></linearGradient><rect x="209" y="524.9" width="174" height="2" fill="url(#sg4)" opacity="0.9"/>
<path d="M119 82.2H564.4V527.6" fill="none" stroke="#000" stroke-width="2.2"/>
<path d="M119 81.1V527.6H565.5" fill="none" stroke="#000" stroke-width="2"/>
<path d="M106 525.3H119M106 462.7H119M106 398.4H119M106 335.4H119M106 270.8H119M106 208.4H119M106 144H119M106 82.5H119M119.7 527.6V539M173.5 527.6V539M229 527.6V539M284.8 527.6V539M340.1 527.6V539M394.8 527.6V539M450.5 527.6V539M506 527.6V539M562.2 527.6V539" stroke="#000" stroke-width="3.7" fill="none"/>
<path d="M112.6 506.46H119M112.6 495.43H119M112.6 487.61H119M112.6 476.59H119M112.6 472.4H119M112.6 468.77H119M112.6 465.56H119M112.6 443.34H119M112.6 432.02H119M112.6 423.99H119M112.6 412.66H119M112.6 408.36H119M112.6 404.63H119M112.6 401.34H119M112.6 379.44H119M112.6 368.34H119M112.6 360.47H119M112.6 349.38H119M112.6 345.16H119M112.6 341.51H119M112.6 338.28H119M112.6 315.95H119M112.6 304.58H119M112.6 296.51H119M112.6 285.13H119M112.6 280.81H119M112.6 277.06H119M112.6 273.76H119M112.6 252.02H119M112.6 241.03H119M112.6 233.23H119M112.6 222.24H119M112.6 218.07H119M112.6 214.45H119M112.6 211.26H119M112.6 189.01H119M112.6 177.67H119M112.6 169.63H119M112.6 158.29H119M112.6 153.98H119M112.6 150.24H119M112.6 146.95H119M112.6 125.49H119M112.6 114.66H119M112.6 106.97H119M112.6 96.14H119M112.6 92.03H119M112.6 88.46H119M112.6 85.31H119M134.71 527.6V533.8M144.48 527.6V533.8M151.41 527.6V533.8M161.19 527.6V533.8M164.9 527.6V533.8M168.12 527.6V533.8M170.96 527.6V533.8M190.21 527.6V533.8M199.98 527.6V533.8M206.91 527.6V533.8M216.69 527.6V533.8M220.4 527.6V533.8M223.62 527.6V533.8M226.46 527.6V533.8M245.8 527.6V533.8M255.62 527.6V533.8M262.59 527.6V533.8M272.42 527.6V533.8M276.16 527.6V533.8M279.39 527.6V533.8M282.25 527.6V533.8M301.45 527.6V533.8M311.18 527.6V533.8M318.09 527.6V533.8M327.83 527.6V533.8M331.53 527.6V533.8M334.74 527.6V533.8M337.57 527.6V533.8M356.57 527.6V533.8M366.2 527.6V533.8M373.03 527.6V533.8M382.66 527.6V533.8M386.33 527.6V533.8M389.5 527.6V533.8M392.3 527.6V533.8M411.57 527.6V533.8M421.38 527.6V533.8M428.33 527.6V533.8M438.14 527.6V533.8M441.87 527.6V533.8M445.1 527.6V533.8M447.95 527.6V533.8M467.21 527.6V533.8M476.98 527.6V533.8M483.91 527.6V533.8M493.69 527.6V533.8M497.4 527.6V533.8M500.62 527.6V533.8M503.46 527.6V533.8M522.92 527.6V533.8M532.81 527.6V533.8M539.84 527.6V533.8M549.73 527.6V533.8M553.49 527.6V533.8M556.75 527.6V533.8M559.63 527.6V533.8M109.3 481.54H119M109.3 417.76H119M109.3 354.36H119M109.3 290.25H119M109.3 227.18H119M109.3 163.39H119M109.3 101.01H119M156.79 527.6V535.6M212.29 527.6V535.6M268 527.6V535.6M323.45 527.6V535.6M378.33 527.6V535.6M433.73 527.6V535.6M489.29 527.6V535.6M545.28 527.6V535.6" stroke="#000" stroke-width="1.8" fill="none"/>
<path d="M337.3 82.2V527.6M119 305.8H564.4" stroke="#000" stroke-width="3.4" fill="none"/>
<g font-family='"Liberation Sans", Arial, Helvetica, sans-serif' fill="#000" stroke="#000" stroke-width="0.4" stroke-linejoin="round">
<text x="74" y="525.2" font-size="16.4" textLength="15" lengthAdjust="spacingAndGlyphs" stroke-width="0.75">10</text>
<text x="89.2" y="514.2" font-size="17.4" textLength="8.6" lengthAdjust="spacingAndGlyphs" stroke-width="0.7">0</text>
<text x="74" y="473.3" font-size="16.4" textLength="15" lengthAdjust="spacingAndGlyphs" stroke-width="0.75">10</text>
<text x="89.2" y="462.3" font-size="17.4" textLength="8.6" lengthAdjust="spacingAndGlyphs" stroke-width="0.7">1</text>
<text x="74" y="409" font-size="16.4" textLength="15" lengthAdjust="spacingAndGlyphs" stroke-width="0.75">10</text>
<text x="89.2" y="398" font-size="17.4" textLength="8.6" lengthAdjust="spacingAndGlyphs" stroke-width="0.7">2</text>
<text x="74" y="346" font-size="16.4" textLength="15" lengthAdjust="spacingAndGlyphs" stroke-width="0.75">10</text>
<text x="89.2" y="335" font-size="17.4" textLength="8.6" lengthAdjust="spacingAndGlyphs" stroke-width="0.7">3</text>
<text x="74" y="281.4" font-size="16.4" textLength="15" lengthAdjust="spacingAndGlyphs" stroke-width="0.75">10</text>
<text x="89.2" y="270.4" font-size="17.4" textLength="8.6" lengthAdjust="spacingAndGlyphs" stroke-width="0.7">4</text>
<text x="74" y="219" font-size="16.4" textLength="15" lengthAdjust="spacingAndGlyphs" stroke-width="0.75">10</text>
<text x="89.2" y="208" font-size="17.4" textLength="8.6" lengthAdjust="spacingAndGlyphs" stroke-width="0.7">5</text>
<text x="74" y="154.6" font-size="16.4" textLength="15" lengthAdjust="spacingAndGlyphs" stroke-width="0.75">10</text>
<text x="89.2" y="143.6" font-size="17.4" textLength="8.6" lengthAdjust="spacingAndGlyphs" stroke-width="0.7">6</text>
<text x="74" y="107.6" font-size="16.4" textLength="15" lengthAdjust="spacingAndGlyphs" stroke-width="0.75">10</text>
<text x="89.2" y="96.6" font-size="17.4" textLength="8.6" lengthAdjust="spacingAndGlyphs" stroke-width="0.7">7</text>
<text x="127.6" y="565.3" font-size="16.4" textLength="15" lengthAdjust="spacingAndGlyphs" stroke-width="0.75">10</text>
<text x="142.8" y="554.8" font-size="17.4" textLength="8.6" lengthAdjust="spacingAndGlyphs" stroke-width="0.7">0</text>
<text x="230.4" y="565.3" font-size="16.4" textLength="15" lengthAdjust="spacingAndGlyphs" stroke-width="0.75">10</text>
<text x="245.6" y="554.8" font-size="17.4" textLength="8.6" lengthAdjust="spacingAndGlyphs" stroke-width="0.7">2</text>
<text x="341.5" y="565.3" font-size="16.4" textLength="15" lengthAdjust="spacingAndGlyphs" stroke-width="0.75">10</text>
<text x="356.7" y="554.8" font-size="17.4" textLength="8.6" lengthAdjust="spacingAndGlyphs" stroke-width="0.7">4</text>
<text x="451.9" y="565.3" font-size="16.4" textLength="15" lengthAdjust="spacingAndGlyphs" stroke-width="0.75">10</text>
<text x="467.1" y="554.8" font-size="17.4" textLength="8.6" lengthAdjust="spacingAndGlyphs" stroke-width="0.7">6</text>
<text x="539.2" y="565.3" font-size="16.4" textLength="15" lengthAdjust="spacingAndGlyphs" stroke-width="0.75">10</text>
<text x="554.4" y="554.8" font-size="17.4" textLength="8.6" lengthAdjust="spacingAndGlyphs" stroke-width="0.7">8</text>
<text x="125.6" y="118" font-size="19.5" text-anchor="start" textLength="24.19" lengthAdjust="spacingAndGlyphs">Q1</text>
<text x="125.6" y="146" font-size="19.5" text-anchor="start" textLength="35.29" lengthAdjust="spacingAndGlyphs">1.15</text>
<text x="527.4" y="118" font-size="19.5" text-anchor="end" textLength="24.19" lengthAdjust="spacingAndGlyphs">Q2</text>
<text x="527.4" y="146" font-size="19.5" text-anchor="end" textLength="35.29" lengthAdjust="spacingAndGlyphs">18.4</text>
<text x="125.6" y="476.8" font-size="19.5" text-anchor="start" textLength="24.19" lengthAdjust="spacingAndGlyphs">Q4</text>
<text x="125.6" y="504.8" font-size="19.5" text-anchor="start" textLength="35.29" lengthAdjust="spacingAndGlyphs">18.6</text>
<text x="527.4" y="476.8" font-size="19.5" text-anchor="end" textLength="24.19" lengthAdjust="spacingAndGlyphs">Q3</text>
<text x="527.4" y="504.8" font-size="19.5" text-anchor="end" textLength="35.29" lengthAdjust="spacingAndGlyphs">61.9</text>
<text x="340" y="615.8" font-size="18.4" text-anchor="middle" textLength="118" lengthAdjust="spacingAndGlyphs">488Grn(Area)</text>
<text transform="translate(25.2 304) rotate(-90)" font-size="18.4" text-anchor="middle" textLength="118" lengthAdjust="spacingAndGlyphs">488Org(Area)</text>
</g>
</g>
<text transform="translate(661.8 1231.3) scale(1.09 1)" font-family='"Noto Sans CJK SC", "Liberation Sans", sans-serif' font-weight="300" font-size="48" fill="#231815" stroke="#231815" stroke-width="0.9">40</text>
<g font-family='"Liberation Sans", Arial, Helvetica, sans-serif' fill="#000" stroke="#000" stroke-width="0.3">
<path d="M1451.8 650.5H1491.4M1471.6 650.5V664.8" stroke="#000" stroke-width="2.6" fill="none"/>
<rect x="1435.4" y="665.7" width="72.4" height="92.8" fill="#808080" stroke="#000" stroke-width="5.8"/>
<path d="M1569.1 521.5H1608.7M1588.9 521.5V543.1" stroke="#000" stroke-width="2.6" fill="none"/>
<rect x="1552.7" y="544" width="72.4" height="214.5" fill="#808080" stroke="#000" stroke-width="5.8"/>
<path d="M1686.5 506.2H1726.1M1706.3 506.2V510.6" stroke="#000" stroke-width="2.6" fill="none"/>
<rect x="1670.1" y="511.5" width="72.4" height="247" fill="#808080" stroke="#000" stroke-width="5.8"/>
<path d="M1804.1 438.5H1843.7M1823.9 438.5V451.5" stroke="#000" stroke-width="2.6" fill="none"/>
<rect x="1787.7" y="452.4" width="72.4" height="306.1" fill="#808080" stroke="#000" stroke-width="5.8"/>
<path d="M1409 423.5V760.5M1392.5 758.5H1889.5" stroke="#000" stroke-width="4" fill="none"/>
<path d="M1392.5 675.25H1409M1392.5 592H1409M1392.5 508.75H1409M1392.5 425.5H1409M1471.6 758.5V775M1588.9 758.5V775M1706.3 758.5V775M1823.9 758.5V775" stroke="#000" stroke-width="4" fill="none"/>
<text x="1389.2" y="768.7" font-size="29.5" text-anchor="end">0</text>
<text x="1389.2" y="685.45" font-size="29.5" text-anchor="end">20</text>
<text x="1389.2" y="602.2" font-size="29.5" text-anchor="end">40</text>
<text x="1389.2" y="518.95" font-size="29.5" text-anchor="end">60</text>
<text x="1389.2" y="435.7" font-size="29.5" text-anchor="end">80</text>
<text x="1471.6" y="806.2" font-size="29.5" text-anchor="middle">0</text>
<text x="1588.9" y="806.2" font-size="29.5" text-anchor="middle">10</text>
<text x="1706.3" y="806.2" font-size="29.5" text-anchor="middle">20</text>
<text x="1823.9" y="806.2" font-size="29.5" text-anchor="middle">40</text>
<text x="1591.4" y="528.2" font-size="32" text-anchor="middle" stroke-width="0.7">****</text>
<text x="1708.8" y="511" font-size="32" text-anchor="middle" stroke-width="0.7">****</text>
<text x="1826.4" y="445" font-size="32" text-anchor="middle" stroke-width="0.7">****</text>
<text x="1612.8" y="868.7" font-size="32" text-anchor="middle" textLength="573" lengthAdjust="spacingAndGlyphs">Concentration of dihydroartemisinin(uM)</text>
<text transform="translate(1335.2 600.5) rotate(-90)" font-size="32" text-anchor="middle">Apoptosis(%)</text>
</g>
</svg>
</body></html>
